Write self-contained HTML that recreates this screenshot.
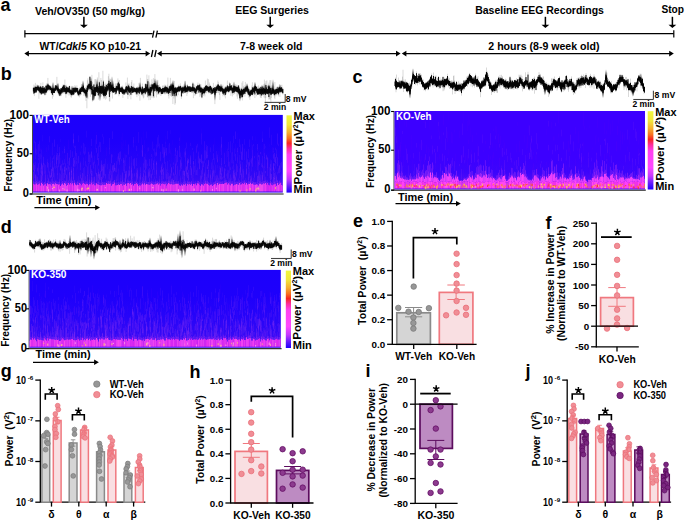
<!DOCTYPE html>
<html><head><meta charset="utf-8"><title>Figure</title>
<style>html,body{margin:0;padding:0;background:#fff;} body{width:685px;height:521px;overflow:hidden;font-family:"Liberation Sans",sans-serif;} svg{display:block;}</style>
</head><body>
<svg width="685" height="521" viewBox="0 0 685 521" font-family="Liberation Sans, sans-serif"><defs><linearGradient id="sg21" x1="0" y1="0" x2="0" y2="1"><stop offset="0" stop-color="#1c00fb"/><stop offset="0.35" stop-color="#1e00fb"/><stop offset="0.6" stop-color="#2604f9"/><stop offset="0.8" stop-color="#3208f6"/><stop offset="0.9" stop-color="#400cf4"/><stop offset="1" stop-color="#400cf4"/></linearGradient><clipPath id="cp21"><rect x="33" y="114.9" width="249.8" height="77.7"/></clipPath><filter id="blur" x="-5%" y="-5%" width="110%" height="110%"><feGaussianBlur stdDeviation="0.55"/></filter><linearGradient id="cb2865_115" x1="0" y1="0" x2="0" y2="1"><stop offset="0" stop-color="#f0f840"/><stop offset="0.12" stop-color="#f2e63c"/><stop offset="0.22" stop-color="#f6b030"/><stop offset="0.3" stop-color="#f87020"/><stop offset="0.36" stop-color="#f82420"/><stop offset="0.43" stop-color="#ff2c9c"/><stop offset="0.51" stop-color="#ff40f0"/><stop offset="0.72" stop-color="#ff48ff"/><stop offset="0.83" stop-color="#c438ff"/><stop offset="0.93" stop-color="#5a18fd"/><stop offset="1" stop-color="#2000fc"/></linearGradient><linearGradient id="sg22" x1="0" y1="0" x2="0" y2="1"><stop offset="0" stop-color="#3c00ff"/><stop offset="0.62" stop-color="#3c00ff"/><stop offset="0.78" stop-color="#3c04fc"/><stop offset="0.9" stop-color="#4c0cf8"/><stop offset="1" stop-color="#5010f8"/></linearGradient><clipPath id="cp22"><rect x="394.5" y="111" width="250.5" height="78.4"/></clipPath><linearGradient id="cb6477_111" x1="0" y1="0" x2="0" y2="1"><stop offset="0" stop-color="#f0f840"/><stop offset="0.12" stop-color="#f2e63c"/><stop offset="0.22" stop-color="#f6b030"/><stop offset="0.3" stop-color="#f87020"/><stop offset="0.36" stop-color="#f82420"/><stop offset="0.43" stop-color="#ff2c9c"/><stop offset="0.51" stop-color="#ff40f0"/><stop offset="0.72" stop-color="#ff48ff"/><stop offset="0.83" stop-color="#c438ff"/><stop offset="0.93" stop-color="#5a18fd"/><stop offset="1" stop-color="#2000fc"/></linearGradient><linearGradient id="sg23" x1="0" y1="0" x2="0" y2="1"><stop offset="0" stop-color="#1c00fb"/><stop offset="0.35" stop-color="#1e00fb"/><stop offset="0.6" stop-color="#2604f9"/><stop offset="0.8" stop-color="#3208f6"/><stop offset="0.9" stop-color="#400cf4"/><stop offset="1" stop-color="#400cf4"/></linearGradient><clipPath id="cp23"><rect x="29.6" y="269.9" width="251.2" height="77.9"/></clipPath><linearGradient id="cb2858_270" x1="0" y1="0" x2="0" y2="1"><stop offset="0" stop-color="#f0f840"/><stop offset="0.12" stop-color="#f2e63c"/><stop offset="0.22" stop-color="#f6b030"/><stop offset="0.3" stop-color="#f87020"/><stop offset="0.36" stop-color="#f82420"/><stop offset="0.43" stop-color="#ff2c9c"/><stop offset="0.51" stop-color="#ff40f0"/><stop offset="0.72" stop-color="#ff48ff"/><stop offset="0.83" stop-color="#c438ff"/><stop offset="0.93" stop-color="#5a18fd"/><stop offset="1" stop-color="#2000fc"/></linearGradient></defs><text x="0.6" y="10.6" font-size="18" font-weight="bold">a</text>
<text x="35" y="14.6" font-size="10.3" font-weight="bold" textLength="110" lengthAdjust="spacingAndGlyphs">Veh/OV350 (50 mg/kg)</text>
<line x1="83.9" y1="16.8" x2="83.9" y2="25.5" stroke="#000" stroke-width="1.5"/>
<path d="M80 24.7 L87.8 24.7 L83.9 28 Z" stroke="none" stroke-width="1.3" fill="#000"/>
<text x="235.2" y="13.8" font-size="10.3" font-weight="bold" textLength="73.7" lengthAdjust="spacingAndGlyphs">EEG Surgeries</text>
<line x1="270.2" y1="16.8" x2="270.2" y2="25.5" stroke="#000" stroke-width="1.5"/>
<path d="M266.3 24.7 L274.1 24.7 L270.2 28 Z" stroke="none" stroke-width="1.3" fill="#000"/>
<text x="475.2" y="13.8" font-size="10.3" font-weight="bold" textLength="128.7" lengthAdjust="spacingAndGlyphs">Baseline EEG Recordings</text>
<line x1="545.4" y1="16.8" x2="545.4" y2="25.5" stroke="#000" stroke-width="1.5"/>
<path d="M541.5 24.7 L549.3 24.7 L545.4 28 Z" stroke="none" stroke-width="1.3" fill="#000"/>
<text x="661.4" y="12.6" font-size="10.3" font-weight="bold" textLength="22.6" lengthAdjust="spacingAndGlyphs">Stop</text>
<line x1="672.4" y1="16.8" x2="672.4" y2="25.5" stroke="#000" stroke-width="1.5"/>
<path d="M668.5 24.7 L676.3 24.7 L672.4 28 Z" stroke="none" stroke-width="1.3" fill="#000"/>
<line x1="24.8" y1="33.6" x2="152.6" y2="33.6" stroke="#000" stroke-width="1.4"/>
<line x1="157.2" y1="33.6" x2="673.8" y2="33.6" stroke="#000" stroke-width="1.4"/>
<line x1="24.9" y1="30.2" x2="24.9" y2="37.4" stroke="#000" stroke-width="1.2"/>
<line x1="673.8" y1="30.2" x2="673.8" y2="37.4" stroke="#000" stroke-width="1.2"/>
<line x1="154" y1="30.6" x2="152.5" y2="37.6" stroke="#000" stroke-width="1.3"/>
<line x1="157.4" y1="30.6" x2="155.9" y2="37.6" stroke="#000" stroke-width="1.3"/>
<line x1="27.3" y1="53.6" x2="147.2" y2="53.6" stroke="#000" stroke-width="1.4"/>
<path d="M24.3 53.6 L28.9 50.8 L28.9 56.4 Z" stroke="none" stroke-width="1.3" fill="#000"/>
<path d="M150.2 53.6 L145.6 50.8 L145.6 56.4 Z" stroke="none" stroke-width="1.3" fill="#000"/>
<line x1="160.1" y1="53.6" x2="397.6" y2="53.6" stroke="#000" stroke-width="1.4"/>
<path d="M157.1 53.6 L161.7 50.8 L161.7 56.4 Z" stroke="none" stroke-width="1.3" fill="#000"/>
<path d="M400.6 53.6 L396 50.8 L396 56.4 Z" stroke="none" stroke-width="1.3" fill="#000"/>
<line x1="404.8" y1="53.6" x2="670.8" y2="53.6" stroke="#000" stroke-width="1.4"/>
<path d="M401.8 53.6 L406.4 50.8 L406.4 56.4 Z" stroke="none" stroke-width="1.3" fill="#000"/>
<path d="M673.8 53.6 L669.2 50.8 L669.2 56.4 Z" stroke="none" stroke-width="1.3" fill="#000"/>
<line x1="152.9" y1="50" x2="151.4" y2="57" stroke="#000" stroke-width="1.3"/>
<line x1="156.2" y1="50" x2="154.7" y2="57" stroke="#000" stroke-width="1.3"/>
<text x="39.5" y="49.6" font-size="10.3" font-weight="bold" textLength="101.5" lengthAdjust="spacingAndGlyphs">WT/<tspan font-style="italic">Cdkl5</tspan> KO p10-21</text>
<text x="240" y="49.6" font-size="10.3" font-weight="bold" textLength="62.5" lengthAdjust="spacingAndGlyphs">7-8 week old</text>
<text x="488.3" y="49.6" font-size="10.3" font-weight="bold" textLength="111.2" lengthAdjust="spacingAndGlyphs">2 hours (8-9 week old)</text>
<text x="0.8" y="79.6" font-size="18" font-weight="bold">b</text>
<path d="M33.4 87.53V92.84M33.9 84.57V94.41M34.4 85.69V96.09M34.9 86.9V92.55M35.4 82.85V93.1M35.9 86.72V92.89M36.4 84.73V92.98M36.9 86.65V90.49M37.4 84.49V91.04M37.9 85.4V91.43M38.4 85.69V90.89M38.9 85.26V98.82M39.4 87.52V93.3M39.9 85.6V92.55M40.4 86.1V94.62M40.9 82.82V92.54M41.4 87.23V94.47M41.9 87.12V92.92M42.4 86.42V94.01M42.9 82.4V94.26M43.4 87.69V93.75M43.9 87.26V93.11M44.4 86.71V93.52M44.9 88.53V95.77M45.4 88.16V93.02M45.9 84.96V94.98M46.4 83.35V93.34M46.9 84.25V91.11M47.4 84.7V92.41M47.9 77.91V89.17M48.4 84.69V90.18M48.9 84.95V91.48M49.4 85.25V90.9M49.9 85.19V90M50.4 85.68V90.6M50.9 85.46V91.83M51.4 87.52V93.77M51.9 88.55V93.79M52.4 84.69V98.73M52.9 87.61V92.75M53.4 87.98V96.53M53.9 86.69V93.24M54.4 87.59V93.05M54.9 85.85V93.23M55.4 85.11V91.4M55.9 86.56V91.14M56.4 84.57V90.97M56.9 76.87V92.58M57.4 84.27V92.31M57.9 84.12V92.9M58.4 88.1V95.64M58.9 88.71V94.88M59.4 88.79V95.15M59.9 89.93V96.33M60.4 88.38V95.05M60.9 88.29V94.32M61.4 88.2V96.12M61.9 88.41V94.35M62.4 86.3V93.04M62.9 84.54V91.54M63.4 85.71V93.62M63.9 84.04V90.46M64.4 84.79V93.05M64.9 79.57V93.79M65.4 88.07V93.2M65.9 87.74V97.73M66.4 84.81V93.62M66.9 86.68V93.21M67.4 87.62V94.45M67.9 86.86V91.9M68.4 87.7V92.67M68.9 87.98V95.69M69.4 85.45V94.61M69.9 88.04V94.01M70.4 89.44V94.24M70.9 86.42V97.21M71.4 88.47V97.64M71.9 90.31V95.39M72.4 88.25V95.67M72.9 86.39V95.55M73.4 86.65V94.62M73.9 87.06V95.37M74.4 87.83V94.03M74.9 85.11V92.56M75.4 86.21V92.5M75.9 87.43V92.56M76.4 86.95V92.54M76.9 85.34V91.6M77.4 87.4V94M77.9 88.05V95.66M78.4 88.13V96.41M78.9 90.59V95.52M79.4 88.15V97.39M79.9 87.08V94.5M80.4 87.7V94.28M80.9 87.15V94.47M81.4 84.29V94.87M81.9 83.98V90.57M82.4 85V91.61M82.9 86.76V92.68M83.4 82.64V92.57M83.9 87.63V95.97M84.4 87.39V94.33M84.9 88.97V95.19M85.4 87.71V96.88M85.9 86.96V100.91M86.4 89.24V94.09M86.9 85.25V108.34M87.4 80.38V96.57M87.9 78.35V99.16M88.4 83.87V88.62M88.9 82.49V90.25M89.4 83.12V89.15M89.9 76.45V91.49M90.4 80.87V96.82M90.9 80.85V91.35M91.4 85.46V93.01M91.9 74.82V95.01M92.4 81.96V101.64M92.9 85.78V100.87M93.4 88.79V99.07M93.9 83.57V99.43M94.4 87.38V96.22M94.9 79.22V96.57M95.4 79.18V96.32M95.9 85.64V92.6M96.4 85.84V93.52M96.9 84.4V95.69M97.4 77.51V95.08M97.9 82.41V91.99M98.4 86.35V99.66M98.9 72.23V95.69M99.4 80.73V94.03M99.9 83.61V100.64M100.4 85.39V96.99M100.9 77.94V92.66M101.4 80.03V96.61M101.9 83.77V94.18M102.4 84.58V93.55M102.9 70.76V94.68M103.4 80.03V96.22M103.9 83.73V98.99M104.4 87.32V98.08M104.9 83.85V94.57M105.4 84.76V99.67M105.9 82.59V94.58M106.4 84.53V98.63M106.9 87.69V92.11M107.4 83.37V93.19M107.9 83.51V92.08M108.4 76.22V89.7M108.9 73.72V94.23M109.4 80.87V101.32M109.9 78.51V101.45M110.4 79.16V94.25M110.9 81.86V90.97M111.4 85.59V91.36M111.9 84.44V92.43M112.4 87.83V98.5M112.9 86.19V92.25M113.4 84.13V92.79M113.9 86.84V92.57M114.4 87.97V92.48M114.9 85.98V94.99M115.4 83.42V91.96M115.9 87.59V94.79M116.4 83.36V93.35M116.9 87.39V91.14M117.4 83.41V90.42M117.9 78.38V91.47M118.4 80.77V91.38M118.9 84.78V96.31M119.4 80.01V94.66M119.9 86.44V93.2M120.4 87.43V92.01M120.9 86.38V91.86M121.4 86.27V92.82M121.9 85.96V93.2M122.4 85.56V93.97M122.9 86.45V97.91M123.4 88.1V93.71M123.9 89.58V94.64M124.4 89.53V94.96M124.9 88.73V94.83M125.4 87.95V92.67M125.9 82.44V93.89M126.4 85.78V93.87M126.9 85.65V93.71M127.4 77.57V94.13M127.9 83.72V98.96M128.4 83.55V92.79M128.9 85.59V92.11M129.4 83.61V96.27M129.9 86.49V93.35M130.4 88.22V94.65M130.9 85.57V99.39M131.4 82.12V92.54M131.9 80.09V95.2M132.4 86.93V93.02M132.9 85.77V93.1M133.4 86.83V92.31M133.9 83.49V92.63M134.4 87.49V93.02M134.9 88.12V92.01M135.4 88.62V94.51M135.9 88.27V92.73M136.4 86.89V94.74M136.9 87.97V97.21M137.4 86.55V94.27M137.9 86.64V93.47M138.4 86.91V95.72M138.9 82.91V92.88M139.4 86.96V94.47M139.9 87.62V100.69M140.4 77.83V92.91M140.9 86.17V92.22M141.4 87.24V94.2M141.9 88.79V95.4M142.4 83.5V96.34M142.9 87.95V93.44M143.4 87.4V98.42M143.9 88.31V97.53M144.4 88.23V93.69M144.9 87.71V94.44M145.4 83.09V95.07M145.9 83.39V92.36M146.4 83.83V93.17M146.9 74.6V93M147.4 79.34V97.07M147.9 79.18V94.18M148.4 88.47V95.47M148.9 75.33V100.18M149.4 82.26V96.29M149.9 91.7V97.17M150.4 86.97V99.97M150.9 84.73V95.78M151.4 83.44V91.74M151.9 79.31V98.16M152.4 84.87V88.99M152.9 82.4V93.3M153.4 78.1V98.21M153.9 83.27V89.52M154.4 82.95V97.74M154.9 74.07V91.7M155.4 81.14V88.81M155.9 83.69V93.25M156.4 85.25V97.47M156.9 85.63V92.08M157.4 85.02V94.84M157.9 80.17V91.66M158.4 85.76V94.16M158.9 87.09V95.06M159.4 84.44V92.68M159.9 85.94V93.65M160.4 86.76V92.13M160.9 88.56V95.97M161.4 88.59V94.2M161.9 88.89V94.51M162.4 85.83V93.98M162.9 85.32V94.03M163.4 87.65V93.81M163.9 85.51V92.26M164.4 86.21V93.5M164.9 84.52V91.29M165.4 84.96V92.11M165.9 85.46V92.2M166.4 86.8V91.65M166.9 86.47V94.02M167.4 84.6V92.35M167.9 77.55V93.58M168.4 86.74V96.03M168.9 87.83V98.54M169.4 84.87V94.57M169.9 86.2V93M170.4 77.86V96.08M170.9 83.65V90.82M171.4 82.81V96.92M171.9 82.99V92.91M172.4 82.36V94.38M172.9 83.15V104.08M173.4 83.71V93M173.9 85.15V98.52M174.4 80.95V95.06M174.9 86.15V104.79M175.4 86.69V103.27M175.9 87.09V93.95M176.4 88.14V96.16M176.9 87.53V97.2M177.4 86.88V92.21M177.9 87.2V92.06M178.4 85.53V95.18M178.9 84.57V91.52M179.4 86.47V92.28M179.9 86.35V91.86M180.4 83.31V90.08M180.9 85.68V90.99M181.4 86.28V98.78M181.9 87.7V96.54M182.4 85.81V92.42M182.9 85.95V94.02M183.4 86.67V91.41M183.9 84.45V93.66M184.4 85.5V91.09M184.9 86.88V92.84M185.4 81.08V93.29M185.9 87.29V93.06M186.4 85.33V91.82M186.9 87.2V96M187.4 83.99V93.78M187.9 87V92.17M188.4 86.72V91.99M188.9 85.81V92.7M189.4 86.48V92.01M189.9 86.09V90.21M190.4 85.87V92.01M190.9 88.25V92.26M191.4 87.55V92.34M191.9 86.22V93.08M192.4 83.62V92.83M192.9 81.91V92.13M193.4 86.19V98.18M193.9 83.69V92.6M194.4 87.24V91.82M194.9 84.76V95.88M195.4 88.19V94.78M195.9 88.92V94.48M196.4 86.53V92.63M196.9 86.12V93.28M197.4 84.33V89.92M197.9 82.49V94.01M198.4 84.83V90.82M198.9 84.94V92.63M199.4 83.24V92.08M199.9 87.29V97.06M200.4 87.49V95.51M200.9 84.19V92.6M201.4 86.62V93.41M201.9 88.67V98.42M202.4 87.72V95.28M202.9 87.11V93.62M203.4 87.11V95.9M203.9 89.32V93.68M204.4 86.92V95.14M204.9 87.13V96.48M205.4 80.54V92.34M205.9 85.22V92.95M206.4 85.03V93.4M206.9 84.65V91.2M207.4 78.57V91.62M207.9 86.92V90.43M208.4 79.16V93.46M208.9 86.34V91.68M209.4 82.48V92.27M209.9 84.36V93.41M210.4 85.39V90.49M210.9 86.01V94.8M211.4 87.13V94.91M211.9 88.56V94.73M212.4 87.62V93.59M212.9 86.86V93.01M213.4 82.87V94.11M213.9 88.02V92.97M214.4 88.23V92.15M214.9 86.74V104.11M215.4 87.51V95.23M215.9 84.58V93.68M216.4 86.49V91.09M216.9 85.08V92.78M217.4 84.19V90.23M217.9 80.54V92.94M218.4 82.22V93.16M218.9 85.44V90.55M219.4 85.84V95.04M219.9 85.53V99.94M220.4 85.94V91.89M220.9 85.93V92.29M221.4 87.09V91.59M221.9 85.73V91.22M222.4 88.14V93.51M222.9 84.59V96.38M223.4 88.7V94.48M223.9 87.69V94.91M224.4 88.1V96.35M224.9 86.7V95.51M225.4 85.99V98.39M225.9 86.55V94.18M226.4 86.76V94.45M226.9 86.69V91.47M227.4 80.55V92.31M227.9 86.32V92.02M228.4 86.33V93.38M228.9 85.82V92.46M229.4 81.99V92.33M229.9 83.36V90.91M230.4 85.21V90.94M230.9 86.08V95.83M231.4 85.06V90.72M231.9 86.42V93.42M232.4 84.45V96.52M232.9 85.02V92.99M233.4 86.21V94.81M233.9 85.19V92.16M234.4 86.06V93.77M234.9 86.4V94.3M235.4 84.34V92.01M235.9 84.58V91.9M236.4 85.86V92.14M236.9 84.73V96.52M237.4 86.5V98.75M237.9 86.29V92.71M238.4 85.42V93.61M238.9 87.49V96.08M239.4 85.59V94.68M239.9 87.6V98.77M240.4 90.64V95.11M240.9 88.67V98.42M241.4 87.62V95.22M241.9 82.66V97.78M242.4 88.89V100.41M242.9 81.04V94.54M243.4 86.13V96.6M243.9 87.58V94.15M244.4 88.23V94.26M244.9 85.14V96.65M245.4 81.9V93.42M245.9 86.31V92.35M246.4 87.98V91.89M246.9 85.56V93.34M247.4 84.8V94.46M247.9 85.95V95.4M248.4 88.61V94.41M248.9 86.84V97.75M249.4 89.83V97.14M249.9 90.85V99.88M250.4 89.32V95.83M250.9 89.57V95.95M251.4 89.22V94.73M251.9 85.48V95.09M252.4 82.29V95.16M252.9 87.77V96.35M253.4 86.4V93.68M253.9 86.04V94.71M254.4 85.27V93.07M254.9 82.42V98.07M255.4 83.92V91.31M255.9 86.16V91M256.4 86.03V96.25M256.9 86.21V93.53M257.4 88.07V94.4M257.9 86.57V95M258.4 85.38V94.78M258.9 89.03V93.67M259.4 86.72V95.57M259.9 87.46V93.95M260.4 87.05V97.88M260.9 86.58V96.57M261.4 86.86V98.05M261.9 86.45V93.59M262.4 88.2V95.58M262.9 86V95.39M263.4 84.38V94.82M263.9 87.23V97.45M264.4 79.65V93.95M264.9 88.48V98.32M265.4 88.75V104.18M265.9 81.14V97.9M266.4 85.65V93.4M266.9 80.28V94.33M267.4 85.98V94.89M267.9 85.16V94.04M268.4 84.33V97.02M268.9 82.62V99.69M269.4 85.31V99.19M269.9 80.2V93.75M270.4 85.92V99.56M270.9 80.1V103.38M271.4 85.39V97.94M271.9 87.19V94.21M272.4 85.94V94.15M272.9 84.96V93.55M273.4 88.47V95.26M273.9 86.32V94.99M274.4 88.83V97.71M274.9 82.04V99.2M275.4 88.42V94.59M275.9 89.08V96.37M276.4 87.13V94.84M276.9 86.69V94.66M277.4 88.89V93.36M277.9 85.95V94.33M278.4 87.86V96.36M278.9 86.83V94.19M279.4 84.17V91.91M279.9 86.59V96.91M280.4 87.67V92.41M280.9 85.04V92.7M281.4 87.22V92.28M281.9 84.71V92.54M282.4 87.57V93.84M282.9 87.67V94.63" stroke="#000" stroke-width="0.5" opacity="0.3" fill="none"/>
<path d="M33.4 87.69V91.46M33.9 88.08V93.67M34.4 88.07V92.94M34.9 87.29V92.34M35.4 86.73V91.61M35.9 86.88V92.67M36.4 86.98V91.77M36.9 86.84V89.9M37.4 86.76V90.25M37.9 85.49V89.33M38.4 86.78V90.55M38.9 86.71V91.17M39.4 87.77V91.62M39.9 87.21V92.51M40.4 86.59V93.31M40.9 86.63V92.16M41.4 87.73V94.39M41.9 88.15V92.69M42.4 87.81V92.79M42.9 86.04V93.71M43.4 87.9V93.2M43.9 88.46V92.43M44.4 87.44V92.61M44.9 88.77V94.68M45.4 88.94V92.23M45.9 85.84V92.99M46.4 85.68V92.2M46.9 86.55V90.57M47.4 85.16V90.42M47.9 83.69V89.12M48.4 84.82V89.23M48.9 85.87V90.02M49.4 85.62V89.23M49.9 86.08V89.29M50.4 86.74V90.01M50.9 86.66V90.18M51.4 87.98V93M51.9 88.7V93.19M52.4 88.6V94.93M52.9 88.59V92.43M53.4 88.57V92.89M53.9 89.02V92.95M54.4 88.46V92.98M54.9 87.7V91.05M55.4 85.29V90.77M55.9 86.74V90.04M56.4 85.53V89.13M56.9 85.91V90M57.4 87.42V90.91M57.9 88.3V91.59M58.4 88.86V93.12M58.9 88.8V93.64M59.4 89.14V94.52M59.9 90.55V96.06M60.4 89.65V94.61M60.9 88.4V94.1M61.4 88.22V92.46M61.9 88.85V93.23M62.4 86.84V92.3M62.9 86.85V90.3M63.4 85.74V92.2M63.9 84.99V90.37M64.4 87.19V92.01M64.9 85.43V91.08M65.4 88.2V92.16M65.9 88V94.15M66.4 86.66V93.47M66.9 87.99V92.68M67.4 88.21V91.99M67.9 86.91V91.39M68.4 88.02V91.99M68.9 88.05V92.48M69.4 86.02V92.51M69.9 89.2V93.08M70.4 90.05V93.38M70.9 90.58V94.58M71.4 90.35V95.21M71.9 90.73V94.75M72.4 90.84V94.23M72.9 87.98V94.61M73.4 87.91V94.53M73.9 89.76V94.31M74.4 88.14V92.19M74.9 87.57V92.35M75.4 87.79V92.47M75.9 88.4V91.86M76.4 87.94V91.76M76.9 88.1V91.49M77.4 88.06V92.97M77.9 90.44V94.32M78.4 91.81V95.32M78.9 90.91V94.64M79.4 89.78V94.21M79.9 89.17V92.67M80.4 88.26V93.99M80.9 88.51V91.91M81.4 87.26V91.94M81.9 86.57V90.18M82.4 87.08V91.52M82.9 87.1V91.68M83.4 85.67V91.94M83.9 88.22V92.37M84.4 88.49V93.23M84.9 89.54V93.22M85.4 89.55V93.53M85.9 90.15V95.78M86.4 89.8V93.6M86.9 87.81V97.7M87.4 85.77V91.88M87.9 85.36V90.31M88.4 84.56V88.3M88.9 83.79V89.25M89.4 83.97V87.78M89.9 76.75V89.14M90.4 84.77V88.96M90.9 81.1V89.34M91.4 86.7V90.02M91.9 85.89V94.33M92.4 89.23V94.16M92.9 86.26V100.27M93.4 90.03V95.06M93.9 84.51V94.54M94.4 87.46V95.56M94.9 87.1V96.03M95.4 87.08V95.71M95.9 88.45V91.62M96.4 86.68V92M96.9 84.5V91.33M97.4 86.92V92.86M97.9 87.23V91.54M98.4 87.73V95.43M98.9 85.88V91.72M99.4 82.3V92.27M99.9 87.7V93.37M100.4 85.99V93.08M100.9 86.62V90.72M101.4 85.79V93.92M101.9 87.52V92.94M102.4 85.65V92.98M102.9 87.31V94.54M103.4 81.51V95.22M103.9 86.85V96.03M104.4 88.81V95.47M104.9 86.25V94.39M105.4 87.21V96.11M105.9 87.18V94.28M106.4 84.88V94.85M106.9 87.69V91.57M107.4 86.04V90.45M107.9 83.99V90.63M108.4 83.16V88.72M108.9 80.69V90.38M109.4 83.52V96.95M109.9 83.7V89.42M110.4 82.08V91.74M110.9 84.85V89.6M111.4 85.97V90.97M111.9 84.68V90.84M112.4 88.08V92.39M112.9 87.04V91.56M113.4 87.08V92.6M113.9 87.95V92.48M114.4 88.05V91.52M114.9 88.33V91.77M115.4 88.03V91.61M115.9 87.69V94.05M116.4 85.84V92.6M116.9 87.45V90.64M117.4 86.18V89.55M117.9 83.4V90.49M118.4 82.42V88.98M118.9 85.19V90.25M119.4 83.66V94.04M119.9 87.34V90.72M120.4 88.18V91.96M120.9 88.07V91.63M121.4 87.8V92.06M121.9 87.09V92.44M122.4 87.68V93.58M122.9 88.77V93.9M123.4 89.34V93.15M123.9 89.83V94.52M124.4 89.67V93.47M124.9 89.71V93.37M125.4 88.73V92.33M125.9 86.75V92M126.4 86.35V92.53M126.9 86.4V90.4M127.4 87.32V90.36M127.9 86.76V94.77M128.4 85.41V91.42M128.9 86.08V91.77M129.4 87.41V92.81M129.9 88.55V92.38M130.4 88.25V92.13M130.9 87.72V94.71M131.4 86.08V90.89M131.9 88.56V92.73M132.4 87.29V92.57M132.9 86.76V92.5M133.4 88.66V92.18M133.9 87.52V91.98M134.4 88.05V91.6M134.9 88.39V91.75M135.4 88.78V91.95M135.9 88.31V92.32M136.4 87.73V93.41M136.9 88.2V94.33M137.4 88.33V92.5M137.9 87.62V91.66M138.4 88.56V92.71M138.9 87.7V90.99M139.4 87.34V93.68M139.9 87.85V91.16M140.4 87.48V91.46M140.9 87.77V91.95M141.4 89.3V93.33M141.9 89.51V94.7M142.4 86.61V93.72M142.9 89.39V93.39M143.4 89.23V92.88M143.9 88.35V92.64M144.4 88.41V92.67M144.9 87.98V91.66M145.4 84.09V93.66M145.9 86.44V91.17M146.4 86.83V91.85M146.9 84.27V90.09M147.4 84.52V91.38M147.9 81.22V90.8M148.4 89.12V93.02M148.9 87.65V95.71M149.4 88.87V95.12M149.9 91.74V95.35M150.4 86.99V95.5M150.9 87.74V92.77M151.4 86.92V91.43M151.9 84.37V89.4M152.4 85.25V88.75M152.9 84.13V90.56M153.4 84.55V96.28M153.9 83.45V88.94M154.4 83.37V91.28M154.9 83.26V88.09M155.4 85.2V88.57M155.9 84.52V90.91M156.4 85.61V90.18M156.9 86.72V91.6M157.4 87.18V90.88M157.9 85.22V90.98M158.4 87.68V93.5M158.9 87.28V92.52M159.4 87.19V91.99M159.9 87.12V90.97M160.4 88.12V91.51M160.9 88.97V92.4M161.4 88.99V94M161.9 89.05V92.48M162.4 88.1V93.97M162.9 88.66V93.21M163.4 88.23V92.09M163.9 87.94V91.55M164.4 87.84V92.19M164.9 86.96V90.98M165.4 86.43V91.51M165.9 87.46V91.51M166.4 86.89V91.64M166.9 87.93V93.24M167.4 87.43V92.16M167.9 88.25V92.4M168.4 88.65V93.86M168.9 88.77V93.01M169.4 86.16V91.68M169.9 87.15V93M170.4 85.89V91.04M170.9 84.58V90.65M171.4 86.23V89.37M171.9 84.48V89.9M172.4 84.72V90.96M172.9 85.72V95.99M173.4 85.32V92.52M173.9 87.5V94.25M174.4 88.02V93.79M174.9 87.63V96.24M175.4 87.88V92.92M175.9 87.35V92.63M176.4 88.78V95.63M176.9 87.9V92.4M177.4 87.66V91.65M177.9 87.26V91.83M178.4 86.45V91M178.9 86.92V91.36M179.4 86.54V91.25M179.9 86.88V91.23M180.4 85.89V90.04M180.9 87.09V90.71M181.4 87.97V96.42M181.9 87.79V93M182.4 87.41V92.07M182.9 87.39V93.28M183.4 88.05V91.23M183.9 86.81V91.44M184.4 86.6V90.76M184.9 87.02V92.8M185.4 85.72V91.76M185.9 88.06V92.1M186.4 87.5V91.74M186.9 87.44V92.13M187.4 85.53V91.51M187.9 87.13V90.33M188.4 86.88V90.6M188.9 86.11V90.52M189.4 87.18V91.55M189.9 86.47V90.1M190.4 86.85V91.82M190.9 88.32V91.56M191.4 87.58V90.86M191.9 87.1V91.37M192.4 86.66V91.05M192.9 83.51V91.23M193.4 87.37V90.91M193.9 87.44V91.31M194.4 87.67V91.58M194.9 87.91V93.04M195.4 88.67V93.09M195.9 89.11V94M196.4 86.64V91.6M196.9 86.43V91.11M197.4 85.79V89.69M197.9 85.09V89.84M198.4 85.65V89.92M198.9 85.65V92.59M199.4 84.73V90.86M199.9 87.98V91.35M200.4 87.61V92.48M200.9 87.99V92.19M201.4 87.59V92.08M201.9 89.44V97.51M202.4 88.97V94.31M202.9 88.4V92.82M203.4 88.87V93.3M203.9 89.64V93.09M204.4 87.41V93.39M204.9 87.89V92.56M205.4 85.89V91.42M205.9 86.45V90.44M206.4 85.43V90.58M206.9 86.14V90.91M207.4 86.35V90.61M207.9 86.97V89.96M208.4 86.75V92.28M208.9 87.4V90.91M209.4 86.76V91.44M209.9 86.2V92.69M210.4 85.93V89.76M210.9 86.78V93.19M211.4 87.76V91.3M211.9 88.67V93.99M212.4 89.79V93.48M212.9 89.37V92.8M213.4 88.06V91.34M213.9 88.03V92.77M214.4 88.58V91.69M214.9 87V94.63M215.4 88.56V92.38M215.9 87.41V92.97M216.4 87.09V90.72M216.9 86.07V90.9M217.4 85.61V89.54M217.9 84.56V89.45M218.4 84.52V90.89M218.9 85.52V89.83M219.4 86.14V90.88M219.9 86.07V91.18M220.4 87.22V91.08M220.9 87.23V91.84M221.4 87.58V90.84M221.9 86.42V90.73M222.4 88.22V92.24M222.9 88.45V93.74M223.4 89.37V93M223.9 88.92V94.47M224.4 89.48V92.81M224.9 88.59V93.08M225.4 87.48V94.9M225.9 87.61V92.61M226.4 88.46V91.8M226.9 86.73V90.85M227.4 85.42V90.9M227.9 86.4V91.41M228.4 87.64V91.66M228.9 86.39V91.83M229.4 86.34V90.79M229.9 83.51V90.54M230.4 85.77V90.12M230.9 86.21V90.12M231.4 85.29V89.88M231.9 87.74V91.24M232.4 87.79V93.18M232.9 87.51V91.81M233.4 88.24V92.78M233.9 85.81V91.43M234.4 86.14V92.35M234.9 87.77V90.97M235.4 86.31V90.97M235.9 86.97V91.54M236.4 86.87V91.47M236.9 87.51V91.89M237.4 87.38V92.31M237.9 86.93V92.11M238.4 85.45V92.9M238.9 87.54V94.33M239.4 88.85V93.74M239.9 89.66V98.08M240.4 90.94V94.73M240.9 90.6V95.46M241.4 88.78V95.19M241.9 89.69V97.31M242.4 89.78V97.07M242.9 90.04V93.77M243.4 88.72V94.47M243.9 89.14V92.1M244.4 89.1V93.27M244.9 87.54V94.03M245.4 87.6V91.75M245.9 86.58V91.39M246.4 88.34V91.59M246.9 86.55V90.59M247.4 86.47V91.78M247.9 87.89V93.21M248.4 89.23V94.19M248.9 89.3V95.01M249.4 91.63V95.38M249.9 91.47V96.43M250.4 90.6V95.71M250.9 90.43V93.81M251.4 90.01V94.61M251.9 89.59V94.57M252.4 87.35V94.87M252.9 88.65V93.69M253.4 88.27V91.85M253.9 87.31V92.13M254.4 86.62V92.79M254.9 87.29V94.44M255.4 85.97V90.89M255.9 86.73V90.63M256.4 87.01V91.6M256.9 88.94V92.95M257.4 89.04V94.08M257.9 88.63V94.94M258.4 88.85V94.11M258.9 89.89V93.51M259.4 88.31V94.24M259.9 88.87V93.01M260.4 88.9V94.29M260.9 86.85V94.05M261.4 88.51V95.51M261.9 89.88V93.18M262.4 88.88V94.16M262.9 86.61V94.45M263.4 88V93.53M263.9 88.7V94.43M264.4 88.7V93.45M264.9 88.97V93.8M265.4 89.36V94.97M265.9 85.05V93.5M266.4 87.43V93.08M266.9 89.66V94.09M267.4 89.12V93.88M267.9 88.87V93.32M268.4 86.48V93.57M268.9 85.52V97.09M269.4 86.53V93.22M269.9 88.44V93.08M270.4 87.79V93.69M270.9 88.72V95.05M271.4 90.23V94.48M271.9 87.81V93.83M272.4 88.57V93.6M272.9 89.11V93.5M273.4 89.2V93.23M273.9 89.42V93.8M274.4 90.43V95.25M274.9 89.74V94.31M275.4 89.66V94.15M275.9 89.44V94.05M276.4 88.84V93.62M276.9 88.81V92.54M277.4 89V93.09M277.9 87.11V92.63M278.4 88.43V94.32M278.9 88.28V92.65M279.4 87.14V91.55M279.9 88.01V92.46M280.4 87.99V91.9M280.9 87.59V91.66M281.4 87.27V91.17M281.9 88.5V92.06M282.4 89.31V92.71M282.9 89.05V93.24" stroke="#000" stroke-width="0.95" fill="none"/>
<path d="M52.1 90.86L53 81.86L53.9 90.86Z" stroke="none" stroke-width="1.3" fill="#000"/>
<path d="M57.1 89.72L58 82.72L58.9 89.72Z" stroke="none" stroke-width="1.3" fill="#000"/>
<path d="M71.1 92.53L72 85.53L72.9 92.53Z" stroke="none" stroke-width="1.3" fill="#000"/>
<path d="M79.1 90.96L80 95.96L80.9 90.96Z" stroke="none" stroke-width="1.3" fill="#000"/>
<path d="M82.1 89.35L83 80.35L83.9 89.35Z" stroke="none" stroke-width="1.3" fill="#000"/>
<path d="M85.1 91.98L86 97.98L86.9 91.98Z" stroke="none" stroke-width="1.3" fill="#000"/>
<path d="M90.1 86.3L91 77.3L91.9 86.3Z" stroke="none" stroke-width="1.3" fill="#000"/>
<path d="M93.1 92.84L94 100.84L94.9 92.84Z" stroke="none" stroke-width="1.3" fill="#000"/>
<path d="M96.1 88.64L97 78.64L97.9 88.64Z" stroke="none" stroke-width="1.3" fill="#000"/>
<path d="M99.1 90.41L100 100.41L100.9 90.41Z" stroke="none" stroke-width="1.3" fill="#000"/>
<path d="M103.1 91.75L104 97.75L104.9 91.75Z" stroke="none" stroke-width="1.3" fill="#000"/>
<path d="M111.1 89.37L112 76.37L112.9 89.37Z" stroke="none" stroke-width="1.3" fill="#000"/>
<path d="M112.1 89.62L113 80.62L113.9 89.62Z" stroke="none" stroke-width="1.3" fill="#000"/>
<path d="M118.1 87.98L119 93.98L119.9 87.98Z" stroke="none" stroke-width="1.3" fill="#000"/>
<path d="M139.1 89.64L140 81.64L140.9 89.64Z" stroke="none" stroke-width="1.3" fill="#000"/>
<path d="M147.1 89L148 98L148.9 89Z" stroke="none" stroke-width="1.3" fill="#000"/>
<path d="M149.1 93.49L150 83.49L150.9 93.49Z" stroke="none" stroke-width="1.3" fill="#000"/>
<path d="M154.1 86.44L155 78.44L155.9 86.44Z" stroke="none" stroke-width="1.3" fill="#000"/>
<path d="M156.1 89.35L157 79.35L157.9 89.35Z" stroke="none" stroke-width="1.3" fill="#000"/>
<path d="M164.1 88.83L165 94.83L165.9 88.83Z" stroke="none" stroke-width="1.3" fill="#000"/>
<path d="M171.1 87.52L172 96.52L172.9 87.52Z" stroke="none" stroke-width="1.3" fill="#000"/>
<path d="M172.1 88.07L173 80.07L173.9 88.07Z" stroke="none" stroke-width="1.3" fill="#000"/>
<path d="M184.1 90.35L185 80.35L185.9 90.35Z" stroke="none" stroke-width="1.3" fill="#000"/>
<path d="M199.1 89.79L200 83.79L200.9 89.79Z" stroke="none" stroke-width="1.3" fill="#000"/>
<path d="M214.1 90.67L215 100.67L215.9 90.67Z" stroke="none" stroke-width="1.3" fill="#000"/>
<path d="M220.1 89.39L221 83.39L221.9 89.39Z" stroke="none" stroke-width="1.3" fill="#000"/>
<path d="M233.1 89.56L234 81.56L234.9 89.56Z" stroke="none" stroke-width="1.3" fill="#000"/>
<path d="M239.1 92.55L240 101.55L240.9 92.55Z" stroke="none" stroke-width="1.3" fill="#000"/>
<path d="M246.1 89.11L247 83.11L247.9 89.11Z" stroke="none" stroke-width="1.3" fill="#000"/>
<path d="M254.1 88.92L255 81.92L255.9 88.92Z" stroke="none" stroke-width="1.3" fill="#000"/>
<path d="M261.1 91.55L262 84.55L262.9 91.55Z" stroke="none" stroke-width="1.3" fill="#000"/>
<path d="M264.1 91.99L265 82.99L265.9 91.99Z" stroke="none" stroke-width="1.3" fill="#000"/>
<path d="M272.1 91.37L273 79.37L273.9 91.37Z" stroke="none" stroke-width="1.3" fill="#000"/>
<path d="M279.1 90.13L280 84.13L280.9 90.13Z" stroke="none" stroke-width="1.3" fill="#000"/>
<line x1="32.5" y1="114.9" x2="32.5" y2="194" stroke="#333" stroke-width="0.9"/>
<line x1="29.6" y1="194" x2="283.6" y2="194" stroke="#666" stroke-width="1.3"/>
<line x1="29.6" y1="115.4" x2="32.4" y2="115.4" stroke="#000" stroke-width="1.1"/>
<text x="29" y="118.6" font-size="12" text-anchor="end" font-weight="bold" textLength="19.5" lengthAdjust="spacingAndGlyphs">100</text>
<line x1="29.6" y1="153.75" x2="32.4" y2="153.75" stroke="#000" stroke-width="1.1"/>
<text x="29" y="156.95" font-size="12" text-anchor="end" font-weight="bold" textLength="12.2" lengthAdjust="spacingAndGlyphs">50</text>
<line x1="29.6" y1="194" x2="32.4" y2="194" stroke="#000" stroke-width="1.1"/>
<text x="29" y="197.2" font-size="12" text-anchor="end" font-weight="bold" textLength="6.2" lengthAdjust="spacingAndGlyphs">0</text>
<text x="12.4" y="155.3" font-size="10.8" font-weight="bold" text-anchor="middle" transform="rotate(-90 12.4 155.3)" textLength="73" lengthAdjust="spacingAndGlyphs">Frequency (Hz)</text>
<text x="36.3" y="204.4" font-size="11" font-weight="bold" textLength="55.2" lengthAdjust="spacingAndGlyphs">Time (min)</text>
<line x1="34.4" y1="207.6" x2="97" y2="207.6" stroke="#000" stroke-width="1.3"/>
<path d="M100 207.6 L95.2 204.9 L95.2 210.3 Z" stroke="none" stroke-width="1.3" fill="#000"/>
<rect x="33" y="114.9" width="249.8" height="77.7" fill="url(#sg21)" stroke="none" stroke-width="1"/>
<g clip-path="url(#cp21)"><g filter="url(#blur)"><path d="M180 158.61h1v11.2h-1zM48 144.71h1v6.1h-1zM262 131.27h1v10.74h-1zM170 129.98h1v4.13h-1zM184 148.58h1v6.66h-1zM121 175.33h1v4.62h-1zM116 163.98h1v8.43h-1zM275 159.27h1v3.9h-1zM77 158.18h1v10.97h-1zM239 160.78h1v6.42h-1zM270 165.23h1v4.87h-1zM60 138.79h1v3.48h-1zM199 158.65h1v11.05h-1zM193 165.94h1v11.51h-1zM42 134.86h1v6.65h-1zM43 162.85h1v5.92h-1zM141 149.52h1v3.11h-1zM154 158.58h1v5.63h-1z" fill="#a038f0" opacity="0.05"/><path d="M121 136.99h1v3h-1zM96 131.84h1v7.6h-1zM251 142.15h1v9.73h-1zM241 155.94h1v8.75h-1zM237 133.04h1v10.14h-1zM175 167.23h1v11.66h-1zM255 136.38h1v4.99h-1zM135 136.08h1v6.89h-1zM51 161.71h1v2.09h-1zM74 160.64h1v5.23h-1zM125 139.71h1v6.37h-1zM122 132.99h1v6.97h-1zM260 159.43h1v4.04h-1zM143 156.54h1v10.99h-1zM172 139.74h1v5.42h-1zM201 128.62h1v10.4h-1zM121 141.89h1v6.99h-1zM34 162h1v2.16h-1zM206 169.65h1v8.47h-1zM89 152.34h1v4.36h-1zM176 160.89h1v7.22h-1zM269 143.77h1v2.89h-1zM249 157.76h1v2.17h-1zM114 163.3h1v2.07h-1zM152 154.54h1v2.33h-1zM176 151.31h1v2.37h-1zM156 149h1v5.36h-1zM144 152.88h1v5.97h-1zM165 135.88h1v8.89h-1zM237 163.52h1v8.33h-1zM180 154.5h1v2.3h-1zM261 152.14h1v3.64h-1z" fill="#8a30f0" opacity="0.05"/><path d="M171 152.67h1v8.86h-1zM168 169.26h1v4.19h-1zM236 149.69h1v4.29h-1zM194 163.19h1v5.88h-1zM256 153.87h1v5.32h-1zM132 159.33h1v3.37h-1zM255 152.04h1v6.57h-1zM73 155.19h1v8.97h-1zM153 143.85h1v3.28h-1zM54 147.71h1v11.96h-1zM122 143.53h1v6.08h-1zM69 167.86h1v5.77h-1zM123 140.46h1v5.26h-1zM214 138.03h1v7.12h-1zM180 133.16h1v9.66h-1zM218 150.7h1v5.54h-1zM257 155.87h1v3.74h-1zM221 144.38h1v11.11h-1zM98 170.58h1v9.38h-1zM88 147.9h1v6.85h-1zM221 146.71h1v11.88h-1zM143 163.46h1v8.89h-1zM143 131.45h1v8.04h-1zM238 146.68h1v10.18h-1zM156 155.32h1v9.33h-1zM197 156.39h1v6.25h-1zM40 158.64h1v2.97h-1zM94 166.85h1v4.61h-1zM131 165.24h1v2.96h-1z" fill="#6a20f4" opacity="0.05"/><path d="M95 139.36h1v9.93h-1zM183 174.58h1v6.93h-1zM220 165.94h1v5.98h-1zM196 145.62h1v6.35h-1zM137 168.76h1v8.87h-1zM232 142.96h1v11.24h-1zM62 151.05h1v2.6h-1zM280 137.8h1v9.68h-1zM199 157.46h1v11.94h-1zM276 154.19h1v10.12h-1zM154 156.5h1v6.19h-1zM165 141.43h1v7.04h-1zM97 164.34h1v5.12h-1zM84 143.82h1v10.8h-1zM146 131.23h1v7.37h-1zM169 159.69h1v2.17h-1zM145 153.49h1v7.65h-1zM164 150.46h1v6.17h-1zM217 164.97h1v3.38h-1zM175 156.54h1v10.43h-1zM152 155.96h1v5.58h-1zM89 154.89h1v7.48h-1zM265 146.05h1v2.07h-1zM202 161.94h1v2.18h-1z" fill="#b040f0" opacity="0.05"/><path d="M227 169.79h1v9.1h-1zM52 147.54h1v7.68h-1zM204 150.49h1v7.96h-1zM198 160.47h1v2.2h-1zM136 168.42h1v5.67h-1zM83 174.22h1v10.07h-1zM233 160.18h1v3.27h-1zM56 152.6h1v11.04h-1zM252 136.22h1v4.13h-1zM73 139.37h1v7.23h-1zM215 164.82h1v8.06h-1zM271 134.79h1v10.49h-1zM159 179.06h1v8.33h-1zM216 150.98h1v8.17h-1zM150 173.44h1v4.16h-1zM180 152.58h1v5.41h-1zM230 179.17h1v4.15h-1zM69 169.74h1v10.78h-1zM156 162.5h1v2.82h-1zM109 169.02h1v4.12h-1zM204 176.89h1v9.38h-1zM251 178.37h1v2.34h-1zM70 178.16h1v8.21h-1zM263 166.13h1v10.4h-1zM192 174.83h1v8.18h-1zM198 156.19h1v3.59h-1zM111 174.67h1v9.69h-1zM244 139.37h1v5.28h-1zM252 145.33h1v10.96h-1zM41 155.3h1v7.92h-1zM181 156.75h1v9.39h-1zM215 175.86h1v9.03h-1zM138 132.06h1v10.76h-1zM156 150.22h1v5.12h-1zM159 143.48h1v5.07h-1zM165 148.14h1v4.82h-1zM148 147.47h1v3.87h-1zM118 171.41h1v9.27h-1zM120 174.71h1v9.74h-1zM90 153.81h1v8.41h-1zM68 161.34h1v9.99h-1zM216 175.79h1v10.68h-1zM210 169.91h1v8.62h-1zM272 179.65h1v2.5h-1zM240 166.66h1v6.22h-1zM253 143.88h1v2.28h-1zM269 127.53h1v10.13h-1zM39 153.68h1v10.56h-1zM154 148.5h1v6.99h-1zM128 173.47h1v6.25h-1zM261 179.94h1v5.75h-1zM262 165.56h1v2.19h-1zM91 175.14h1v11.64h-1zM93 177.23h1v9.23h-1zM136 174.72h1v11.18h-1zM204 171.89h1v4.5h-1zM151 174.55h1v9.62h-1zM201 133.52h1v10.88h-1zM213 165.49h1v8.1h-1zM206 146.9h1v11.24h-1zM214 158.08h1v6.37h-1zM83 176.84h1v9.38h-1zM78 135.57h1v6.76h-1zM235 171.97h1v3.27h-1zM156 144.52h1v10.07h-1zM164 147.25h1v7.99h-1zM240 144.43h1v9.11h-1zM52 142.69h1v6.18h-1zM190 142.72h1v3.34h-1zM233 135.85h1v7.4h-1zM246 163.25h1v11.41h-1zM131 155.99h1v6.05h-1zM185 150.68h1v10.88h-1zM57 144.48h1v7.55h-1zM170 163.66h1v3.05h-1zM47 159.05h1v7.83h-1z" fill="#a038f0" opacity="0.1"/><path d="M245 178.06h1v4.22h-1zM213 144.19h1v7.52h-1zM83 157.24h1v8.41h-1zM193 177.5h1v9.08h-1zM118 180.73h1v4.78h-1zM69 175.26h1v9.92h-1zM109 147.41h1v7.17h-1zM254 170.41h1v11.3h-1zM140 177.23h1v11.03h-1zM276 154.11h1v2.99h-1zM168 172.57h1v5.07h-1zM248 162.58h1v9.33h-1zM224 171.81h1v5.6h-1zM225 178.1h1v5.24h-1zM164 149.23h1v8.2h-1zM205 163.05h1v2.99h-1zM195 165.97h1v9.63h-1zM75 151.32h1v10.21h-1zM167 130.81h1v8.69h-1zM52 179.1h1v6.96h-1zM270 159.14h1v7.61h-1zM227 148.62h1v8.49h-1zM250 159.3h1v3.18h-1zM184 179.2h1v6.04h-1zM251 165.78h1v5.93h-1zM102 133.91h1v3.36h-1zM101 178.98h1v3.13h-1zM274 176.08h1v4.04h-1zM242 161.93h1v9.78h-1zM92 155.17h1v10.59h-1zM226 173.68h1v2.81h-1zM98 180.64h1v3.09h-1zM86 164.23h1v2.84h-1zM238 177.41h1v9.94h-1zM219 165.87h1v3.97h-1zM48 180.6h1v2.88h-1zM257 148.33h1v2.59h-1zM75 160.99h1v5.47h-1zM89 173.73h1v6.89h-1zM39 140.28h1v11.15h-1zM111 170.71h1v9.39h-1zM86 130.52h1v7.16h-1zM103 136.58h1v7.51h-1zM54 154.68h1v10.41h-1zM125 157.74h1v8.27h-1zM273 171.65h1v8.79h-1zM50 156.35h1v7.8h-1zM273 147.47h1v5.02h-1zM152 143.26h1v2.72h-1zM117 156.17h1v8.63h-1zM250 179.48h1v2.14h-1zM81 145.32h1v2.92h-1zM67 164.71h1v11.22h-1zM80 171.92h1v3.54h-1zM202 160.76h1v2.5h-1zM152 141.23h1v8.62h-1zM94 155.45h1v8.22h-1zM153 178.67h1v7.28h-1zM258 172.28h1v5.75h-1zM232 166.31h1v2.57h-1zM105 158.41h1v9.38h-1zM249 167.42h1v9.48h-1zM80 151.49h1v3.42h-1zM165 168.42h1v10.2h-1zM125 154.52h1v11.18h-1zM267 162.83h1v5.14h-1zM262 171.77h1v10.08h-1zM213 171.35h1v2.07h-1zM36 148.78h1v6.43h-1zM169 146.31h1v7.31h-1z" fill="#8a30f0" opacity="0.1"/><path d="M197 143.77h1v3.75h-1zM63 162.88h1v2.15h-1zM225 164.85h1v2.1h-1zM34 170.07h1v7.88h-1zM133 136.94h1v5.97h-1zM96 173.11h1v3.2h-1zM271 160.26h1v11.36h-1zM280 163.02h1v8.88h-1zM62 160.36h1v4.91h-1zM89 154.61h1v9.12h-1zM154 176.29h1v2.84h-1zM109 138.11h1v11.3h-1zM230 141.23h1v11.42h-1zM276 174.74h1v9.51h-1zM261 163.29h1v3.64h-1zM83 142.69h1v10.76h-1zM92 177.36h1v10.75h-1zM112 131.24h1v7.81h-1zM155 152.24h1v4.38h-1zM253 177.79h1v10.34h-1zM264 157.2h1v10.87h-1zM227 172.96h1v5.5h-1zM175 150.31h1v5.34h-1zM185 147.78h1v7.17h-1zM234 169.5h1v11.91h-1zM73 176.71h1v5.33h-1zM205 166.22h1v3.31h-1zM34 140.38h1v2.75h-1zM108 180.15h1v4.73h-1zM102 168.85h1v6.2h-1zM136 145.85h1v5.16h-1zM249 139.58h1v7.44h-1zM163 171.99h1v2.8h-1zM212 178.43h1v2.32h-1zM80 163.18h1v3.68h-1zM110 177.85h1v7.51h-1zM136 158h1v8.08h-1zM198 152.21h1v11.34h-1zM109 171.27h1v7.42h-1zM205 150.37h1v9.9h-1zM71 168.7h1v4.45h-1zM157 137.34h1v10.16h-1zM161 176.05h1v3.92h-1zM176 174.39h1v11.57h-1zM149 179.04h1v8.34h-1zM276 149.23h1v9.08h-1zM142 150.43h1v5.59h-1zM64 146.47h1v3.62h-1zM166 169.15h1v10.2h-1zM202 168.46h1v8.81h-1zM73 139.37h1v3.69h-1zM42 171.53h1v8h-1zM281 175.22h1v8.95h-1zM110 177.78h1v10.61h-1zM99 141.84h1v2.84h-1zM95 164.43h1v9.83h-1zM137 173.84h1v3.57h-1zM210 147.5h1v4.64h-1zM264 143.85h1v4.79h-1zM85 147.12h1v6.72h-1zM192 147.89h1v2.2h-1zM174 174.09h1v7.1h-1zM72 151.37h1v5.87h-1zM52 157.66h1v4.84h-1zM224 168.2h1v9.72h-1zM85 179.14h1v3.01h-1zM75 145.7h1v9.94h-1zM117 174.61h1v6.26h-1zM132 178.19h1v3.32h-1zM204 151.69h1v11.65h-1zM190 157.37h1v9.88h-1zM116 176.2h1v5.17h-1zM144 156.95h1v10.87h-1zM219 170.2h1v10.36h-1zM211 162.45h1v6.71h-1zM48 163.09h1v9.63h-1zM248 173.77h1v6.08h-1zM99 142.11h1v5h-1zM187 159.78h1v4.44h-1zM119 151.84h1v10.34h-1zM217 158.88h1v3.86h-1zM73 163.88h1v7.53h-1zM33 171.95h1v7.35h-1zM40 174.56h1v11.11h-1zM242 169.53h1v9.96h-1zM275 157.24h1v11.53h-1zM45 171.81h1v11h-1z" fill="#b040f0" opacity="0.1"/><path d="M219 172.59h1v4.8h-1zM182 177.09h1v10.32h-1zM223 170.4h1v11.5h-1zM91 147.95h1v11.33h-1zM91 157.02h1v9.56h-1zM94 161.95h1v4.33h-1zM114 167.75h1v3.48h-1zM198 151.01h1v6.93h-1zM44 171.46h1v9.23h-1zM37 144.7h1v9.23h-1zM60 158.01h1v9.83h-1zM187 168.05h1v6.22h-1zM100 180.95h1v4.36h-1zM39 141.21h1v8.91h-1zM144 139.98h1v8.17h-1zM264 174.39h1v7.26h-1zM242 179.21h1v2.82h-1zM174 154.12h1v2.01h-1zM143 177.13h1v10.17h-1zM206 159.83h1v8.81h-1zM273 150.82h1v10.94h-1zM267 167.65h1v2.19h-1zM109 177.19h1v6.32h-1zM111 175.01h1v10.87h-1zM246 165.31h1v9.95h-1zM150 163.97h1v3.28h-1zM106 147.34h1v8.74h-1zM118 155.63h1v7.07h-1zM147 147.53h1v4.42h-1zM264 148.06h1v10.63h-1zM158 145.04h1v2.09h-1zM168 144.6h1v10.01h-1zM174 158.11h1v7.57h-1zM65 155.1h1v7.54h-1zM175 154h1v4.79h-1zM85 156.37h1v6.45h-1zM263 143.67h1v11.53h-1zM235 143.76h1v8.34h-1zM154 167.82h1v4.81h-1zM141 137.33h1v7.69h-1zM46 147.21h1v4.76h-1zM272 147.33h1v5.42h-1zM179 142h1v5.86h-1zM170 149.69h1v4.87h-1zM37 167.29h1v3.86h-1zM268 158.3h1v11.42h-1zM188 155.51h1v10.29h-1zM230 159.78h1v7.85h-1zM173 173.43h1v10.33h-1zM236 172.04h1v4.31h-1zM226 150.97h1v11h-1zM100 165h1v9.32h-1zM137 153.68h1v2.28h-1zM102 166.56h1v7.16h-1zM207 179.2h1v6h-1zM55 179.46h1v2.17h-1zM76 168.11h1v11.92h-1zM93 160.11h1v4.81h-1zM258 150.71h1v8.43h-1zM40 148.57h1v3.15h-1zM130 170.52h1v8.29h-1zM100 165.97h1v10.3h-1zM232 173.12h1v8.95h-1zM76 170.72h1v3.6h-1zM217 153.76h1v2.31h-1zM265 158.01h1v11.32h-1zM76 160.43h1v5.69h-1zM68 139.71h1v9.26h-1zM220 146.26h1v5.27h-1zM177 166.06h1v8.8h-1zM45 178.06h1v9.34h-1zM219 156.79h1v4.62h-1zM102 170.07h1v11.74h-1zM124 153.39h1v8.87h-1zM67 152.88h1v7.87h-1zM50 172.7h1v7.85h-1zM171 175.55h1v7.57h-1zM64 149.11h1v3.98h-1zM144 160.97h1v4.45h-1zM242 147.4h1v8.09h-1zM189 168.22h1v6.74h-1zM171 172.1h1v10.99h-1zM255 160.84h1v5.82h-1z" fill="#6a20f4" opacity="0.1"/><path d="M270 163.94h1v6.41h-1zM35 177.13h1v11.15h-1zM110 179.82h1v4.62h-1zM149 158.9h1v7.18h-1zM221 157.88h1v7.22h-1zM73 133.55h1v9.89h-1zM123 157.83h1v5.21h-1zM49 171.22h1v6.21h-1zM97 153.15h1v6.84h-1zM120 151.61h1v7.62h-1zM164 152.29h1v11.35h-1zM262 172.62h1v7.11h-1zM273 154.33h1v4.06h-1zM59 157.11h1v6.6h-1zM120 153.85h1v3.35h-1zM222 176.88h1v2.49h-1zM237 147.69h1v4.28h-1zM102 164.84h1v5.69h-1zM188 169.84h1v10.2h-1zM149 178.09h1v4.71h-1zM234 172.95h1v3.7h-1zM251 175.31h1v6.51h-1zM133 159.36h1v6.48h-1zM128 170.32h1v6.85h-1zM274 163.42h1v2.29h-1zM61 164.26h1v9.93h-1zM126 170.99h1v6.84h-1zM93 162.35h1v6.07h-1zM201 170.27h1v8.42h-1zM151 173.82h1v4.39h-1zM62 168.58h1v11.61h-1zM64 149.23h1v4.07h-1zM175 147.85h1v3.56h-1zM91 169.24h1v3.11h-1zM128 144.62h1v9.79h-1zM246 164.5h1v2.45h-1zM38 163.31h1v11.82h-1zM273 176.41h1v6.19h-1zM257 144.02h1v5.14h-1zM260 174.48h1v10.83h-1zM59 152.83h1v9.76h-1zM177 150.38h1v11.86h-1zM140 167.15h1v5.72h-1zM251 158.2h1v5.46h-1zM179 145.8h1v11.23h-1zM224 168.51h1v9.46h-1zM52 161.34h1v9.73h-1zM235 153.8h1v7.05h-1zM168 176.64h1v11.78h-1zM37 167.84h1v3.63h-1zM235 131.61h1v7.39h-1zM258 155.02h1v2.22h-1zM153 160.51h1v3.98h-1zM258 175.64h1v6h-1zM58 155.33h1v11.87h-1zM262 176.35h1v2.88h-1zM270 173.43h1v11.64h-1zM166 147.92h1v7.46h-1zM207 155.32h1v2.9h-1zM246 151.41h1v11.94h-1zM220 167.42h1v11.56h-1zM208 159.76h1v6.3h-1zM242 148.67h1v11.54h-1zM224 174.32h1v8.2h-1zM148 169.28h1v8.92h-1zM129 166.29h1v9.8h-1zM96 147.9h1v4.76h-1zM203 161.27h1v5.98h-1zM216 178.53h1v3.56h-1zM161 164.48h1v9.6h-1zM267 157.8h1v10.07h-1zM260 152.09h1v2.17h-1zM186 166.44h1v10.13h-1zM41 164.07h1v5.08h-1zM119 158.21h1v6.64h-1zM200 158.75h1v3.33h-1zM221 181.4h1v3.42h-1zM277 133.5h1v10.95h-1zM221 136.79h1v10.97h-1zM205 177.43h1v9.93h-1zM206 151.48h1v7.07h-1zM213 153.35h1v6.66h-1zM54 139.47h1v7.3h-1zM160 151.83h1v9.37h-1zM242 144.04h1v6.15h-1zM205 169.55h1v9.44h-1zM99 174.42h1v10.12h-1z" fill="#b040f0" opacity="0.15"/><path d="M80 161.42h1v9.12h-1zM56 157.18h1v10.82h-1zM112 167.39h1v2.61h-1zM248 176.94h1v3.41h-1zM59 172.8h1v7.51h-1zM170 176h1v7.51h-1zM149 171.17h1v5.48h-1zM100 142.17h1v10.15h-1zM196 145.42h1v7.92h-1zM52 166.4h1v6.7h-1zM266 180.14h1v2.87h-1zM142 145.02h1v11.84h-1zM171 166.96h1v8.54h-1zM207 174.14h1v7.94h-1zM280 136.54h1v9.24h-1zM36 175.46h1v7.01h-1zM264 153.05h1v5.46h-1zM43 163.09h1v3.59h-1zM116 167.13h1v5.28h-1zM169 143.35h1v3.14h-1zM74 156.61h1v10.29h-1zM179 137.51h1v3.82h-1zM91 138.83h1v7.06h-1zM45 164.89h1v7.42h-1zM98 145.55h1v11.24h-1zM232 151.84h1v11.66h-1zM151 153.96h1v3.13h-1zM45 174.98h1v6.19h-1zM193 151.45h1v8.91h-1zM118 153.34h1v5.54h-1zM251 177.24h1v2.65h-1zM38 149.35h1v7.58h-1zM180 159.56h1v11.74h-1zM98 174.29h1v8.69h-1zM179 169.67h1v6.16h-1zM237 157.27h1v5.98h-1zM129 157.04h1v11.67h-1zM59 146.89h1v9.32h-1zM84 151.5h1v3.26h-1zM243 168.73h1v10.03h-1zM244 148.47h1v11.75h-1zM191 167.22h1v11.14h-1zM210 173.56h1v4.97h-1zM194 165.72h1v6.62h-1zM258 174.46h1v9.56h-1zM57 173.13h1v5.77h-1zM40 181.3h1v3.58h-1zM202 165.43h1v8.79h-1zM38 157.43h1v2.76h-1zM264 177.62h1v4.79h-1zM110 163.47h1v11.83h-1zM269 167.11h1v11.23h-1zM63 172.88h1v2.78h-1zM64 159.29h1v5.15h-1zM275 147.46h1v2.82h-1zM256 172.11h1v3.31h-1zM125 180.04h1v3.67h-1zM275 172.17h1v11.7h-1zM118 168.52h1v2.89h-1zM257 158.92h1v11.39h-1zM180 164.97h1v2.87h-1zM221 144.12h1v10.98h-1zM47 174.52h1v4.42h-1zM187 158h1v10.06h-1zM185 158.38h1v8.77h-1zM177 165.47h1v7.76h-1zM78 175.96h1v7.86h-1zM208 160.27h1v10.37h-1zM278 143.45h1v2.68h-1zM240 161.09h1v11.27h-1zM67 175.69h1v10.97h-1zM67 152.89h1v11.23h-1zM184 171.03h1v11.4h-1zM239 138.64h1v8.29h-1zM214 170.29h1v10.2h-1zM74 145.77h1v2.22h-1zM123 159.77h1v11.4h-1zM116 161.25h1v8.58h-1zM162 175.59h1v11.28h-1zM49 136.33h1v6.29h-1zM162 143.95h1v9.83h-1zM162 168.45h1v6.8h-1zM63 174.48h1v9.49h-1zM185 152.53h1v10.58h-1zM115 167.73h1v4.38h-1zM201 175.88h1v11.69h-1zM184 152.23h1v5.25h-1zM259 176.19h1v7.32h-1z" fill="#8a30f0" opacity="0.15"/><path d="M207 146.09h1v10.27h-1zM248 173.84h1v8.85h-1zM102 175.14h1v3.81h-1zM98 168.71h1v9.3h-1zM112 175.34h1v4.87h-1zM124 160.46h1v10.16h-1zM51 172.66h1v3.69h-1zM173 162.55h1v2.19h-1zM224 152.76h1v7.61h-1zM41 170.54h1v10.53h-1zM228 156.31h1v9.8h-1zM44 163.83h1v9.94h-1zM59 178.64h1v4.62h-1zM267 166.35h1v9.72h-1zM163 147.21h1v10.48h-1zM267 156.85h1v8.94h-1zM180 177.89h1v7.77h-1zM217 156.52h1v5.27h-1zM136 172.84h1v4h-1zM243 171.27h1v6.04h-1zM181 162.85h1v6.52h-1zM149 168h1v7.63h-1zM162 162.83h1v4.93h-1zM85 176.27h1v2.66h-1zM103 163.95h1v10.9h-1zM206 176.81h1v8.01h-1zM254 155.91h1v2.44h-1zM116 179.5h1v6.63h-1zM279 166.06h1v3.6h-1zM258 160.06h1v6.09h-1zM248 172.32h1v4.75h-1zM273 166.71h1v8.98h-1zM265 176.66h1v6.18h-1zM262 138.46h1v3.48h-1zM38 143.94h1v5.61h-1zM156 170.12h1v8.1h-1zM204 141.34h1v10.35h-1zM146 159.86h1v8.52h-1zM76 153.08h1v6.57h-1zM139 176.52h1v5.03h-1zM167 171.79h1v7.18h-1zM47 161.97h1v5.87h-1zM233 175.37h1v8.8h-1zM73 172.5h1v7.85h-1zM35 141.88h1v11.29h-1zM262 155.9h1v10.69h-1zM176 155.14h1v10.16h-1zM237 165.76h1v6.18h-1zM248 148.95h1v9.16h-1zM87 166.49h1v9.38h-1zM188 174.98h1v9.74h-1zM53 156.61h1v2.55h-1zM71 166.71h1v5.32h-1zM156 152.42h1v3.74h-1zM229 180.36h1v4.52h-1zM228 151.26h1v5.35h-1zM96 135.11h1v9.08h-1zM275 157.13h1v6.22h-1zM222 166.72h1v4.82h-1zM101 164.16h1v7.3h-1zM39 180.53h1v3.92h-1zM180 160.49h1v7.05h-1zM56 155.08h1v9.29h-1zM220 175.9h1v4.97h-1zM142 145.21h1v11.51h-1zM184 172.6h1v11.97h-1zM250 178.87h1v2.98h-1zM239 168.38h1v9.79h-1zM274 168.46h1v3.45h-1zM186 166.51h1v7.74h-1zM70 150.12h1v7.55h-1zM151 158.38h1v10.87h-1zM57 165.84h1v9.23h-1zM68 166.62h1v2.73h-1zM248 161.91h1v7.02h-1zM112 165.35h1v11.11h-1z" fill="#a038f0" opacity="0.15"/><path d="M40 153.24h1v5.87h-1zM258 170.33h1v5.25h-1zM84 166.95h1v4.71h-1zM66 174.03h1v10.19h-1zM257 152.53h1v6.9h-1zM111 170.71h1v8.57h-1zM52 167.94h1v6.32h-1zM129 173.34h1v3.41h-1zM195 158.98h1v7.16h-1zM249 159.78h1v7.66h-1zM94 160.9h1v2.07h-1zM186 142.26h1v6.4h-1zM60 178.4h1v2.96h-1zM35 161.61h1v7.89h-1zM190 169.76h1v5.45h-1zM56 179.79h1v4.97h-1zM204 173.6h1v6.32h-1zM258 167.14h1v10.84h-1zM183 171.1h1v11.92h-1zM121 158.92h1v2.43h-1zM42 171.35h1v3.3h-1zM143 162.53h1v2.75h-1zM230 180.9h1v3.06h-1zM36 177.47h1v11.37h-1zM231 152.34h1v11.22h-1zM228 141.89h1v8.11h-1zM206 144.8h1v6.67h-1zM111 177.31h1v11.8h-1zM150 169.6h1v3.1h-1zM175 176.1h1v3.84h-1zM64 165.75h1v8.79h-1zM281 161.43h1v7.03h-1zM243 176.31h1v3.99h-1zM52 170.18h1v11.02h-1zM133 139.55h1v8.29h-1zM228 161.75h1v5.46h-1zM212 159h1v11.42h-1zM89 176.71h1v10.77h-1zM168 173.19h1v6.45h-1zM193 160.98h1v8.82h-1zM233 162.14h1v4.52h-1zM234 148.28h1v8.14h-1zM41 149.23h1v8.1h-1zM144 175.26h1v10.86h-1zM260 177.81h1v10.44h-1zM236 174.39h1v3.43h-1zM251 160.16h1v5.9h-1zM217 154.77h1v7.21h-1zM107 163.68h1v5.69h-1zM153 148.68h1v2.2h-1zM55 165.71h1v3.43h-1zM241 176.16h1v7.05h-1zM112 154.3h1v3.15h-1zM261 170.99h1v3.1h-1zM80 166.79h1v3.26h-1zM257 175.69h1v11.82h-1zM223 175.52h1v2.76h-1zM264 166.32h1v11.41h-1zM56 164.15h1v2.02h-1zM154 163.62h1v11.69h-1zM243 176.63h1v5.56h-1zM180 175.22h1v10.92h-1zM87 170.74h1v7.09h-1zM42 177.03h1v3.76h-1zM84 170.57h1v9.74h-1zM258 161.65h1v11.37h-1zM88 162.42h1v11.74h-1zM35 147.84h1v11.23h-1zM158 134.77h1v11.14h-1zM147 163.15h1v2.84h-1zM92 171.07h1v5.68h-1zM266 156.16h1v3.82h-1zM175 165.18h1v8.69h-1zM211 177.93h1v8.12h-1zM280 175.47h1v6h-1zM237 150.96h1v10.43h-1zM239 155.05h1v8.83h-1zM146 175.36h1v9.42h-1zM38 180.12h1v2.98h-1zM126 155.06h1v2.68h-1zM54 172.63h1v11.92h-1z" fill="#6a20f4" opacity="0.15"/><path d="M277 171.7h1v3.12h-1zM109 172.37h1v7.62h-1zM140 175.12h1v9.19h-1zM182 170.41h1v8.54h-1zM69 166.8h1v11.2h-1zM197 167.23h1v8.49h-1zM229 161.64h1v11.91h-1zM233 165.06h1v11.39h-1zM273 163.81h1v5.71h-1zM33 174.97h1v2.99h-1zM281 173.19h1v2.63h-1zM108 174.08h1v5.65h-1zM87 178.25h1v2.21h-1zM173 165.77h1v3.62h-1zM212 172.63h1v10.56h-1zM228 177.03h1v10.26h-1zM54 163.41h1v5.12h-1zM193 162.21h1v11.69h-1zM221 163.84h1v11.44h-1zM177 172.68h1v7.46h-1zM225 178.18h1v6.92h-1zM76 160.22h1v4.13h-1zM83 167.91h1v8.69h-1zM262 165.04h1v3.57h-1zM126 170.19h1v8.72h-1zM42 166.03h1v11.66h-1zM187 172.1h1v2.41h-1zM50 163.5h1v3.5h-1zM143 163.7h1v8.29h-1zM249 171.88h1v6.3h-1zM149 172.41h1v7.42h-1zM33 171.99h1v4.14h-1zM167 161.04h1v6.48h-1zM45 170.61h1v10.68h-1zM281 161.94h1v4.78h-1zM118 153.64h1v7.03h-1zM167 163.23h1v8.1h-1zM60 173.93h1v5.96h-1zM33 175.98h1v9.13h-1zM137 168.1h1v10.36h-1zM225 168.59h1v2.61h-1zM71 179.68h1v5.36h-1zM231 177.15h1v3.31h-1zM261 174.13h1v7.3h-1zM240 167.09h1v2.25h-1zM235 175.17h1v7.98h-1zM252 150.03h1v10.35h-1zM258 162.28h1v2.09h-1zM112 165.55h1v4.12h-1zM161 166.81h1v8.23h-1zM40 167.16h1v6.16h-1zM110 169.38h1v2.56h-1zM210 175.66h1v6.58h-1zM120 178.01h1v8.33h-1zM207 164.81h1v3.66h-1zM216 174.68h1v4.86h-1zM202 160.67h1v9.46h-1zM85 161.33h1v5.28h-1zM183 169.35h1v2.65h-1zM165 161.94h1v7.78h-1z" fill="#6a20f4" opacity="0.2"/><path d="M201 154.6h1v8.72h-1zM235 177.19h1v3.13h-1zM91 173.15h1v2.3h-1zM71 171h1v10.37h-1zM208 170.12h1v7.54h-1zM274 172.69h1v6.34h-1zM113 165.09h1v7.2h-1zM91 151.4h1v6.32h-1zM82 173.01h1v11.59h-1zM171 167.48h1v5.14h-1zM145 171.22h1v9.53h-1zM41 175.17h1v6.12h-1zM114 167.73h1v3.29h-1zM41 162.81h1v11.8h-1zM122 172.4h1v11.44h-1zM221 173.2h1v6.56h-1zM240 164.15h1v10.92h-1zM212 170.46h1v8.17h-1zM140 173.03h1v6.47h-1zM145 159.51h1v11.01h-1zM270 168.42h1v11.58h-1zM60 165.56h1v5h-1zM273 162.97h1v7.41h-1zM233 170.46h1v8.07h-1zM80 174.82h1v3.62h-1zM143 173.54h1v3.62h-1zM249 162.34h1v3.49h-1zM173 179.9h1v6.34h-1zM99 173.75h1v5.87h-1zM257 175.97h1v6.83h-1zM171 179.32h1v6.75h-1zM53 167.48h1v9.69h-1zM77 180.74h1v2.63h-1zM220 168.35h1v6.18h-1zM276 176.5h1v5.78h-1zM131 170.15h1v7.2h-1zM153 163.24h1v6.58h-1zM89 179.85h1v3.21h-1zM188 159.25h1v3.67h-1zM131 176.74h1v9.44h-1zM66 168.02h1v2.15h-1zM162 169.44h1v2.34h-1zM172 178.55h1v8.67h-1zM125 173.82h1v8.43h-1zM64 167.09h1v4.33h-1zM246 168.44h1v5.89h-1zM187 160.87h1v8.83h-1zM241 151.86h1v7.84h-1zM69 157.83h1v7.63h-1zM73 157.88h1v8.73h-1z" fill="#b040f0" opacity="0.2"/><path d="M33 163.35h1v6.72h-1zM137 170.15h1v9.6h-1zM100 171.01h1v9.07h-1zM156 162.81h1v11.61h-1zM234 175.16h1v2.45h-1zM277 157.23h1v9.09h-1zM254 172.77h1v5.02h-1zM64 169.85h1v8.43h-1zM61 174.6h1v7.25h-1zM169 175.87h1v9.33h-1zM69 172.3h1v2.84h-1zM207 166.85h1v2.19h-1zM175 163.59h1v11.28h-1zM236 163.69h1v11.77h-1zM90 164.8h1v8.94h-1zM42 164.79h1v11.04h-1zM200 175.6h1v8.36h-1zM81 178.28h1v4.45h-1zM193 160.97h1v3.18h-1zM187 180.55h1v3.45h-1zM134 158.21h1v7.98h-1zM37 176.65h1v11.41h-1zM274 152.96h1v8.95h-1zM199 158.39h1v10.68h-1zM131 167.69h1v11.76h-1zM111 154.23h1v9.07h-1zM48 179.13h1v3.29h-1zM265 170.94h1v2.25h-1zM166 181.84h1v2.74h-1zM163 167.78h1v11.48h-1zM134 165.46h1v3.35h-1zM190 165.72h1v3.92h-1zM125 171.33h1v10.39h-1zM103 166.59h1v10.85h-1zM160 170.28h1v2.3h-1zM34 165.08h1v6.44h-1zM224 160.36h1v3.59h-1zM98 158.03h1v7.41h-1zM184 170.92h1v4.72h-1zM66 174.9h1v11.21h-1zM144 169.82h1v2.81h-1zM87 174.97h1v11.25h-1zM173 172.38h1v3h-1zM103 169.93h1v7.88h-1zM217 175.51h1v4.35h-1zM252 156.22h1v10.46h-1zM259 170.85h1v9.58h-1zM114 162.99h1v6.47h-1zM191 168.39h1v6.84h-1z" fill="#a038f0" opacity="0.2"/><path d="M183 171.03h1v3.91h-1zM132 173.4h1v4.63h-1zM278 168.17h1v4.96h-1zM218 177.74h1v7.35h-1zM139 181.33h1v2.3h-1zM152 169.21h1v5.72h-1zM170 173.54h1v4.63h-1zM98 179.75h1v3.2h-1zM127 179.16h1v4.65h-1zM78 155.97h1v7.25h-1zM71 170.2h1v5.13h-1zM105 173.96h1v4.59h-1zM145 175.77h1v10.7h-1zM143 179.5h1v2.61h-1zM134 173.23h1v3.34h-1zM101 160.45h1v10.95h-1zM97 174.56h1v8.18h-1zM57 153h1v7.27h-1zM250 175.88h1v9.66h-1zM129 170.85h1v4.27h-1zM230 174.56h1v10.49h-1zM65 163.15h1v11.81h-1zM190 155.44h1v8.96h-1zM71 177.09h1v10.94h-1zM196 170.12h1v4.87h-1zM59 180.22h1v4.39h-1zM131 162.26h1v9.44h-1zM241 173.18h1v3.48h-1zM143 178.4h1v2.87h-1zM74 160.14h1v3.3h-1zM273 176.9h1v10.72h-1zM98 172.11h1v4.12h-1zM124 169.87h1v3.24h-1zM213 169.66h1v6.95h-1zM228 170.33h1v7.07h-1zM48 177.75h1v5.41h-1zM247 159.3h1v5.3h-1zM185 167.51h1v4.11h-1zM259 155.19h1v9.83h-1zM161 166.83h1v8.4h-1zM91 171.07h1v11.34h-1zM69 172.01h1v8.59h-1zM148 172.25h1v4.52h-1zM203 179.72h1v6.6h-1zM43 156.75h1v7.81h-1zM230 167.49h1v2.43h-1zM88 151.85h1v10.16h-1zM266 154.84h1v4.21h-1zM210 175.03h1v7.71h-1zM279 165.34h1v8.01h-1zM155 179.56h1v2.68h-1zM52 176.93h1v4.94h-1zM51 178.73h1v5.42h-1zM35 174.27h1v3.6h-1zM104 163.75h1v11.89h-1zM52 180.1h1v5.47h-1zM156 161.21h1v3.29h-1z" fill="#8a30f0" opacity="0.2"/><path d="M35 174.88h1v6.15h-1zM142 176.81h1v6.42h-1zM96 172.76h1v6.77h-1zM122 179.88h1v5.05h-1zM73 168.11h1v10.99h-1zM204 173.46h1v7.38h-1zM262 179.01h1v4.72h-1zM91 176.94h1v6.78h-1zM96 175.61h1v5.42h-1z" fill="#8a30f0" opacity="0.25"/><path d="M279 180.37h1v4.7h-1zM159 175.57h1v9.97h-1zM71 176.33h1v8.41h-1zM136 172.4h1v9.84h-1zM161 173.42h1v10.06h-1zM167 181.3h1v2.52h-1zM166 174.03h1v9.87h-1zM81 177.51h1v8.96h-1zM238 179.11h1v5.66h-1zM124 178.36h1v6.94h-1zM143 171.37h1v8.44h-1zM229 178.23h1v9.48h-1zM241 174.25h1v9.11h-1z" fill="#6a20f4" opacity="0.25"/><path d="M271 173.97h1v5.43h-1zM262 175.36h1v3.59h-1zM234 177.02h1v9.66h-1zM274 178.32h1v3.04h-1zM274 177.94h1v8.93h-1zM187 173.04h1v4.93h-1z" fill="#a038f0" opacity="0.25"/><path d="M173 180.06h1v4.67h-1zM94 176.67h1v10.73h-1zM51 169.12h1v8.02h-1zM101 176.93h1v7.09h-1zM50 175.46h1v2.17h-1z" fill="#b040f0" opacity="0.25"/><path d="M40 183.03h1v2.5h-1zM63 182.14h1v2.5h-1zM69 182.02h1v2.5h-1zM84 181.23h1v2.5h-1zM133 183.01h1v2.5h-1zM136 180.5h1v2.5h-1zM145 182.34h1v2.5h-1zM167 181.66h1v2.5h-1zM193 181.59h1v2.5h-1zM201 181.75h1v2.5h-1zM202 181.88h1v2.5h-1zM206 181.21h1v2.5h-1zM211 181.99h1v2.5h-1zM223 181.4h1v2.5h-1zM233 182.88h1v2.5h-1zM242 180.86h1v2.5h-1z" fill="#9028f2" opacity="0.2"/><path d="M34 182.01h1v2.5h-1zM48 181.77h1v2.5h-1zM60 183.38h1v2.5h-1zM70 180.55h1v2.5h-1zM75 182.04h1v2.5h-1zM79 180.4h1v2.5h-1zM87 181.5h1v2.5h-1zM88 182.64h1v2.5h-1zM96 180.76h1v2.5h-1zM125 181.26h1v2.5h-1zM159 180.9h1v2.5h-1zM162 181.09h1v2.5h-1zM172 181.98h1v2.5h-1zM176 181.23h1v2.5h-1zM177 181.17h1v2.5h-1zM179 182.83h1v2.5h-1zM180 183.24h1v2.5h-1zM181 181.9h1v2.5h-1zM194 181.64h1v2.5h-1zM195 180.88h1v2.5h-1zM200 183.25h1v2.5h-1zM221 181.4h1v2.5h-1zM246 180.43h1v2.5h-1zM247 182.08h1v2.5h-1zM256 181.78h1v2.5h-1zM280 180.36h1v2.5h-1z" fill="#9028f2" opacity="0.25"/><path d="M57 181.52h1v2.5h-1zM80 181.13h1v2.5h-1zM81 182.84h1v2.5h-1zM105 182.29h1v2.5h-1zM106 180.6h1v2.5h-1zM111 183.32h1v2.5h-1zM127 180.78h1v2.5h-1zM130 180.4h1v2.5h-1zM134 181.43h1v2.5h-1zM141 182.1h1v2.5h-1zM147 181.82h1v2.5h-1zM153 182.31h1v2.5h-1zM154 181.7h1v2.5h-1zM156 181.29h1v2.5h-1zM173 181.95h1v2.5h-1zM182 182.9h1v2.5h-1zM184 182.19h1v2.5h-1zM204 181.56h1v2.5h-1zM210 182.29h1v2.5h-1zM224 180.71h1v2.5h-1zM226 180.12h1v2.5h-1zM228 180.76h1v2.5h-1zM250 180.26h1v2.5h-1zM251 181.44h1v2.5h-1zM252 180.9h1v2.5h-1zM273 181.92h1v2.5h-1zM275 181.23h1v2.5h-1z" fill="#9028f2" opacity="0.3"/><path d="M37 182.33h1v2.5h-1zM41 180.19h1v2.5h-1zM45 181.18h1v2.5h-1zM47 180.7h1v2.5h-1zM49 181.54h1v2.5h-1zM52 181.41h1v2.5h-1zM56 181.51h1v2.5h-1zM64 180.39h1v2.5h-1zM78 182.42h1v2.5h-1zM82 181.28h1v2.5h-1zM90 181.87h1v2.5h-1zM97 181.84h1v2.5h-1zM99 182.39h1v2.5h-1zM117 182.58h1v2.5h-1zM119 182.44h1v2.5h-1zM120 181.52h1v2.5h-1zM143 181.93h1v2.5h-1zM151 181.11h1v2.5h-1zM152 181.4h1v2.5h-1zM170 181.68h1v2.5h-1zM175 181.13h1v2.5h-1zM192 183.29h1v2.5h-1zM225 180.25h1v2.5h-1zM231 181.34h1v2.5h-1zM236 181.55h1v2.5h-1zM238 182.26h1v2.5h-1zM241 181.74h1v2.5h-1zM257 182.09h1v2.5h-1zM260 181.21h1v2.5h-1zM267 180.43h1v2.5h-1zM276 183.37h1v2.5h-1z" fill="#9028f2" opacity="0.35"/><path d="M42 181.42h1v2.5h-1zM43 183.01h1v2.5h-1zM53 181.35h1v2.5h-1zM58 181.91h1v2.5h-1zM61 182.08h1v2.5h-1zM66 183.19h1v2.5h-1zM68 180.54h1v2.5h-1zM73 182.69h1v2.5h-1zM76 182.8h1v2.5h-1zM89 181.84h1v2.5h-1zM92 181.89h1v2.5h-1zM100 182.76h1v2.5h-1zM107 181.55h1v2.5h-1zM110 180.91h1v2.5h-1zM112 181.84h1v2.5h-1zM115 182.75h1v2.5h-1zM118 181.77h1v2.5h-1zM129 181.24h1v2.5h-1zM139 182.75h1v2.5h-1zM140 183.05h1v2.5h-1zM142 181.04h1v2.5h-1zM146 181.45h1v2.5h-1zM149 182.25h1v2.5h-1zM169 181.22h1v2.5h-1zM183 181.73h1v2.5h-1zM185 181.16h1v2.5h-1zM196 182.64h1v2.5h-1zM212 183.55h1v2.5h-1zM219 181.16h1v2.5h-1zM232 181.3h1v2.5h-1zM234 182.15h1v2.5h-1zM235 181.95h1v2.5h-1zM239 180.48h1v2.5h-1zM248 181.33h1v2.5h-1zM265 180.6h1v2.5h-1zM268 182.24h1v2.5h-1zM271 182.36h1v2.5h-1z" fill="#9028f2" opacity="0.4"/><path d="M36 181h1v2.5h-1zM39 181.06h1v2.5h-1zM46 183.33h1v2.5h-1zM55 180.84h1v2.5h-1zM83 180.44h1v2.5h-1zM85 181.95h1v2.5h-1zM86 181.36h1v2.5h-1zM94 182.75h1v2.5h-1zM95 182.85h1v2.5h-1zM137 181.84h1v2.5h-1zM138 183.58h1v2.5h-1zM144 180.68h1v2.5h-1zM150 181.65h1v2.5h-1zM157 180.79h1v2.5h-1zM161 181.6h1v2.5h-1zM168 180.43h1v2.5h-1zM174 181.84h1v2.5h-1zM178 181.15h1v2.5h-1zM186 183.17h1v2.5h-1zM188 182.11h1v2.5h-1zM190 182.24h1v2.5h-1zM197 180.7h1v2.5h-1zM209 182.9h1v2.5h-1zM214 181.72h1v2.5h-1zM217 180.59h1v2.5h-1zM222 181.16h1v2.5h-1zM230 182.64h1v2.5h-1zM243 181.62h1v2.5h-1zM261 181.99h1v2.5h-1zM262 181.66h1v2.5h-1zM263 180.65h1v2.5h-1zM281 182.5h1v2.5h-1z" fill="#9028f2" opacity="0.45"/><path d="M33 181.15h1v2.5h-1zM38 181.81h1v2.5h-1zM50 181.65h1v2.5h-1zM54 181.97h1v2.5h-1zM59 181.8h1v2.5h-1zM62 181.09h1v2.5h-1zM91 180.34h1v2.5h-1zM93 181.52h1v2.5h-1zM102 181.96h1v2.5h-1zM103 182.45h1v2.5h-1zM104 182.13h1v2.5h-1zM121 181.61h1v2.5h-1zM123 181.89h1v2.5h-1zM124 182.48h1v2.5h-1zM126 183.24h1v2.5h-1zM128 180.59h1v2.5h-1zM131 182.16h1v2.5h-1zM135 181.44h1v2.5h-1zM158 181.97h1v2.5h-1zM160 182.96h1v2.5h-1zM164 181.64h1v2.5h-1zM165 181.17h1v2.5h-1zM187 181.5h1v2.5h-1zM216 182.65h1v2.5h-1zM218 182.31h1v2.5h-1zM227 182.1h1v2.5h-1zM229 181.88h1v2.5h-1zM244 180.27h1v2.5h-1zM254 182.27h1v2.5h-1zM258 183.12h1v2.5h-1zM259 181.19h1v2.5h-1zM269 182.7h1v2.5h-1zM270 180.67h1v2.5h-1zM278 182.39h1v2.5h-1zM279 181.19h1v2.5h-1z" fill="#9028f2" opacity="0.5"/><path d="M44 181.9h1v2.5h-1zM51 183h1v2.5h-1zM71 181.7h1v2.5h-1zM72 180.87h1v2.5h-1zM77 182.01h1v2.5h-1zM98 181.94h1v2.5h-1zM101 182.68h1v2.5h-1zM109 181.42h1v2.5h-1zM114 180.09h1v2.5h-1zM116 182.71h1v2.5h-1zM132 181.57h1v2.5h-1zM163 181.54h1v2.5h-1zM189 181.46h1v2.5h-1zM198 181.06h1v2.5h-1zM203 182.95h1v2.5h-1zM205 180.8h1v2.5h-1zM208 182.14h1v2.5h-1zM213 182.45h1v2.5h-1zM215 181.26h1v2.5h-1zM220 181.53h1v2.5h-1zM237 181.81h1v2.5h-1zM240 181.99h1v2.5h-1zM245 182.03h1v2.5h-1zM249 181.54h1v2.5h-1zM253 181.93h1v2.5h-1zM255 182.16h1v2.5h-1zM266 182.11h1v2.5h-1zM272 182.71h1v2.5h-1zM274 181.63h1v2.5h-1z" fill="#9028f2" opacity="0.55"/><path d="M35 181.69h1v2.5h-1zM65 181.31h1v2.5h-1zM67 182.56h1v2.5h-1zM74 180.26h1v2.5h-1zM108 181.09h1v2.5h-1zM113 181.58h1v2.5h-1zM122 183.11h1v2.5h-1zM148 181.96h1v2.5h-1zM155 181.65h1v2.5h-1zM166 182.96h1v2.5h-1zM171 181.54h1v2.5h-1zM191 181.28h1v2.5h-1zM199 182.22h1v2.5h-1zM207 181.37h1v2.5h-1zM264 181.15h1v2.5h-1zM277 180.51h1v2.5h-1zM282 183.05h1v2.5h-1z" fill="#9028f2" opacity="0.6"/><path d="M35 184.19h1v7.41h-1zM51 185.5h1v6.1h-1zM79 182.9h1v8.7h-1zM88 185.14h1v6.46h-1zM91 182.84h1v8.76h-1zM110 183.41h1v8.19h-1zM233 185.38h1v6.22h-1zM237 184.31h1v7.29h-1z" fill="#e830f0" opacity="0.85"/><path d="M39 183.56h1v8.04h-1zM69 184.52h1v7.08h-1zM97 184.34h1v7.26h-1zM102 184.46h1v7.14h-1zM107 184.05h1v7.55h-1zM120 184.02h1v7.58h-1zM122 185.61h1v5.99h-1zM152 183.9h1v7.7h-1zM171 184.04h1v7.56h-1zM174 184.34h1v7.26h-1zM188 184.61h1v6.99h-1zM202 184.38h1v7.22h-1zM211 184.49h1v7.11h-1zM234 184.65h1v6.95h-1zM240 184.49h1v7.11h-1zM257 184.59h1v7.01h-1z" fill="#f038f0" opacity="0.85"/><path d="M42 183.92h1v7.68h-1zM56 184.01h1v7.59h-1zM84 183.73h1v7.87h-1zM253 184.43h1v7.17h-1zM263 183.15h1v8.45h-1zM272 185.21h1v6.39h-1zM281 185h1v6.6h-1zM282 185.55h1v6.05h-1z" fill="#f040f4" opacity="0.85"/><path d="M48 184.27h1v7.33h-1zM63 184.64h1v6.96h-1zM66 185.69h1v5.91h-1zM128 183.09h1v8.51h-1zM139 185.25h1v6.35h-1zM250 182.76h1v8.84h-1zM258 185.62h1v5.98h-1zM277 183.01h1v8.59h-1z" fill="#f848f0" opacity="0.85"/><path d="M57 184.02h1v7.58h-1zM73 185.19h1v6.41h-1zM80 183.63h1v7.97h-1zM154 184.2h1v7.4h-1zM166 185.46h1v6.14h-1zM199 184.72h1v6.88h-1zM205 183.3h1v8.3h-1z" fill="#e028f2" opacity="0.85"/><path d="M33 183.65h1v7.95h-1zM45 183.68h1v7.92h-1zM70 183.05h1v8.55h-1zM71 184.2h1v7.4h-1zM90 184.37h1v7.23h-1zM95 185.35h1v6.25h-1zM99 184.89h1v6.71h-1zM103 184.95h1v6.65h-1zM115 185.25h1v6.35h-1zM123 184.39h1v7.21h-1zM129 183.74h1v7.86h-1zM132 184.07h1v7.53h-1zM135 183.94h1v7.66h-1zM138 186.08h1v5.52h-1zM141 184.6h1v7h-1zM143 184.43h1v7.17h-1zM150 184.15h1v7.45h-1zM162 183.59h1v8.01h-1zM165 183.67h1v7.93h-1zM178 183.65h1v7.95h-1zM186 185.67h1v5.93h-1zM194 184.14h1v7.46h-1zM209 185.4h1v6.2h-1zM216 185.15h1v6.45h-1zM229 184.38h1v7.22h-1zM254 184.77h1v6.83h-1zM267 182.93h1v8.67h-1zM268 184.74h1v6.86h-1zM270 183.17h1v8.43h-1zM275 183.73h1v7.87h-1z" fill="#e028f2" opacity="0.9"/><path d="M37 184.83h1v6.77h-1zM78 184.92h1v6.68h-1zM82 183.78h1v7.82h-1zM92 184.39h1v7.21h-1zM100 185.26h1v6.34h-1zM114 182.59h1v9.01h-1zM126 185.74h1v5.86h-1zM148 184.46h1v7.14h-1zM149 184.75h1v6.85h-1zM159 183.4h1v8.2h-1zM163 184.04h1v7.56h-1zM172 184.48h1v7.12h-1zM185 183.66h1v7.94h-1zM224 183.21h1v8.39h-1zM225 182.75h1v8.85h-1zM242 183.36h1v8.24h-1zM243 184.12h1v7.48h-1zM251 183.94h1v7.66h-1zM266 184.61h1v6.99h-1z" fill="#e830f0" opacity="0.9"/><path d="M43 185.51h1v6.09h-1zM46 185.83h1v5.77h-1zM58 184.41h1v7.19h-1zM64 182.89h1v8.71h-1zM67 185.06h1v6.54h-1zM76 185.3h1v6.3h-1zM85 184.45h1v7.15h-1zM176 183.73h1v7.87h-1zM182 185.4h1v6.2h-1zM217 183.09h1v8.51h-1zM238 184.76h1v6.84h-1zM259 183.69h1v7.91h-1z" fill="#f848f0" opacity="0.9"/><path d="M50 184.15h1v7.45h-1zM60 185.88h1v5.72h-1zM87 184h1v7.6h-1zM94 185.25h1v6.35h-1zM108 183.59h1v8.01h-1zM147 184.32h1v7.28h-1zM157 183.29h1v8.31h-1zM173 184.45h1v7.15h-1zM179 185.33h1v6.27h-1zM181 184.4h1v7.2h-1zM184 184.69h1v6.91h-1zM210 184.79h1v6.81h-1zM218 184.81h1v6.79h-1zM247 184.58h1v7.02h-1zM264 183.65h1v7.95h-1z" fill="#f038f0" opacity="0.9"/><path d="M52 183.91h1v7.69h-1zM55 183.34h1v8.26h-1zM98 184.44h1v7.16h-1zM111 185.82h1v5.78h-1zM118 184.27h1v7.33h-1zM144 183.18h1v8.42h-1zM156 183.79h1v7.81h-1zM183 184.23h1v7.37h-1zM192 185.79h1v5.81h-1zM196 185.14h1v6.46h-1zM212 186.05h1v5.55h-1zM239 182.98h1v8.62h-1zM245 184.53h1v7.07h-1zM276 185.87h1v5.73h-1z" fill="#f040f4" opacity="0.9"/><path d="M36 183.5h1v8.1h-1zM62 183.59h1v8.01h-1zM65 183.81h1v7.79h-1zM75 184.54h1v7.06h-1zM142 183.54h1v8.06h-1zM191 183.78h1v7.82h-1zM223 183.9h1v7.7h-1zM227 184.6h1v7h-1zM256 184.28h1v7.32h-1z" fill="#f040f4" opacity="0.95"/><path d="M40 185.53h1v6.07h-1zM121 184.11h1v7.49h-1zM127 183.28h1v8.32h-1zM134 183.93h1v7.67h-1zM140 185.55h1v6.05h-1zM145 184.84h1v6.76h-1zM155 184.15h1v7.45h-1zM161 184.1h1v7.5h-1zM167 184.16h1v7.44h-1zM169 183.72h1v7.88h-1zM175 183.63h1v7.97h-1zM180 185.74h1v5.86h-1zM189 183.96h1v7.64h-1zM208 184.64h1v6.96h-1zM232 183.8h1v7.8h-1zM244 182.77h1v8.83h-1z" fill="#e830f0" opacity="0.95"/><path d="M44 184.4h1v7.2h-1zM49 184.04h1v7.56h-1zM59 184.3h1v7.3h-1zM68 183.04h1v8.56h-1zM81 185.34h1v6.26h-1zM83 182.94h1v8.66h-1zM86 183.86h1v7.74h-1zM93 184.02h1v7.58h-1zM105 184.79h1v6.81h-1zM136 183h1v8.6h-1zM195 183.38h1v8.22h-1zM200 185.75h1v5.85h-1zM206 183.71h1v7.89h-1zM213 184.95h1v6.65h-1zM215 183.76h1v7.84h-1zM226 182.62h1v8.98h-1zM271 184.86h1v6.74h-1zM280 182.86h1v8.74h-1z" fill="#e028f2" opacity="0.95"/><path d="M47 183.2h1v8.4h-1zM53 183.85h1v7.75h-1zM77 184.51h1v7.09h-1zM89 184.34h1v7.26h-1zM125 183.76h1v7.84h-1zM131 184.66h1v6.94h-1zM151 183.61h1v7.99h-1zM207 183.87h1v7.73h-1zM214 184.22h1v7.38h-1zM231 183.84h1v7.76h-1zM236 184.05h1v7.55h-1zM255 184.66h1v6.94h-1zM260 183.71h1v7.89h-1zM261 184.49h1v7.11h-1zM262 184.16h1v7.44h-1zM278 184.89h1v6.71h-1z" fill="#f848f0" opacity="0.95"/><path d="M54 184.47h1v7.13h-1zM61 184.58h1v7.02h-1zM72 183.37h1v8.23h-1zM96 183.26h1v8.34h-1zM104 184.63h1v6.97h-1zM109 183.92h1v7.68h-1zM112 184.34h1v7.26h-1zM113 184.08h1v7.52h-1zM117 185.08h1v6.52h-1zM168 182.93h1v8.67h-1zM177 183.67h1v7.93h-1zM187 184h1v7.6h-1zM190 184.74h1v6.86h-1zM197 183.2h1v8.4h-1zM222 183.66h1v7.94h-1zM228 183.26h1v8.34h-1zM230 185.14h1v6.46h-1zM241 184.24h1v7.36h-1zM274 184.13h1v7.47h-1z" fill="#f038f0" opacity="0.95"/><path d="M34 184.51h1v7.09h-1zM160 185.46h1v6.14h-1zM204 184.06h1v7.54h-1zM220 184.03h1v7.57h-1zM248 183.83h1v7.77h-1zM269 185.2h1v6.4h-1zM273 184.42h1v7.18h-1z" fill="#e028f2"/><path d="M38 184.31h1v7.29h-1zM116 185.21h1v6.39h-1zM133 185.51h1v6.09h-1zM164 184.14h1v7.46h-1zM198 183.56h1v8.04h-1zM221 183.9h1v7.7h-1zM235 184.45h1v7.15h-1zM279 183.69h1v7.91h-1z" fill="#e830f0"/><path d="M41 182.69h1v8.91h-1zM74 182.76h1v8.84h-1zM106 183.1h1v8.5h-1zM124 184.98h1v6.62h-1zM130 182.9h1v8.7h-1zM153 184.81h1v6.79h-1zM170 184.18h1v7.42h-1zM193 184.09h1v7.51h-1zM203 185.45h1v6.15h-1zM252 183.4h1v8.2h-1zM265 183.1h1v8.5h-1z" fill="#f038f0"/><path d="M101 185.18h1v6.42h-1zM158 184.47h1v7.13h-1zM201 184.25h1v7.35h-1zM246 182.93h1v8.67h-1z" fill="#f040f4"/><path d="M119 184.94h1v6.66h-1zM137 184.34h1v7.26h-1zM146 183.95h1v7.65h-1zM219 183.66h1v7.94h-1zM249 184.04h1v7.56h-1z" fill="#f848f0"/><path d="M47.01 186.93h1.09v1.73h-1.09z" fill="#ffc0a0" opacity="0.5"/><path d="M165.58 188.43h1.16v2.46h-1.16z" fill="#ffc0a0" opacity="0.55"/><path d="M257.61 186.93h0.89v2.34h-0.89zM63.88 188.82h0.82v1.14h-0.82zM249.56 187.9h1.27v1.75h-1.27z" fill="#ffd060" opacity="0.6"/><path d="M161.07 188.7h1.25v2.36h-1.25z" fill="#ffa0e0" opacity="0.6"/><path d="M96.39 188.83h1.34v1.84h-1.34z" fill="#ffc0a0" opacity="0.6"/><path d="M181.89 188.88h1.17v1.98h-1.17z" fill="#ff90f0" opacity="0.6"/><path d="M200.3 189.75h0.84v1.89h-0.84z" fill="#ffc0a0" opacity="0.65"/><path d="M246.54 189.07h0.81v2.39h-0.81z" fill="#ffd060" opacity="0.65"/><path d="M78.54 189.5h1.17v1.53h-1.17z" fill="#ffa0e0" opacity="0.65"/><path d="M104.84 187.03h1.06v1.11h-1.06zM139.29 187.51h0.86v1.73h-0.86z" fill="#ffa0e0" opacity="0.7"/><path d="M81 188.22h1.49v2.44h-1.49z" fill="#ffc0a0" opacity="0.7"/><path d="M96.72 188.97h1.37v1.52h-1.37z" fill="#ffa0e0" opacity="0.75"/><path d="M81.6 187.57h1.27v1.66h-1.27z" fill="#ffc0a0" opacity="0.75"/><path d="M86.34 188.15h1.44v1.43h-1.44zM239.64 189.7h0.83v2.25h-0.83z" fill="#ffd060" opacity="0.75"/><path d="M58.96 189.52h1.15v2.01h-1.15zM77.08 188.7h1.32v2.43h-1.32z" fill="#ff90f0" opacity="0.75"/><path d="M255.32 189.56h0.98v1.84h-0.98zM275.24 187h0.81v2.33h-0.81z" fill="#ffd060" opacity="0.8"/><path d="M130.92 188.63h0.92v1.64h-0.92zM215.81 187.78h1.04v1.36h-1.04z" fill="#ff90f0" opacity="0.8"/><path d="M128.74 188.73h1.23v2.15h-1.23z" fill="#ffc0a0" opacity="0.8"/><path d="M62.11 188.23h1.48v1.07h-1.48zM212.09 189.08h0.91v1.75h-0.91zM66.54 189.43h1.07v1.97h-1.07zM162.7 189.31h1.07v2.16h-1.07z" fill="#ff90f0" opacity="0.85"/><path d="M257.57 187.47h0.84v1.28h-0.84zM193.54 188.6h1.24v2.08h-1.24z" fill="#ffa0e0" opacity="0.85"/><path d="M256.41 188.02h0.95v1.79h-0.95z" fill="#ffd060" opacity="0.85"/><path d="M122.89 190.07h0.84v1.84h-0.84z" fill="#ffc0a0" opacity="0.85"/><path d="M177.84 189.22h1.18v2.28h-1.18zM51.89 187.93h1.18v1.38h-1.18z" fill="#ff90f0" opacity="0.9"/><path d="M87.53 187.51h1.44v1.7h-1.44z" fill="#ffd060" opacity="0.9"/><path d="M257.9 188.39h1.43v1.05h-1.43z" fill="#ffc0a0" opacity="0.9"/><path d="M152.24 187.1h1.21v1.22h-1.21z" fill="#ffa0e0" opacity="0.9"/><path d="M48.01 189.26h1.13v2.32h-1.13z" fill="#ffa0e0" opacity="0.95"/><path d="M53.35 186.81h1.35v1.2h-1.35z" fill="#ffd060" opacity="0.95"/></g></g>
<text x="34.2" y="123.4" font-size="10" font-weight="bold" fill="#fff" textLength="35.5" lengthAdjust="spacingAndGlyphs">WT-Veh</text>
<rect x="286.5" y="115.3" width="5.3" height="77.3" fill="url(#cb2865_115)" stroke="none" stroke-width="1"/>
<text x="293.6" y="119.9" font-size="11" font-weight="bold" textLength="21.3" lengthAdjust="spacingAndGlyphs">Max</text>
<text x="293.6" y="193.4" font-size="11" font-weight="bold" textLength="19" lengthAdjust="spacingAndGlyphs">Min</text>
<text x="302.2" y="152.45" font-size="10.8" font-weight="bold" text-anchor="middle" transform="rotate(-90 302.2 152.45)" textLength="64" lengthAdjust="spacingAndGlyphs">Power (µV<tspan font-size="6.5" dy="-4">2</tspan><tspan dy="4">)</tspan></text>
<line x1="285.2" y1="94.1" x2="285.2" y2="102.4" stroke="#444" stroke-width="1.1"/>
<line x1="264.6" y1="102.4" x2="285.2" y2="102.4" stroke="#444" stroke-width="1.1"/>
<text x="285.8" y="101.6" font-size="8.5" font-weight="bold" textLength="20.6" lengthAdjust="spacingAndGlyphs">8 mV</text>
<text x="263.8" y="110.3" font-size="8.5" font-weight="bold" textLength="22.3" lengthAdjust="spacingAndGlyphs">2 min</text>
<text x="352.6" y="82.6" font-size="18" font-weight="bold">c</text>
<path d="M395 79.5V86.31M395.5 77.53V87.5M396 81.45V92.27M396.5 74.58V89.91M397 83.5V87.95M397.5 81.48V87.97M398 81.56V87.65M398.5 77.58V86.91M399 80.1V87.95M399.5 82.07V88.98M400 80.46V89.52M400.5 82.77V88.81M401 81.2V88.9M401.5 80.59V88M402 79.88V85.97M402.5 76.63V85.83M403 69.73V88.93M403.5 82.08V92.09M404 79.44V89.17M404.5 82.59V88.31M405 80.93V88.95M405.5 79.33V89.19M406 81.92V90.23M406.5 81.55V91.48M407 83.09V89.15M407.5 81.8V93.01M408 83.14V92.11M408.5 83.5V91.09M409 84.35V91.31M409.5 82.52V94.73M410 87.03V94.58M410.5 83.81V91.55M411 83.15V89.03M411.5 77.89V89.38M412 79.31V87.44M412.5 73.28V82.93M413 74.23V79.63M413.5 73.9V81.84M414 75.09V81.4M414.5 74.57V84.28M415 76.09V81.57M415.5 75.75V85.14M416 77V84.2M416.5 71.45V83.1M417 75.24V83.82M417.5 75.39V85.42M418 77.7V83.06M418.5 75.94V81.69M419 73.24V83.14M419.5 75.63V84.36M420 74.8V81.96M420.5 73.22V81.23M421 74.87V84.55M421.5 74.59V85.01M422 78.7V83.89M422.5 79.84V87.88M423 81.69V86.65M423.5 79.51V87.59M424 83.23V90.57M424.5 83.93V89.76M425 83.12V89.13M425.5 82.94V91.23M426 82.52V89.52M426.5 82.4V88.44M427 81.75V87.87M427.5 81.97V90.15M428 80.65V87.58M428.5 81.31V90.12M429 80.11V86.54M429.5 79.62V86.23M430 77.95V87.45M430.5 76.64V84.69M431 76.09V83.57M431.5 73.45V83.33M432 75.26V85.95M432.5 78.4V85.75M433 79.66V87.6M433.5 72.55V85.63M434 78.72V84.11M434.5 76.94V84.75M435 75.77V86.64M435.5 76.24V85.6M436 75.38V87.13M436.5 80.6V87.43M437 77.55V87.85M437.5 77.98V86.27M438 78.61V86.75M438.5 76.4V85.87M439 80.84V88.9M439.5 79.95V86.21M440 77.23V88.97M440.5 79.87V88.1M441 79.62V86.61M441.5 79.49V86.67M442 78.84V85.53M442.5 79.46V84.85M443 76.41V91.26M443.5 80.85V87.89M444 79.14V90.56M444.5 77.59V89.23M445 78.63V85.68M445.5 78.46V87.35M446 78.85V85.03M446.5 77.5V85.2M447 78.85V86.4M447.5 73.79V84.07M448 79.39V84.3M448.5 77.41V87.41M449 80.81V85.39M449.5 78.09V89.05M450 80.51V86.11M450.5 82.65V88.38M451 83.41V88.81M451.5 80.54V88.5M452 80.31V87.09M452.5 82.7V94.46M453 81.64V89.09M453.5 75.85V90.09M454 75.43V88.81M454.5 80.53V87.37M455 83.17V94M455.5 84.56V91.23M456 83.95V91.16M456.5 81.68V91.38M457 84.44V89.7M457.5 82.65V91.17M458 84.83V91.02M458.5 81.28V89.94M459 84.27V92M459.5 83.21V90.34M460 82.43V91.4M460.5 83.38V91.17M461 84.88V91.68M461.5 85.44V95.65M462 83.32V90.39M462.5 84.06V89.96M463 83.08V91.16M463.5 82.8V88.67M464 80.39V90.18M464.5 81.26V88.12M465 81.97V87.28M465.5 79.7V87.24M466 79.73V86.34M466.5 76.66V85.99M467 78.11V85.56M467.5 75.82V86.89M468 77.97V84.61M468.5 76.63V84.58M469 76.47V81.69M469.5 72.88V81.63M470 73.27V82.93M470.5 75.03V82.15M471 76.87V86.43M471.5 75.32V84.18M472 78.01V83.91M472.5 77.39V87.22M473 76.5V84.59M473.5 79.06V84.26M474 77.55V85.66M474.5 77.26V87.66M475 76.09V84.55M475.5 73.6V83.51M476 75.3V85.38M476.5 77.34V86.9M477 79.32V87.34M477.5 77.47V87.37M478 76.09V86.91M478.5 80.34V87.34M479 80.95V87.38M479.5 81.81V90.37M480 82.11V89.9M480.5 83.21V97.21M481 83.93V92.39M481.5 80.93V88.68M482 80.13V88.93M482.5 80.79V88.27M483 79.19V86.64M483.5 80.27V86.6M484 77.41V86.84M484.5 78.78V87.01M485 77.26V86.31M485.5 74.95V86.44M486 71.99V85.55M486.5 67.52V80.78M487 72.95V79.98M487.5 75.67V81.25M488 75.1V82.34M488.5 74.51V83.29M489 79.13V86.79M489.5 79.95V89.37M490 80.87V89.11M490.5 81.28V89M491 82.15V90.58M491.5 82.76V95.03M492 85V92.65M492.5 85.02V91.9M493 84.76V92.01M493.5 84.79V92.24M494 84.21V92.13M494.5 83.87V92.96M495 82.05V91.26M495.5 80.64V91.53M496 79.72V90.69M496.5 81.09V91.48M497 81.63V93.03M497.5 82.07V92.74M498 79.36V85.93M498.5 76.32V85.06M499 78.36V86.97M499.5 79.45V84.11M500 74.86V88.67M500.5 77.93V85.5M501 77.92V85.29M501.5 74.8V86.45M502 76.95V85.65M502.5 76.24V84.1M503 78.76V85.97M503.5 79.04V86.05M504 79.13V87.47M504.5 80.75V88.87M505 79.46V87.69M505.5 78.6V87.77M506 82V89.65M506.5 79.27V86.84M507 80.98V88.72M507.5 81.75V90.18M508 80.85V89.94M508.5 82.44V89.27M509 82.11V88.49M509.5 78.56V88.31M510 75.91V87.16M510.5 79.75V86.63M511 78.61V89.85M511.5 81.02V87.63M512 82.47V88.99M512.5 79.9V88.19M513 80.99V89.72M513.5 81.19V87.56M514 80.59V89.66M514.5 80.07V86.5M515 79.38V87.4M515.5 80.22V88.91M516 80V87.18M516.5 78.02V88.95M517 79.87V89.45M517.5 79.01V88.64M518 80.93V89.46M518.5 81.95V87.81M519 74.6V87.35M519.5 76.88V86.1M520 74.9V83.31M520.5 77.79V85.82M521 74.58V84.78M521.5 78.12V86.21M522 75.83V88.06M522.5 81.25V91.39M523 79.14V86.86M523.5 81.94V88.13M524 81.45V89.09M524.5 80.57V88.5M525 78.09V86.01M525.5 72.29V86.28M526 77.06V87.55M526.5 80.39V84.66M527 79.72V87.43M527.5 80.71V86.36M528 71.77V88.16M528.5 82.21V89.21M529 82.4V90.31M529.5 82.56V90.68M530 80.57V88.74M530.5 81.71V87.74M531 81.74V87.01M531.5 80.75V90.12M532 79.15V85.98M532.5 79.03V90.73M533 78V90.17M533.5 77.85V89.02M534 79.49V88.46M534.5 76.57V93.7M535 80.6V88.42M535.5 79.97V87.08M536 79.33V90.29M536.5 79.52V86.91M537 79.92V86.93M537.5 76.24V85.28M538 76.78V82.87M538.5 76.85V82.09M539 72.12V82.1M539.5 77.45V84.04M540 76.74V82.79M540.5 77.94V84.13M541 78.41V84.95M541.5 77.02V84.76M542 77.27V85.7M542.5 78.67V85.05M543 76.32V86.31M543.5 76.63V87.42M544 79.48V91.98M544.5 80.64V89.57M545 85.77V91.7M545.5 82.45V89.58M546 81.81V88.39M546.5 82.47V90.28M547 83.23V91.03M547.5 86V90.99M548 84.36V92.59M548.5 83.52V96.88M549 85.33V93.49M549.5 84.31V95.26M550 85.37V91.37M550.5 84.4V90.78M551 84.81V92.35M551.5 78.13V89.57M552 79.09V90.23M552.5 83.11V91.06M553 77.84V87.41M553.5 78.51V85.84M554 79.46V86.04M554.5 76.56V87.48M555 80.34V87.66M555.5 79.62V88.82M556 80.27V88.02M556.5 81.35V87.67M557 80.97V90.67M557.5 79.43V89.43M558 79.56V86.61M558.5 78.02V87.95M559 78.59V87.37M559.5 76.08V87.15M560 80.41V88.55M560.5 81.28V91.37M561 81.31V88.97M561.5 81.89V92.71M562 80.27V89.36M562.5 81.48V87.52M563 83.2V91.81M563.5 81.08V88.85M564 80.21V90.16M564.5 79.53V90.87M565 79.43V89.38M565.5 79.57V84.17M566 75.8V86.61M566.5 75.62V84.24M567 77.16V87.14M567.5 81.44V85.59M568 81.57V90.08M568.5 82.35V91.82M569 80.35V89.14M569.5 80.65V86.29M570 78.65V86.5M570.5 80.49V86.62M571 80.36V88.19M571.5 76.39V86.24M572 81.59V90.86M572.5 83.05V92.48M573 81V90.25M573.5 83.34V94.99M574 83.34V92.02M574.5 84.5V92.71M575 82.13V94.02M575.5 83.18V90.99M576 85.45V91.16M576.5 81.75V90.44M577 78.02V88.72M577.5 80.26V86.14M578 77.59V86.43M578.5 78.4V84.44M579 77.2V88.61M579.5 77.5V86.02M580 78.73V87.63M580.5 76.17V84.41M581 78.76V87.85M581.5 74.74V85.68M582 76.13V86.06M582.5 77.9V84.79M583 77.06V85.55M583.5 74.51V83.7M584 78.28V84.96M584.5 77.42V84.78M585 78.56V84.26M585.5 76.61V88.06M586 73.05V84.22M586.5 77.79V82.31M587 77.11V84.75M587.5 77.61V84.69M588 76.52V85.43M588.5 79.71V85.81M589 77.8V85.33M589.5 75.67V85.04M590 77.45V87.87M590.5 73.82V83.22M591 75.46V83.56M591.5 76.94V86.42M592 78.63V87.66M592.5 77.6V84.95M593 76.44V85.22M593.5 76.88V83.4M594 74.27V88.89M594.5 76.02V84.13M595 76.76V83.28M595.5 80.23V84.83M596 78.81V85.53M596.5 83.35V88.39M597 81.24V89.36M597.5 80.33V88.3M598 81.69V87.11M598.5 80.16V88.27M599 80.33V89.46M599.5 82.41V88.45M600 80.57V88.93M600.5 83.82V91.42M601 85.45V91.88M601.5 83.18V91.19M602 84.35V92.57M602.5 84.53V93.01M603 83.78V93.39M603.5 83.31V92.1M604 83.01V90.69M604.5 82.24V90.29M605 79.84V84.93M605.5 73.85V83.36M606 73.88V81.5M606.5 75.41V85.14M607 72.55V83.6M607.5 79.74V87.48M608 79V85.43M608.5 79.31V87.26M609 81.11V86.95M609.5 80.34V89.55M610 82.19V88.13M610.5 81.8V90.61M611 83.86V90.3M611.5 80.91V92.41M612 85.31V92.29M612.5 85.04V92.4M613 84.47V90.96M613.5 84.28V90.77M614 83.56V89.24M614.5 84.68V89.33M615 83.67V89.87M615.5 82.79V91.86M616 83.91V89.72M616.5 84.18V91.28M617 81.35V88.21M617.5 80.2V86.88M618 79.61V84.61M618.5 79.57V84.47M619 77.96V88.42M619.5 76.35V84.41M620 74.51V84.34M620.5 74.82V83.38M621 75.73V81.71M621.5 76.14V81.83M622 74.32V82.13M622.5 75.27V82.07M623 75.36V81.9M623.5 77.73V87.47M624 79.34V90.08M624.5 79.05V86.61M625 80.29V88.42M625.5 76.88V85.12M626 78.86V86.8M626.5 76.91V90.41M627 79.96V85.46M627.5 81.7V88.34M628 78.66V88.16M628.5 80.71V97.02M629 83.18V90.07M629.5 82.86V90.37M630 83.79V89.84M630.5 78.64V91.18M631 84.96V92.72M631.5 85.12V92.6M632 84.93V94.46M632.5 84.82V91.76M633 87.43V94.36M633.5 87.03V95.57M634 83.87V92.76M634.5 83.6V91.56M635 82.23V90.48M635.5 84.3V88.17M636 82.21V88.16M636.5 82.45V87.29M637 80.34V91.48M637.5 77.96V85.16M638 77.32V84.4M638.5 74.96V81.38M639 74.98V80.52M639.5 76.57V81.89M640 73.59V83.21M640.5 74.49V83.34M641 77.73V87.74M641.5 79.67V85.41M642 80.29V86.2M642.5 77.43V88.35M643 81.93V89.39M643.5 83.44V91.71M644 86.57V94.21M644.5 86.48V93.02" stroke="#000" stroke-width="0.5" opacity="0.3" fill="none"/>
<path d="M395 81.54V86M395.5 78.86V87.32M396 81.67V89.31M396.5 80.63V89.23M397 83.62V87.6M397.5 82.07V86.99M398 82.96V86.79M398.5 82.35V86.86M399 82.3V87.02M399.5 82.64V87.28M400 80.8V88.33M400.5 83.38V87.77M401 81.82V88.52M401.5 81.24V87.77M402 80.73V85.1M402.5 81.83V85.83M403 81.2V86.97M403.5 82.31V87.51M404 81.81V88.96M404.5 82.85V88.31M405 82.14V88M405.5 83.42V88.1M406 84.11V88.63M406.5 82.35V91.34M407 83.4V88.27M407.5 82.9V91.48M408 83.65V90.87M408.5 85.17V90.43M409 85.64V91.19M409.5 85.96V91.55M410 88.58V94.23M410.5 85.16V91.11M411 83.84V88.73M411.5 79.96V86.41M412 79.37V84.4M412.5 76.59V81.67M413 75.45V79.49M413.5 74.01V78.93M414 75.24V80.54M414.5 75.39V84.01M415 76.51V81.23M415.5 76.01V82.23M416 77.11V82.81M416.5 73.19V82.82M417 75.61V82.41M417.5 78.22V82.7M418 78.24V82.75M418.5 76.07V81.11M419 73.72V81.09M419.5 75.68V81.67M420 76.23V81.74M420.5 75.35V80.61M421 77.07V81.84M421.5 78.03V84.21M422 79.71V83.76M422.5 80.77V86.67M423 82.13V86.44M423.5 82.04V86.88M424 83.4V87.88M424.5 84.2V89.59M425 83.47V88.86M425.5 83.87V89.41M426 82.75V88.91M426.5 82.9V88.44M427 82.73V87.66M427.5 82.3V87.04M428 81.19V87.57M428.5 83.05V89.27M429 80.47V86.5M429.5 80.26V85.23M430 78.94V86.41M430.5 76.93V83.05M431 76.69V82.87M431.5 75.23V82.88M432 78.78V84.11M432.5 78.68V84.99M433 79.94V84.43M433.5 75.97V84.44M434 79.06V83.98M434.5 79.25V83.65M435 79.9V85.5M435.5 76.92V85.06M436 80.15V85.95M436.5 80.85V87.07M437 81.09V86.65M437.5 81.12V85.98M438 81.07V86.34M438.5 76.92V85.27M439 81.97V86.73M439.5 80.65V84.99M440 80.69V87.94M440.5 81.23V85.35M441 80.59V85.1M441.5 80.86V84.86M442 80.9V85.35M442.5 80.03V84.82M443 76.93V87.22M443.5 81.02V86.38M444 79.84V85.69M444.5 78.96V87.22M445 80.28V84.38M445.5 79.19V85.32M446 79.67V84.25M446.5 78.52V85.2M447 78.98V84.36M447.5 76V83.61M448 79.63V84M448.5 80.36V85.3M449 80.96V85.38M449.5 80.97V86M450 81.2V85.89M450.5 83.02V87.29M451 83.46V87.99M451.5 83.28V87.59M452 81.85V87.02M452.5 82.85V89.3M453 83.24V88.12M453.5 82.12V87.45M454 81.66V87.4M454.5 82.7V86.9M455 83.43V90.86M455.5 84.62V89.16M456 84.45V91.1M456.5 81.76V90.2M457 85.55V89.41M457.5 84.78V90.86M458 85.29V90.62M458.5 84.73V89.72M459 84.7V88.91M459.5 85.07V89.39M460 84.27V89.6M460.5 84.79V88.86M461 85.82V91.26M461.5 85.99V93.13M462 83.43V90.08M462.5 84.18V89.12M463 84.15V88.57M463.5 82.84V88.08M464 80.54V89.12M464.5 82.49V87.54M465 82.16V86.88M465.5 81.36V86.63M466 80.23V85.66M466.5 80.13V85.7M467 79.65V83.86M467.5 77.77V83.34M468 78.75V83.49M468.5 77.83V83.74M469 76.5V81.52M469.5 74.26V80.97M470 75.27V82.91M470.5 75.1V81.64M471 77.61V83.01M471.5 76.07V82.72M472 78.15V83.48M472.5 78.99V84.06M473 77.42V83.37M473.5 79.26V83.79M474 78.19V85.53M474.5 79.53V83.46M475 76.51V83.37M475.5 75.48V83.5M476 79.44V84.73M476.5 79.2V85.2M477 80.03V86.76M477.5 78.89V85.49M478 80.12V85.5M478.5 81.21V86.56M479 81.85V86.47M479.5 82.34V88.67M480 84.33V88.21M480.5 83.27V91.89M481 84.67V88.61M481.5 81.73V88.24M482 80.83V87.74M482.5 81.74V86.76M483 80.46V86.59M483.5 80.85V86.37M484 77.6V84.74M484.5 79.15V85.8M485 79.26V83.85M485.5 75.09V85.4M486 73.93V82.4M486.5 71.97V80.6M487 73.08V79.93M487.5 76.54V81M488 77.73V81.82M488.5 77.08V83.06M489 79.2V86M489.5 81.74V88.72M490 81.94V86.78M490.5 83.08V88.57M491 84.58V89.07M491.5 85.35V89.94M492 86.63V91.04M492.5 85.65V91.62M493 85.6V90.54M493.5 84.86V90.34M494 84.39V90.39M494.5 85.16V90.99M495 83.36V90.76M495.5 81.84V88.72M496 85.22V90.59M496.5 84.33V88.38M497 82.2V87.98M497.5 82.18V87.64M498 79.56V85.53M498.5 77.7V84.23M499 79.39V86.32M499.5 79.5V83.18M500 77.49V85.04M500.5 78.73V83.53M501 78.91V84.71M501.5 78.54V84.93M502 78.22V83.49M502.5 79.42V83.87M503 80.61V85.33M503.5 79.28V85.35M504 80.38V87.31M504.5 80.86V86.87M505 81.96V86.97M505.5 80.44V87.51M506 82.1V88.89M506.5 82.03V86.65M507 81V87.64M507.5 81.92V87.58M508 81.17V87.42M508.5 83.19V88.9M509 82.79V88.31M509.5 81.9V87.14M510 77.21V86.83M510.5 80.52V86.58M511 80.54V88.58M511.5 82.27V86.72M512 82.71V88.5M512.5 80.65V87.78M513 82.75V87.7M513.5 82.17V87.03M514 82.14V87.68M514.5 80.13V86.18M515 81.24V85.34M515.5 80.4V88.37M516 80.82V86.64M516.5 81.04V86.89M517 82.62V87.12M517.5 79.39V87.59M518 82.46V87.36M518.5 82.46V87.72M519 79.12V85.95M519.5 78.71V86.09M520 77.25V82.87M520.5 78.07V83.59M521 78.52V83.78M521.5 80.07V84.25M522 78.94V85.63M522.5 81.47V85.86M523 82.7V86.65M523.5 82.37V87.06M524 82.07V88.93M524.5 81.3V87.77M525 81.03V84.93M525.5 79.89V85.5M526 77.09V84.4M526.5 80.48V84.52M527 80.35V86.52M527.5 80.85V85.17M528 74.59V86.86M528.5 83.22V88.72M529 83.59V89.64M529.5 82.71V88.59M530 81.79V88.48M530.5 82.3V86.75M531 82.36V86.83M531.5 81.5V87.61M532 81.1V85.6M532.5 79.04V89.23M533 80.51V88M533.5 79.96V86.37M534 80.04V87.2M534.5 78.87V88.11M535 81.72V87.83M535.5 81.5V86.69M536 80.98V90.05M536.5 79.55V85.7M537 79.98V84.67M537.5 78.87V82.96M538 76.89V82.26M538.5 77.09V81.65M539 75.05V81.26M539.5 77.46V82.41M540 77.02V82.36M540.5 78.35V83.12M541 79V84.8M541.5 77.62V83.55M542 78.53V83.65M542.5 79.37V84.24M543 80.09V85.83M543.5 80.24V87.39M544 80.93V89.13M544.5 82.9V89.23M545 85.78V90.51M545.5 83.4V89.18M546 83.95V88.37M546.5 84.03V89.47M547 84.52V90.14M547.5 86.41V90.32M548 85.14V92.08M548.5 84.94V92.39M549 85.39V91.15M549.5 85.86V93.5M550 85.58V89.96M550.5 85.73V90.12M551 85.38V90.79M551.5 83.67V89.28M552 83.03V88.5M552.5 83.15V90.51M553 81.29V87.3M553.5 79.37V84.96M554 79.88V83.96M554.5 79.32V85.46M555 80.37V86.44M555.5 80.44V88.01M556 80.44V86.75M556.5 81.41V87.06M557 82.01V87.66M557.5 81.29V87.27M558 79.63V84.57M558.5 78.13V85.97M559 79.72V85.54M559.5 77.72V86.15M560 81.99V87.75M560.5 82.54V89.52M561 82.33V87.75M561.5 82.75V91.58M562 80.3V88.97M562.5 82.55V87.38M563 83.65V89.27M563.5 82.29V87.12M564 81.67V89.55M564.5 80.59V87.77M565 80.79V89.2M565.5 79.76V83.96M566 76.11V83.23M566.5 75.74V84.18M567 78.99V86.98M567.5 81.55V85.59M568 81.97V87.38M568.5 82.83V86.89M569 80.49V86.69M569.5 80.99V85.96M570 78.97V86.31M570.5 81.02V85.75M571 81.42V86.1M571.5 78.79V85.47M572 81.92V90.01M572.5 83.34V90.02M573 82.29V90.25M573.5 83.87V92.06M574 83.92V91.14M574.5 86.3V92.5M575 84.91V89.46M575.5 86.02V90.49M576 85.56V90.01M576.5 84.65V88.97M577 79.94V86.85M577.5 80.62V85.43M578 79.66V84.86M578.5 78.61V84.06M579 79.21V86.34M579.5 79.79V84.79M580 80.37V85.75M580.5 78.32V84.32M581 79.91V85.6M581.5 78.02V83.54M582 76.34V84.88M582.5 77.98V82.79M583 79V85.46M583.5 77.35V83.62M584 79.84V83.83M584.5 79.84V84.71M585 79.5V83.35M585.5 77.13V83.02M586 74.97V81.98M586.5 77.84V81.76M587 77.93V83.76M587.5 78.92V84.66M588 79.9V84.94M588.5 79.96V84.5M589 79.06V85.23M589.5 77.02V84.83M590 77.91V83.18M590.5 76.19V83.15M591 78.27V82.94M591.5 77.05V85.09M592 79.2V85.1M592.5 78.53V83.56M593 77.81V83.23M593.5 77.87V83.35M594 76.77V83.56M594.5 77.72V82.68M595 77.6V82.65M595.5 80.36V84.6M596 78.88V85.53M596.5 83.36V88.28M597 81.78V89.01M597.5 82.18V87.22M598 81.74V86.68M598.5 81.43V86.18M599 82.67V87.62M599.5 82.65V88.33M600 81.82V88.23M600.5 85.39V90.36M601 85.73V89.99M601.5 85.07V91.18M602 85.71V91.61M602.5 85.99V90.82M603 86.49V93.1M603.5 84.84V90.31M604 83.94V90.02M604.5 82.74V89.6M605 80.31V84.77M605.5 77.65V82.51M606 75.09V81.06M606.5 76.22V84.38M607 77.67V83.35M607.5 80.31V86.39M608 81.53V85.34M608.5 81.85V86.79M609 82.24V86.84M609.5 81.21V88.29M610 83.34V87.32M610.5 82.54V88.01M611 83.92V89.82M611.5 83.77V92.02M612 85.66V91.16M612.5 86.72V92.24M613 85.48V90.42M613.5 84.64V90.41M614 84.06V88.9M614.5 84.99V89.26M615 85.27V89.72M615.5 84.16V90.48M616 84.98V89.57M616.5 84.49V90.37M617 82.1V88.19M617.5 81.91V86.44M618 79.84V84.49M618.5 79.84V84.37M619 78.09V85.18M619.5 77.25V83.26M620 74.88V83.42M620.5 77.09V82.21M621 76.76V81.46M621.5 77.18V81.66M622 75.11V82.08M622.5 76.69V81.56M623 76.96V81.72M623.5 79.22V83.46M624 79.71V85.71M624.5 79.37V85.26M625 80.47V86.4M625.5 80.49V84.63M626 80.33V84.69M626.5 80.66V85.36M627 79.97V85.45M627.5 81.89V87.49M628 79.22V88.14M628.5 83.49V90.19M629 84.62V89.76M629.5 83.89V90.17M630 84.53V89.8M630.5 82.78V89.75M631 85.18V90.52M631.5 85.13V90.48M632 85.45V91.73M632.5 87.37V91.7M633 87.88V93.24M633.5 87.12V91.93M634 84.95V92.31M634.5 84.94V90.34M635 82.26V90.48M635.5 84.44V87.99M636 83.04V87.01M636.5 82.54V86.95M637 81.72V86.58M637.5 78.79V84.54M638 77.91V84.29M638.5 76.51V80.77M639 75.55V80.09M639.5 76.69V81.68M640 77.07V81.02M640.5 77.44V82.92M641 77.87V85.57M641.5 79.75V85.17M642 80.8V85.65M642.5 78.71V86.39M643 83.11V88.6M643.5 83.59V91.12M644 86.68V91.47M644.5 87.01V92.62" stroke="#000" stroke-width="0.95" fill="none"/>
<path d="M409.1 90.44L410 98.44L410.9 90.44Z" stroke="none" stroke-width="1.3" fill="#000"/>
<path d="M412.1 77.26L413 68.26L413.9 77.26Z" stroke="none" stroke-width="1.3" fill="#000"/>
<path d="M468.1 79.17L469 74.17L469.9 79.17Z" stroke="none" stroke-width="1.3" fill="#000"/>
<path d="M486.1 77.1L487 71.1L487.9 77.1Z" stroke="none" stroke-width="1.3" fill="#000"/>
<path d="M519.1 80.9L520 75.9L520.9 80.9Z" stroke="none" stroke-width="1.3" fill="#000"/>
<path d="M539.1 79.59L540 73.59L540.9 79.59Z" stroke="none" stroke-width="1.3" fill="#000"/>
<path d="M544.1 88.13L545 95.13L545.9 88.13Z" stroke="none" stroke-width="1.3" fill="#000"/>
<path d="M584.1 81.29L585 75.29L585.9 81.29Z" stroke="none" stroke-width="1.3" fill="#000"/>
<path d="M602.1 89.89L603 97.89L603.9 89.89Z" stroke="none" stroke-width="1.3" fill="#000"/>
<path d="M605.1 78.55L606 69.55L606.9 78.55Z" stroke="none" stroke-width="1.3" fill="#000"/>
<path d="M610.1 87.67L611 93.67L611.9 87.67Z" stroke="none" stroke-width="1.3" fill="#000"/>
<path d="M632.1 89.71L633 96.71L633.9 89.71Z" stroke="none" stroke-width="1.3" fill="#000"/>
<path d="M640.1 82.19L641 73.19L641.9 82.19Z" stroke="none" stroke-width="1.3" fill="#000"/>
<line x1="394" y1="111" x2="394" y2="190.2" stroke="#333" stroke-width="0.9"/>
<line x1="391.1" y1="190.2" x2="645.8" y2="190.2" stroke="#222" stroke-width="1.3"/>
<line x1="391.1" y1="111.5" x2="393.9" y2="111.5" stroke="#000" stroke-width="1.1"/>
<text x="390.5" y="114.7" font-size="12" text-anchor="end" font-weight="bold" textLength="19.5" lengthAdjust="spacingAndGlyphs">100</text>
<line x1="391.1" y1="150.2" x2="393.9" y2="150.2" stroke="#000" stroke-width="1.1"/>
<text x="390.5" y="153.4" font-size="12" text-anchor="end" font-weight="bold" textLength="12.2" lengthAdjust="spacingAndGlyphs">50</text>
<line x1="391.1" y1="190.2" x2="393.9" y2="190.2" stroke="#000" stroke-width="1.1"/>
<text x="390.5" y="193.4" font-size="12" text-anchor="end" font-weight="bold" textLength="6.2" lengthAdjust="spacingAndGlyphs">0</text>
<text x="373.9" y="151.4" font-size="10.8" font-weight="bold" text-anchor="middle" transform="rotate(-90 373.9 151.4)" textLength="73" lengthAdjust="spacingAndGlyphs">Frequency (Hz)</text>
<text x="398" y="200.5" font-size="11" font-weight="bold" textLength="55.2" lengthAdjust="spacingAndGlyphs">Time (min)</text>
<line x1="395.5" y1="203.6" x2="457.8" y2="203.6" stroke="#000" stroke-width="1.3"/>
<path d="M460.8 203.6 L456 200.9 L456 206.3 Z" stroke="none" stroke-width="1.3" fill="#000"/>
<rect x="394.5" y="111" width="250.5" height="78.4" fill="url(#sg22)" stroke="none" stroke-width="1"/>
<g clip-path="url(#cp22)"><g filter="url(#blur)"><path d="M640 154.82h1v10.37h-1zM490 141.75h1v6.56h-1zM400 142.21h1v9.32h-1zM551 122.3h1v5.98h-1zM477 152.29h1v9.38h-1zM454 129.86h1v2.5h-1zM451 132.1h1v10.58h-1zM583 112.24h1v5.81h-1zM622 132.34h1v11.98h-1zM406 117.64h1v9.65h-1zM435 161.71h1v7.1h-1zM598 137.4h1v4.25h-1zM512 171.02h1v5.28h-1zM583 116.99h1v9.33h-1zM563 162.82h1v11.52h-1zM584 126.33h1v3.24h-1zM605 139.77h1v8.51h-1zM479 169.92h1v5.84h-1zM609 146.75h1v7.12h-1zM575 127.3h1v6.57h-1zM465 155.64h1v6.7h-1zM558 111.36h1v11.91h-1z" fill="#9a30f0" opacity="0.05"/><path d="M448 148.68h1v6.21h-1zM492 161.94h1v7.74h-1zM401 136.42h1v7.94h-1zM467 163.38h1v2.72h-1zM407 151.57h1v7.41h-1zM399 154.99h1v7.17h-1zM535 149.6h1v2.32h-1zM441 132.6h1v11.16h-1zM504 162.74h1v4.95h-1zM411 138.15h1v11.61h-1zM503 139.96h1v2.08h-1zM528 125.07h1v8.19h-1zM553 116.15h1v2.37h-1zM496 143.7h1v7.62h-1zM397 139.07h1v2.89h-1zM404 121.54h1v4.1h-1zM589 125.19h1v2.72h-1zM424 120.69h1v2.31h-1zM465 152.8h1v8.12h-1zM526 143.39h1v6.82h-1zM552 161.61h1v2.97h-1zM586 127.88h1v2.63h-1z" fill="#7a20f0" opacity="0.05"/><path d="M429 119.32h1v10.27h-1zM612 120.25h1v11.55h-1zM470 127.52h1v9.83h-1zM477 143.5h1v7.78h-1zM620 115.73h1v5.35h-1zM397 135.09h1v8.95h-1zM503 145.08h1v11.46h-1zM423 115.55h1v7.6h-1zM434 148.97h1v3.8h-1zM546 128.91h1v6.16h-1zM625 161.68h1v3.15h-1zM517 121.79h1v4.51h-1zM412 160.01h1v11.47h-1zM554 136.55h1v4.29h-1zM596 134.16h1v2.6h-1zM468 114.53h1v11.83h-1zM448 111.85h1v8.83h-1zM463 111.54h1v11.53h-1zM559 146.53h1v5.19h-1zM618 118.04h1v5.46h-1zM608 118.78h1v10.97h-1zM438 120.4h1v11.52h-1zM467 120.97h1v10.2h-1zM416 112.65h1v9.36h-1zM527 135.42h1v7.65h-1zM419 143.99h1v6.57h-1zM400 141.78h1v2.15h-1zM536 153.1h1v10.09h-1zM570 133.86h1v5.46h-1zM604 121.84h1v7.32h-1z" fill="#6010f4" opacity="0.05"/><path d="M485 141.08h1v2.89h-1zM533 152.27h1v2.49h-1zM424 166.52h1v8.94h-1zM617 126h1v8.95h-1zM553 136.44h1v4.11h-1zM546 162.32h1v2.36h-1zM447 131.5h1v10.61h-1zM490 156.48h1v3.02h-1zM484 159.42h1v5.34h-1zM398 158.08h1v5.4h-1zM548 172.01h1v2.97h-1zM596 152.63h1v2.41h-1zM607 158.92h1v4.71h-1zM569 147.81h1v3.73h-1zM493 128.76h1v2.3h-1zM497 173.29h1v5.82h-1zM486 174.94h1v4.42h-1zM637 173.88h1v3.78h-1zM443 114.84h1v10.29h-1zM472 134.96h1v6.76h-1zM608 175.47h1v3.73h-1zM628 155.81h1v3.2h-1zM498 134.36h1v8.57h-1zM523 173h1v5.39h-1zM400 145.22h1v11.82h-1zM554 171.43h1v5.33h-1zM622 135.23h1v4.31h-1zM400 160.69h1v3.68h-1zM463 169.49h1v9.31h-1zM468 139.69h1v4.08h-1zM570 172.18h1v5.24h-1zM600 163.49h1v9.83h-1zM500 135.9h1v8.87h-1zM395 149.55h1v9.25h-1zM566 165.74h1v11.94h-1zM399 121.63h1v6.49h-1zM616 141.52h1v9.85h-1zM513 170.08h1v10.4h-1z" fill="#7a20f0" opacity="0.1"/><path d="M486 173.65h1v5.9h-1zM499 143.95h1v3.86h-1zM641 160.04h1v6.92h-1zM514 161.36h1v4.22h-1zM561 129.49h1v6.98h-1zM450 163.26h1v11.98h-1zM445 138.37h1v11.61h-1zM602 162.22h1v2.72h-1zM444 165.81h1v2.53h-1zM482 134.23h1v8.98h-1zM498 175.1h1v5h-1zM396 136.24h1v6.78h-1zM413 170.51h1v4.77h-1zM605 138.2h1v7.21h-1zM635 128.52h1v9.44h-1zM566 149.5h1v11.31h-1zM451 160.3h1v7.77h-1zM443 132.28h1v2.85h-1zM537 143.26h1v5.94h-1zM548 120.78h1v5.91h-1zM569 155.91h1v11.49h-1zM525 155.07h1v9.91h-1zM408 165.36h1v10.89h-1zM489 146.04h1v2.59h-1zM402 131.03h1v3.07h-1zM580 143.75h1v4.58h-1zM419 151.59h1v9.91h-1zM555 166.5h1v10.8h-1zM431 135.25h1v3.84h-1zM588 152.19h1v5.55h-1zM395 127.14h1v8.97h-1zM563 141.38h1v8.28h-1zM552 149.82h1v4.66h-1zM596 152.45h1v9.94h-1zM606 170.86h1v8.33h-1zM413 153.04h1v5.4h-1zM573 141.32h1v10.28h-1zM446 127.05h1v10.97h-1zM536 132.89h1v11.68h-1zM416 142.9h1v4.95h-1zM530 142.23h1v9.87h-1zM536 151.88h1v2.87h-1zM529 125.14h1v10.39h-1zM579 148.16h1v10.76h-1zM432 145.3h1v9.26h-1zM438 122.09h1v4.08h-1zM633 121.76h1v8.35h-1zM638 153.91h1v2.59h-1zM507 155.9h1v6.03h-1zM632 159.3h1v10.72h-1zM419 163.37h1v6.15h-1zM425 121.22h1v6.68h-1zM581 156.6h1v3.99h-1zM582 143.52h1v2.41h-1zM582 168.77h1v11.93h-1zM414 164.12h1v10.26h-1zM510 152.43h1v7.51h-1zM578 168.71h1v3.76h-1zM625 154.76h1v7.85h-1zM555 122.78h1v3.48h-1zM627 129.52h1v10.12h-1zM636 131.62h1v9.43h-1zM517 166.08h1v9.9h-1zM462 123.24h1v11.87h-1zM440 167.76h1v9.82h-1z" fill="#9a30f0" opacity="0.1"/><path d="M630 165.57h1v8.68h-1zM422 142.22h1v3.43h-1zM431 164.02h1v7.98h-1zM606 130.36h1v4.44h-1zM428 150.8h1v11.76h-1zM410 154.82h1v2.35h-1zM447 169.51h1v2.81h-1zM480 171.55h1v10.28h-1zM477 149.45h1v7.37h-1zM495 126.46h1v5.81h-1zM610 123.85h1v10.7h-1zM528 170.31h1v11.31h-1zM531 135.28h1v5.49h-1zM470 152.39h1v5.93h-1zM601 153.93h1v6.99h-1zM459 135.47h1v2.48h-1zM629 136.43h1v8.2h-1zM504 162.5h1v8.12h-1zM429 149.04h1v2.94h-1zM411 135.12h1v4.19h-1zM452 133.27h1v9.89h-1zM563 164.48h1v10.25h-1zM558 133.73h1v3.99h-1zM583 142.08h1v8.33h-1zM620 139.66h1v10.67h-1zM405 144.36h1v5.79h-1zM455 153.63h1v10.38h-1zM578 131.56h1v11.52h-1zM492 142.18h1v5.28h-1zM527 153.22h1v3.74h-1zM606 153.12h1v7.38h-1zM638 139.75h1v4.99h-1zM459 130.82h1v4.66h-1zM549 163.34h1v9.1h-1zM439 131.34h1v4.44h-1zM586 171.87h1v2.38h-1zM527 140.71h1v2.92h-1zM629 169.12h1v9.54h-1zM530 146.23h1v4.04h-1zM397 148.2h1v11.89h-1zM595 135.82h1v9.03h-1zM532 155.61h1v4.62h-1zM527 136.24h1v11.68h-1zM563 171.25h1v10.22h-1zM476 132.7h1v2.39h-1zM570 150.84h1v4.92h-1zM428 147.06h1v3.48h-1zM597 117.06h1v10.43h-1zM601 165.22h1v10.61h-1zM604 122.67h1v11.29h-1zM398 163.14h1v11.2h-1zM601 169.61h1v7.28h-1zM454 162.83h1v4.68h-1zM469 119.29h1v5.53h-1zM535 155.16h1v4.3h-1zM565 157.95h1v10.03h-1zM624 133.13h1v7.11h-1zM437 157.08h1v3.64h-1zM492 155.12h1v10.98h-1zM496 166.51h1v3.86h-1zM501 145.91h1v9.81h-1zM524 135.09h1v7.61h-1zM496 126.14h1v9.8h-1zM516 144.01h1v8.33h-1zM420 143.75h1v4.15h-1zM403 156.12h1v10.85h-1zM479 155.26h1v2.51h-1z" fill="#6010f4" opacity="0.1"/><path d="M533 168.54h1v2.5h-1zM525 168.7h1v7.65h-1zM568 164.16h1v11.34h-1zM607 149.44h1v6.17h-1zM478 153.26h1v8.91h-1zM421 155.98h1v4.89h-1zM439 154.24h1v5.07h-1zM620 133.8h1v7.79h-1zM589 169.73h1v7h-1zM611 159.74h1v4.93h-1zM471 164.33h1v4.51h-1zM488 154.81h1v6.69h-1zM609 166.1h1v9.09h-1zM620 130.71h1v6.18h-1zM397 141.04h1v8.83h-1zM424 156.98h1v8.63h-1zM399 145.91h1v8.09h-1zM582 171.47h1v2.1h-1zM486 172.28h1v6.69h-1zM592 147.43h1v2.19h-1zM519 140.92h1v11.34h-1zM609 151.69h1v5.73h-1zM524 164.54h1v5.42h-1zM483 149.94h1v2.12h-1zM426 144.73h1v8.35h-1zM532 156.27h1v2.86h-1zM568 140.89h1v11.15h-1zM504 169.89h1v6.65h-1zM638 148.66h1v5.74h-1zM493 152.27h1v6.1h-1zM633 169.6h1v7.79h-1zM562 166h1v4.86h-1zM552 171.03h1v7.57h-1zM504 142.54h1v8.38h-1zM417 167.35h1v5.9h-1zM575 158.82h1v11.2h-1zM448 170.02h1v9.66h-1zM627 146.67h1v3.96h-1zM467 154.97h1v10.96h-1zM577 148.27h1v2.6h-1z" fill="#6010f4" opacity="0.15"/><path d="M522 148.88h1v6.13h-1zM468 149.02h1v9.5h-1zM432 149.89h1v2.66h-1zM643 159.14h1v5.39h-1zM591 157.49h1v3.89h-1zM495 135.5h1v3.92h-1zM531 149.49h1v10.37h-1zM402 165.17h1v9.38h-1zM557 144.72h1v5.26h-1zM563 165.33h1v11.49h-1zM606 158.93h1v2.47h-1zM581 157.86h1v9.84h-1zM610 172.11h1v4.09h-1zM553 169.35h1v7.09h-1zM555 144.21h1v7.23h-1zM477 170.38h1v3.53h-1zM533 169.67h1v3.93h-1zM525 166.11h1v9.66h-1zM439 135.46h1v4.16h-1zM638 156.61h1v8.14h-1zM530 147.73h1v9.47h-1zM427 170.21h1v2.2h-1zM632 157.69h1v4.3h-1zM600 153.94h1v2.45h-1zM541 160.91h1v2.64h-1zM501 165.57h1v6.43h-1zM429 163.46h1v8.19h-1zM597 160.65h1v10.49h-1zM464 160.09h1v3.59h-1zM642 172.76h1v5.77h-1zM611 155.32h1v7.75h-1zM531 135.73h1v7.79h-1z" fill="#7a20f0" opacity="0.15"/><path d="M421 139.65h1v10.58h-1zM502 147.99h1v8.88h-1zM607 142.76h1v9.92h-1zM442 153.48h1v7.7h-1zM518 157.1h1v8.54h-1zM548 144.67h1v3.85h-1zM447 157.94h1v3.1h-1zM506 148.47h1v6.74h-1zM454 161.33h1v9.64h-1zM463 146.2h1v11.26h-1zM420 169.93h1v9.79h-1zM604 139.04h1v2.27h-1zM600 144.64h1v9.58h-1zM531 138.56h1v3.24h-1zM425 154.28h1v5.46h-1zM525 160.83h1v5.19h-1zM637 166.32h1v8.75h-1zM470 164.27h1v2.2h-1zM452 157.78h1v8.35h-1zM504 151.5h1v3.15h-1zM634 170.79h1v5.27h-1zM399 161.52h1v7.41h-1zM437 146.12h1v5.62h-1zM540 163.58h1v4.11h-1zM516 160.02h1v9.07h-1zM459 163.94h1v2.21h-1zM416 174.37h1v3.37h-1zM504 160.01h1v11h-1zM478 146.35h1v9.37h-1zM406 148.61h1v11.48h-1zM435 152.54h1v10.92h-1zM446 165.23h1v3h-1zM581 152.94h1v9.05h-1zM572 172.94h1v6.62h-1zM417 168.84h1v4.58h-1zM400 173.03h1v6.03h-1zM434 148.97h1v3.63h-1zM398 155.49h1v3.72h-1zM440 163.52h1v7.89h-1zM532 170.32h1v7.87h-1zM570 134.39h1v10.02h-1zM548 146.47h1v3.99h-1zM490 133.23h1v11.87h-1zM407 153.65h1v9.11h-1zM623 165.79h1v3.61h-1zM474 152.47h1v10h-1zM398 149.59h1v6.95h-1z" fill="#9a30f0" opacity="0.15"/><path d="M401 162.33h1v9.15h-1zM471 154.4h1v8.59h-1zM601 166.78h1v7.98h-1zM429 156.62h1v4.63h-1zM529 152.68h1v6.42h-1zM480 175.86h1v2.02h-1zM546 168.38h1v3.08h-1zM481 170.08h1v9.95h-1zM558 153.9h1v7.09h-1zM642 166.44h1v9.73h-1zM561 157.72h1v3.65h-1zM461 155.3h1v7.6h-1z" fill="#9a30f0" opacity="0.2"/><path d="M635 159.12h1v6.65h-1zM512 173.5h1v2.32h-1zM551 158.6h1v9.25h-1zM579 154.02h1v3.22h-1zM639 153.04h1v2.52h-1zM511 157.93h1v4.88h-1zM477 159.72h1v2.78h-1zM421 170.36h1v6.06h-1zM478 158.67h1v8.36h-1zM444 155.25h1v10.62h-1zM588 158.09h1v9.62h-1zM433 164.65h1v5.08h-1zM469 173.99h1v2.64h-1zM590 169.13h1v5.28h-1zM629 152.09h1v9.1h-1zM482 170.82h1v5.54h-1zM532 172.5h1v4.77h-1z" fill="#7a20f0" opacity="0.2"/><path d="M420 159.38h1v9.23h-1zM593 169.81h1v2.94h-1zM426 171.04h1v2.54h-1zM480 165.38h1v5.15h-1zM581 161.43h1v2.04h-1zM541 174.2h1v5.4h-1zM471 149.72h1v7.97h-1zM419 165.99h1v9.55h-1zM474 173.29h1v7.9h-1zM533 163.45h1v4.7h-1zM583 156.34h1v3.85h-1zM462 154.28h1v7.71h-1zM604 153.91h1v10.64h-1zM424 158.15h1v3.96h-1zM499 157.84h1v9.5h-1zM561 171.15h1v9.77h-1zM537 167.2h1v5.99h-1z" fill="#6010f4" opacity="0.2"/><path d="M523 167.4h1v3.71h-1zM425 169.4h1v11.96h-1zM461 168.89h1v10.25h-1zM621 170.89h1v11.01h-1zM560 174.05h1v4.93h-1zM581 169.29h1v9.46h-1z" fill="#7a20f0" opacity="0.25"/><path d="M505 170.8h1v10.33h-1zM523 169.63h1v8.71h-1zM499 169.47h1v11.02h-1zM532 167.74h1v4.76h-1z" fill="#6010f4" opacity="0.25"/><path d="M499 169.88h1v3.59h-1z" fill="#9a30f0" opacity="0.25"/><path d="M394 174.55h1v7.74h-1zM413 176.28h1v5.57h-1zM431 168.16h1v13.53h-1zM433 174.12h1v6.9h-1zM439 179.94h1v2.32h-1zM471 170.75h1v12.13h-1zM477 166.07h1v16.21h-1zM481 165.19h1v17.17h-1zM488 166.64h1v14.61h-1zM492 170.08h1v13.03h-1zM494 177.34h1v4.21h-1zM502 169.69h1v11.44h-1zM504 169.82h1v10.74h-1zM506 178.81h1v3.81h-1zM512 168.03h1v14.53h-1zM513 173.43h1v8.18h-1zM526 173.7h1v8.62h-1zM534 169.68h1v12.12h-1zM542 167.46h1v14.19h-1zM558 175.94h1v6.83h-1zM559 172.88h1v9.24h-1zM564 172.84h1v8.35h-1zM568 175.83h1v5.87h-1zM592 173.6h1v8.07h-1zM597 165.98h1v17.37h-1zM600 173.19h1v8.43h-1zM603 172.2h1v9.12h-1zM620 172.71h1v8.63h-1zM624 175.86h1v5.92h-1zM625 173.4h1v7.42h-1zM634 176.73h1v4.81h-1zM644 176.76h1v5.77h-1z" fill="#a42cf6" opacity="0.25"/><path d="M404 179.16h1v3h-1zM423 172.9h1v8.33h-1zM429 173.22h1v8h-1zM430 172.72h1v8.75h-1zM440 179.42h1v1.85h-1zM452 179.34h1v3.3h-1zM462 181.17h1v1h-1zM479 173.68h1v8.1h-1zM483 174.02h1v8.64h-1zM496 178.76h1v3.36h-1zM502 175.41h1v5.72h-1zM503 178.86h1v2.96h-1zM513 177.51h1v4.09h-1zM515 177.12h1v4.93h-1zM518 176.41h1v5.87h-1zM520 173.68h1v6.89h-1zM537 177.7h1v3.39h-1zM556 173.1h1v8.62h-1zM558 179.36h1v3.42h-1zM560 178.82h1v2.59h-1zM565 178.14h1v3.34h-1zM577 177.84h1v4.33h-1zM579 177.41h1v3.63h-1zM580 180.27h1v2.46h-1zM584 178.74h1v2.94h-1zM598 175.71h1v6.46h-1zM604 171.46h1v10.42h-1zM613 172.11h1v9.51h-1zM617 175.92h1v6.65h-1zM625 177.11h1v3.71h-1zM639 175.57h1v7.2h-1zM644 179.64h1v2.88h-1z" fill="#d83cf6" opacity="0.25"/><path d="M395 177.43h1v4.12h-1zM405 178.69h1v3.2h-1zM407 179.57h1v2.01h-1zM417 176.23h1v6.25h-1zM420 178.32h1v3.36h-1zM424 177.86h1v4.53h-1zM427 173.68h1v8.27h-1zM432 171.98h1v9.52h-1zM437 179.58h1v2.1h-1zM442 176.06h1v5.22h-1zM445 174.25h1v7.63h-1zM466 179.61h1v2.13h-1zM469 173.87h1v8.5h-1zM473 179.7h1v2.31h-1zM486 173.89h1v7.98h-1zM498 176.85h1v4.1h-1zM505 178.42h1v3.88h-1zM509 176.97h1v4.29h-1zM523 172.43h1v9.43h-1zM526 178.01h1v4.31h-1zM532 179.52h1v1.61h-1zM536 174.92h1v5.98h-1zM545 179.21h1v2.49h-1zM546 176.16h1v5.13h-1zM549 178.11h1v4.07h-1zM561 176.79h1v5.85h-1zM563 172.93h1v9.36h-1zM567 180.1h1v2.11h-1zM573 179.21h1v2.64h-1zM574 178.33h1v3.83h-1zM575 173.7h1v7.42h-1zM576 177.69h1v4.57h-1zM581 180h1v2.25h-1zM591 179.95h1v2.07h-1zM592 177.63h1v4.04h-1zM593 175.77h1v6.29h-1zM594 171.94h1v9.48h-1zM596 170.67h1v11.15h-1zM600 177.4h1v4.21h-1zM605 176.12h1v6.45h-1zM610 174.17h1v7.45h-1zM618 177.33h1v4.68h-1zM628 179.23h1v2.88h-1zM632 176.63h1v4.78h-1zM640 177.2h1v4.73h-1zM643 175.32h1v6.48h-1z" fill="#d83cf6" opacity="0.3"/><path d="M402 172.79h1v9.12h-1zM404 176.17h1v5.99h-1zM408 178.44h1v3.32h-1zM417 169.98h1v12.51h-1zM419 170.81h1v10.79h-1zM420 174.96h1v6.71h-1zM421 171.81h1v11.05h-1zM423 164.56h1v16.66h-1zM424 173.33h1v9.05h-1zM434 174.84h1v7.49h-1zM437 177.48h1v4.21h-1zM438 177.51h1v4.31h-1zM444 174.21h1v7.43h-1zM447 170.52h1v11.32h-1zM457 175.83h1v5.75h-1zM461 179.82h1v2h-1zM472 171.08h1v10.37h-1zM474 175.25h1v7.1h-1zM480 164.51h1v17.23h-1zM482 171h1v10.83h-1zM486 165.9h1v15.97h-1zM491 169.58h1v13.43h-1zM493 177.19h1v5.45h-1zM499 174.83h1v6.37h-1zM505 174.54h1v7.76h-1zM516 175.88h1v7.2h-1zM519 172.18h1v9.34h-1zM530 179.57h1v2h-1zM533 172.24h1v10.15h-1zM538 174.64h1v6.55h-1zM539 178.9h1v3.56h-1zM543 169.92h1v12.2h-1zM545 176.72h1v4.98h-1zM550 173.78h1v8.25h-1zM553 171.55h1v9.57h-1zM561 170.94h1v11.69h-1zM565 174.8h1v6.69h-1zM566 177.55h1v3.77h-1zM581 177.75h1v4.49h-1zM583 171.45h1v10.87h-1zM585 175.85h1v6.34h-1zM593 169.48h1v12.58h-1zM595 167.45h1v14.38h-1zM596 159.52h1v22.29h-1zM599 172.16h1v9.9h-1zM604 161.04h1v20.84h-1zM606 163.87h1v18.35h-1zM608 176.65h1v4.85h-1zM609 175.84h1v6.27h-1zM610 166.72h1v14.9h-1zM613 162.61h1v19.02h-1zM614 169.35h1v12.64h-1zM638 168.35h1v13.05h-1z" fill="#a42cf6" opacity="0.3"/><path d="M395 173.31h1v8.25h-1zM397 163.27h1v18.53h-1zM400 176.05h1v5.82h-1zM411 176.27h1v6.54h-1zM414 175.61h1v6.23h-1zM415 176.82h1v4.73h-1zM416 167.47h1v14.06h-1zM418 163.66h1v18.48h-1zM430 163.97h1v17.49h-1zM435 174.77h1v7.36h-1zM449 165.01h1v16.44h-1zM450 164.05h1v17.29h-1zM458 176.62h1v5.18h-1zM459 180.27h1v2h-1zM466 177.49h1v4.25h-1zM468 174.24h1v7.7h-1zM470 171.68h1v10.54h-1zM473 177.39h1v4.62h-1zM476 167.29h1v14.47h-1zM479 165.58h1v16.21h-1zM484 170.89h1v11.58h-1zM485 160.28h1v21h-1zM489 166.41h1v15.7h-1zM495 177.99h1v3.97h-1zM496 175.4h1v6.72h-1zM497 175.18h1v6.96h-1zM501 168.18h1v13.76h-1zM507 179.19h1v3.08h-1zM508 176.2h1v5.51h-1zM510 174.65h1v7.28h-1zM511 167.82h1v13.61h-1zM515 172.18h1v9.86h-1zM522 168.88h1v12.46h-1zM523 163h1v18.86h-1zM524 165.65h1v17h-1zM529 178.82h1v3.32h-1zM541 176.49h1v5.67h-1zM544 170.82h1v10.18h-1zM546 171.03h1v10.27h-1zM547 175.66h1v6.02h-1zM570 170.46h1v11.18h-1zM577 173.51h1v8.66h-1zM578 170.83h1v11.51h-1zM582 175.17h1v7.89h-1zM587 181.45h1v2h-1zM594 162.45h1v18.97h-1zM602 160.25h1v21.88h-1zM611 169.97h1v11.21h-1zM612 170.79h1v10.88h-1zM617 169.27h1v13.3h-1zM618 172.65h1v9.36h-1zM626 177.13h1v4.28h-1zM637 176.01h1v5.81h-1zM641 170.78h1v11.45h-1z" fill="#a42cf6" opacity="0.35"/><path d="M399 173.32h1v8.49h-1zM401 176.35h1v5h-1zM413 179.07h1v2.78h-1zM422 175.52h1v5.79h-1zM428 171.45h1v10.52h-1zM435 178.45h1v3.68h-1zM446 174.86h1v7.44h-1zM450 172.69h1v8.64h-1zM451 177.5h1v4.57h-1zM457 178.71h1v2.87h-1zM468 178.09h1v3.85h-1zM470 176.95h1v5.27h-1zM475 177.72h1v4.62h-1zM476 174.52h1v7.23h-1zM478 174.13h1v7.44h-1zM487 178.21h1v3.29h-1zM489 174.26h1v7.85h-1zM497 178.66h1v3.48h-1zM500 178.6h1v3.15h-1zM501 175.06h1v6.88h-1zM504 175.19h1v5.37h-1zM506 180.71h1v1.9h-1zM507 180.73h1v1.54h-1zM508 178.95h1v2.76h-1zM510 178.29h1v3.64h-1zM529 180.48h1v1.66h-1zM539 180.68h1v1.78h-1zM542 174.56h1v7.1h-1zM550 177.91h1v4.13h-1zM582 179.11h1v3.94h-1zM583 176.88h1v5.43h-1zM595 174.64h1v7.19h-1zM602 171.19h1v10.94h-1zM603 176.76h1v4.56h-1zM607 179.04h1v2.7h-1zM608 179.07h1v2.43h-1zM611 175.58h1v5.61h-1zM616 172.47h1v8.09h-1zM620 177.02h1v4.32h-1zM624 178.81h1v2.96h-1zM626 179.27h1v2.14h-1zM636 178.02h1v3.05h-1zM637 178.91h1v2.9h-1z" fill="#d83cf6" opacity="0.35"/><path d="M396 178.67h1v4.16h-1zM397 172.53h1v9.27h-1zM410 177.5h1v4.29h-1zM411 179.54h1v3.27h-1zM414 178.72h1v3.12h-1zM431 174.92h1v6.77h-1zM438 179.67h1v2.16h-1zM439 181.1h1v1.16h-1zM443 177.29h1v4.64h-1zM444 177.93h1v3.72h-1zM447 176.18h1v5.66h-1zM449 173.23h1v8.22h-1zM453 177.64h1v3.31h-1zM455 178.28h1v3.19h-1zM459 181.27h1v1h-1zM460 180.98h1v1h-1zM464 179.64h1v1.85h-1zM467 179.05h1v2.18h-1zM471 176.82h1v6.07h-1zM472 176.26h1v5.18h-1zM474 178.8h1v3.55h-1zM477 174.17h1v8.11h-1zM491 176.3h1v6.72h-1zM512 175.29h1v7.27h-1zM516 179.48h1v3.6h-1zM522 175.11h1v6.23h-1zM524 174.15h1v8.5h-1zM525 175.71h1v5.37h-1zM527 179.29h1v2.76h-1zM528 180.49h1v1.8h-1zM533 177.32h1v5.08h-1zM534 175.74h1v6.06h-1zM535 178h1v3.37h-1zM540 179.28h1v3.33h-1zM543 176.02h1v6.1h-1zM552 171.14h1v10.86h-1zM555 177.21h1v4.24h-1zM557 177.68h1v5.08h-1zM562 175.1h1v7.08h-1zM569 177.83h1v4.15h-1zM587 182.45h1v1h-1zM588 180.28h1v1h-1zM606 173.04h1v9.17h-1zM609 178.97h1v3.13h-1zM619 176.14h1v5.84h-1zM623 178.3h1v3.43h-1zM627 177.42h1v4.79h-1zM631 177.37h1v4.29h-1zM641 176.5h1v5.73h-1z" fill="#d83cf6" opacity="0.4"/><path d="M398 160.3h1v22.37h-1zM399 164.83h1v16.98h-1zM401 171.36h1v10h-1zM403 175.83h1v5.85h-1zM412 177.51h1v4.34h-1zM422 169.73h1v11.57h-1zM428 160.93h1v21.03h-1zM429 165.22h1v15.99h-1zM442 170.84h1v10.44h-1zM448 163.78h1v17.64h-1zM451 172.93h1v9.15h-1zM453 174.34h1v6.62h-1zM454 177.67h1v4.51h-1zM455 175.09h1v6.38h-1zM462 180.17h1v2h-1zM464 177.8h1v3.7h-1zM465 178.1h1v3.54h-1zM467 176.86h1v4.36h-1zM469 165.36h1v17.01h-1zM478 166.7h1v14.87h-1zM487 174.92h1v6.59h-1zM514 171.79h1v9.43h-1zM517 172.14h1v9.87h-1zM520 166.79h1v13.77h-1zM521 172.15h1v10.24h-1zM528 178.69h1v3.6h-1zM531 179.84h1v2h-1zM532 177.92h1v3.21h-1zM537 174.32h1v6.78h-1zM540 175.95h1v6.66h-1zM548 167.24h1v13.68h-1zM549 174.04h1v8.15h-1zM552 160.28h1v21.72h-1zM560 176.22h1v5.18h-1zM567 177.98h1v4.22h-1zM569 173.68h1v8.31h-1zM572 174h1v8.17h-1zM574 174.5h1v7.66h-1zM576 173.12h1v9.15h-1zM586 180.13h1v2h-1zM590 179.37h1v2h-1zM591 177.89h1v4.13h-1zM605 169.66h1v12.91h-1zM621 173.62h1v9.06h-1zM622 170.59h1v11.79h-1zM623 174.87h1v6.85h-1zM628 176.35h1v5.77h-1zM632 171.85h1v9.56h-1zM633 177.26h1v4.59h-1zM635 178.14h1v3.88h-1z" fill="#a42cf6" opacity="0.4"/><path d="M394 178.42h1v3.87h-1zM400 178.95h1v2.91h-1zM402 177.34h1v4.56h-1zM403 178.76h1v2.92h-1zM406 179.61h1v2.4h-1zM408 180.1h1v1.66h-1zM409 178.99h1v3.38h-1zM415 179.18h1v2.36h-1zM416 174.51h1v7.03h-1zM419 176.2h1v5.39h-1zM421 177.33h1v5.52h-1zM425 176.82h1v5.47h-1zM426 175.99h1v5.92h-1zM433 177.57h1v3.45h-1zM448 172.6h1v8.82h-1zM454 179.93h1v2.25h-1zM456 176.46h1v5.61h-1zM463 179.94h1v1.48h-1zM480 173.12h1v8.62h-1zM481 173.78h1v8.59h-1zM484 176.68h1v5.79h-1zM488 173.94h1v7.3h-1zM493 179.92h1v2.73h-1zM494 179.45h1v2.1h-1zM495 179.97h1v1.98h-1zM511 174.63h1v6.81h-1zM514 176.5h1v4.71h-1zM517 177.07h1v4.93h-1zM519 176.85h1v4.67h-1zM530 180.57h1v1h-1zM531 180.84h1v1h-1zM538 177.91h1v3.28h-1zM541 179.32h1v2.84h-1zM547 178.67h1v3.01h-1zM551 171.81h1v10.46h-1zM559 177.5h1v4.62h-1zM570 176.05h1v5.59h-1zM571 175.12h1v5.69h-1zM578 176.58h1v5.76h-1zM589 180.55h1v1h-1zM590 180.37h1v1h-1zM601 173.76h1v7.62h-1zM615 173.93h1v8.83h-1zM621 178.15h1v4.53h-1zM622 176.48h1v5.89h-1zM629 178.77h1v3.73h-1zM633 179.55h1v2.29h-1zM634 179.13h1v2.41h-1zM638 174.87h1v6.53h-1z" fill="#d83cf6" opacity="0.45"/><path d="M405 175.49h1v6.4h-1zM406 177.21h1v4.8h-1zM407 177.56h1v4.02h-1zM409 175.61h1v6.77h-1zM410 173.21h1v8.58h-1zM426 170.07h1v11.85h-1zM427 165.41h1v16.54h-1zM432 162.46h1v19.05h-1zM436 172.23h1v9.76h-1zM440 177.57h1v3.7h-1zM441 175.51h1v5.93h-1zM443 172.65h1v9.29h-1zM445 166.63h1v15.26h-1zM446 167.42h1v14.88h-1zM452 176.05h1v6.6h-1zM460 179.98h1v2h-1zM463 178.46h1v2.96h-1zM475 173.1h1v9.25h-1zM483 165.38h1v17.28h-1zM498 172.75h1v8.2h-1zM503 175.91h1v5.91h-1zM527 176.53h1v5.52h-1zM535 174.64h1v6.73h-1zM551 161.35h1v20.93h-1zM554 166.42h1v14.87h-1zM556 164.47h1v17.24h-1zM563 163.57h1v18.71h-1zM571 169.42h1v11.39h-1zM573 176.57h1v5.28h-1zM575 166.28h1v14.84h-1zM579 173.78h1v7.26h-1zM580 177.82h1v4.92h-1zM588 179.28h1v2h-1zM589 179.55h1v2h-1zM607 176.33h1v5.41h-1zM615 165.1h1v17.66h-1zM616 164.39h1v16.17h-1zM619 170.31h1v11.68h-1zM627 172.64h1v9.58h-1zM629 175.03h1v7.47h-1zM630 173.86h1v7.84h-1zM631 173.08h1v8.58h-1zM636 174.97h1v6.11h-1z" fill="#a42cf6" opacity="0.45"/><path d="M396 174.52h1v8.31h-1zM425 171.35h1v10.94h-1zM456 170.85h1v11.21h-1zM490 172.83h1v8.36h-1zM500 175.45h1v6.31h-1zM509 172.68h1v8.59h-1zM518 170.54h1v11.74h-1zM525 170.34h1v10.75h-1zM536 168.93h1v11.97h-1zM555 172.97h1v8.47h-1zM557 172.6h1v10.15h-1zM562 168.01h1v14.17h-1zM584 175.81h1v5.87h-1zM598 169.25h1v12.92h-1zM601 166.15h1v15.23h-1zM639 168.36h1v14.41h-1zM640 172.46h1v9.47h-1zM642 172.53h1v9.52h-1zM643 168.84h1v12.96h-1z" fill="#a42cf6" opacity="0.5"/><path d="M398 171.49h1v11.18h-1zM412 179.68h1v2.17h-1zM418 172.9h1v9.24h-1zM434 178.58h1v3.74h-1zM436 177.11h1v4.88h-1zM441 178.47h1v2.97h-1zM458 179.21h1v2.59h-1zM461 180.82h1v1h-1zM465 179.87h1v1.77h-1zM482 176.41h1v5.41h-1zM485 170.78h1v10.5h-1zM490 177.01h1v4.18h-1zM492 176.6h1v6.52h-1zM499 178.01h1v3.18h-1zM521 177.27h1v5.12h-1zM544 175.9h1v5.09h-1zM548 174.08h1v6.84h-1zM553 176.34h1v4.79h-1zM554 173.86h1v7.44h-1zM564 177.02h1v4.18h-1zM566 179.43h1v1.88h-1zM568 178.76h1v2.93h-1zM572 178.08h1v4.08h-1zM585 179.02h1v3.17h-1zM586 181.13h1v1h-1zM597 174.66h1v8.68h-1zM599 177.11h1v4.95h-1zM612 176.22h1v5.44h-1zM614 175.66h1v6.32h-1zM630 177.79h1v3.92h-1zM635 180.08h1v1.94h-1zM642 177.29h1v4.76h-1z" fill="#d83cf6" opacity="0.5"/><path d="M427 175.67h1v6.27h-1zM445 174.62h1v7.27h-1zM451 176.83h1v5.25h-1zM459 181.27h1v1h-1zM461 180.82h1v1h-1zM464 178.9h1v2.59h-1zM469 175.89h1v6.48h-1zM498 178.28h1v2.67h-1zM501 179.15h1v2.79h-1zM514 177.78h1v3.44h-1zM544 176.38h1v4.62h-1zM552 174.32h1v7.68h-1zM559 179.15h1v2.97h-1zM563 178.26h1v4.03h-1zM569 177.56h1v4.43h-1zM572 180.12h1v2.05h-1zM577 177.09h1v5.07h-1zM594 176.61h1v4.81h-1zM603 177.31h1v4.01h-1zM637 178.89h1v2.93h-1zM644 178.78h1v3.74h-1z" fill="#ff48fc" opacity="0.6"/><path d="M409 179.81h1v2.56h-1zM414 179.42h1v2.43h-1zM423 177.23h1v4h-1zM431 177.74h1v3.94h-1zM432 172.65h1v8.85h-1zM433 178.17h1v2.84h-1zM439 180.97h1v1.29h-1zM441 178.95h1v2.49h-1zM443 178.37h1v3.56h-1zM463 179.92h1v1.5h-1zM465 179.76h1v1.88h-1zM473 179.54h1v2.48h-1zM478 174.8h1v6.77h-1zM495 180.16h1v1.8h-1zM499 177.16h1v4.04h-1zM500 178.87h1v2.89h-1zM524 176.73h1v5.92h-1zM525 176.57h1v4.52h-1zM535 175.39h1v5.98h-1zM536 176.6h1v4.31h-1zM537 177.43h1v3.66h-1zM539 180.57h1v1.89h-1zM540 180.81h1v1.8h-1zM541 178.23h1v3.93h-1zM555 177.96h1v3.48h-1zM578 176.01h1v6.33h-1zM583 178.72h1v3.59h-1zM587 182.45h1v1h-1zM588 180.28h1v1h-1zM591 180.49h1v1.53h-1zM599 178.73h1v3.32h-1zM607 177.06h1v4.69h-1zM618 179.39h1v2.62h-1zM624 179.7h1v2.08h-1zM625 178.66h1v2.17h-1zM626 178.14h1v3.27h-1zM641 177.85h1v4.38h-1z" fill="#ff48fc" opacity="0.65"/><path d="M396 179.59h1v3.24h-1zM405 179.42h1v2.47h-1zM406 179.93h1v2.09h-1zM407 179.78h1v1.8h-1zM408 179.97h1v1.79h-1zM413 179.4h1v2.45h-1zM419 176.94h1v4.66h-1zM422 175.5h1v5.81h-1zM446 173.85h1v8.45h-1zM472 175.6h1v5.84h-1zM476 177.91h1v3.85h-1zM483 175.5h1v7.16h-1zM484 175.19h1v7.28h-1zM485 176.77h1v4.51h-1zM488 177.18h1v4.07h-1zM489 178.31h1v3.8h-1zM492 179.43h1v3.69h-1zM497 179.5h1v2.64h-1zM526 177.52h1v4.81h-1zM527 179.56h1v2.5h-1zM561 178.46h1v4.18h-1zM576 177.37h1v4.89h-1zM580 180.5h1v2.24h-1zM581 179.11h1v3.13h-1zM582 180.72h1v2.34h-1zM586 181.13h1v1h-1zM596 178.34h1v3.47h-1zM598 179.71h1v2.46h-1zM606 175.96h1v6.25h-1zM614 179.21h1v2.77h-1zM620 177.38h1v3.96h-1z" fill="#ff48fc" opacity="0.7"/><path d="M417 178.4h1v4.08h-1zM418 178.74h1v3.39h-1zM420 177.39h1v4.29h-1zM425 176.7h1v5.59h-1zM426 177.69h1v4.23h-1zM428 176.55h1v5.42h-1zM437 177.96h1v3.73h-1zM442 175.09h1v6.19h-1zM450 175.86h1v5.48h-1zM453 177.76h1v3.2h-1zM455 176.56h1v4.91h-1zM462 181.17h1v1h-1zM468 177.86h1v4.08h-1zM479 176.25h1v5.54h-1zM494 178.7h1v2.85h-1zM506 181.01h1v1.61h-1zM513 178.27h1v3.33h-1zM520 173.09h1v7.48h-1zM521 174.95h1v7.44h-1zM532 179.2h1v1.93h-1zM545 179.69h1v2.01h-1zM548 177.37h1v3.55h-1zM554 173.13h1v8.17h-1zM556 177.11h1v4.61h-1zM558 179.49h1v3.29h-1zM560 176.73h1v4.67h-1zM566 179.46h1v1.85h-1zM573 179.71h1v2.14h-1zM612 173.91h1v7.76h-1zM632 178.04h1v3.37h-1zM635 179.06h1v2.96h-1zM640 177.58h1v4.35h-1z" fill="#ff48fc" opacity="0.75"/><path d="M394 175.74h1v6.55h-1zM399 175.43h1v6.38h-1zM402 178.23h1v3.67h-1zM404 179.39h1v2.77h-1zM410 179.27h1v2.52h-1zM411 181.03h1v1.78h-1zM434 176.73h1v5.6h-1zM435 177.21h1v4.92h-1zM438 179.86h1v1.97h-1zM447 176.3h1v5.54h-1zM449 173.78h1v7.67h-1zM466 180.33h1v1.41h-1zM474 179.21h1v3.14h-1zM477 174.75h1v7.53h-1zM490 177.48h1v3.7h-1zM496 180.46h1v1.66h-1zM502 177.29h1v3.85h-1zM505 179.37h1v2.94h-1zM508 179.72h1v1.99h-1zM511 176.28h1v5.15h-1zM528 180.35h1v1.93h-1zM533 180.4h1v1.99h-1zM534 175.52h1v6.28h-1zM542 177.01h1v4.64h-1zM543 178.55h1v3.57h-1zM551 172.88h1v9.4h-1zM553 174.16h1v6.96h-1zM562 174.52h1v7.66h-1zM564 178.55h1v2.64h-1zM574 179.31h1v2.85h-1zM575 174.5h1v6.62h-1zM593 177.81h1v4.24h-1zM605 173.64h1v8.92h-1zM608 177.66h1v3.84h-1zM609 179.43h1v2.67h-1zM610 175.79h1v5.82h-1zM616 175.04h1v5.52h-1zM622 177.53h1v4.85h-1zM636 179.22h1v1.86h-1zM642 176.76h1v5.29h-1z" fill="#ff48fc" opacity="0.8"/><path d="M395 176.1h1v5.45h-1zM397 173.3h1v8.5h-1zM436 178.21h1v3.78h-1zM440 179.71h1v1.55h-1zM444 172.96h1v8.69h-1zM448 176.59h1v4.82h-1zM458 180.33h1v1.47h-1zM471 178.51h1v4.38h-1zM475 177.48h1v4.86h-1zM482 177.49h1v4.34h-1zM486 174.45h1v7.43h-1zM487 178.09h1v3.41h-1zM491 178.37h1v4.64h-1zM509 178.71h1v2.56h-1zM517 177.18h1v4.82h-1zM518 176.41h1v5.87h-1zM519 177.52h1v3.99h-1zM523 174.38h1v7.48h-1zM529 180.62h1v1.52h-1zM530 180.57h1v1h-1zM538 178.86h1v2.33h-1zM550 174.39h1v7.64h-1zM557 179.63h1v3.13h-1zM567 178.54h1v3.67h-1zM568 179.21h1v2.49h-1zM571 175.87h1v4.94h-1zM579 177.86h1v3.18h-1zM585 180.58h1v1.61h-1zM590 180.37h1v1h-1zM592 178h1v3.67h-1zM595 178.39h1v3.44h-1zM600 176.7h1v4.91h-1zM604 174.08h1v7.8h-1zM611 174.85h1v6.34h-1zM615 180.06h1v2.71h-1zM619 178.57h1v3.41h-1zM621 177.58h1v5.1h-1zM623 177.51h1v4.21h-1zM627 178.8h1v3.42h-1zM628 178.25h1v3.87h-1zM630 177.2h1v4.51h-1zM634 178.67h1v2.87h-1zM643 176.1h1v5.7h-1z" fill="#ff48fc" opacity="0.85"/><path d="M400 177.81h1v4.05h-1zM401 178.48h1v2.88h-1zM403 179.04h1v2.64h-1zM415 179.48h1v2.06h-1zM416 178.61h1v2.92h-1zM424 179.06h1v3.32h-1zM452 179.15h1v3.49h-1zM454 179.59h1v2.6h-1zM456 178.61h1v3.46h-1zM457 176.7h1v4.88h-1zM460 180.98h1v1h-1zM470 177.21h1v5.02h-1zM480 176.83h1v4.9h-1zM507 180.81h1v1.46h-1zM531 180.84h1v1h-1zM546 176.64h1v4.66h-1zM547 178.23h1v3.45h-1zM549 176.05h1v6.13h-1zM565 177.76h1v3.73h-1zM570 177.97h1v3.67h-1zM584 176.66h1v5.02h-1zM597 176.63h1v6.71h-1zM613 178.01h1v3.61h-1zM617 179.33h1v3.24h-1zM631 176.75h1v4.91h-1zM633 178.75h1v3.1h-1zM638 179.19h1v2.21h-1zM639 179.94h1v2.83h-1z" fill="#ff48fc" opacity="0.9"/><path d="M398 177.34h1v5.34h-1zM412 179.46h1v2.39h-1zM421 176.64h1v6.22h-1zM429 177.48h1v3.73h-1zM430 172.4h1v9.06h-1zM467 178.73h1v2.5h-1zM481 177.65h1v4.72h-1zM493 178.07h1v4.58h-1zM503 175.95h1v5.87h-1zM504 175.74h1v4.82h-1zM510 177.6h1v4.33h-1zM512 176.46h1v6.1h-1zM515 178.05h1v4h-1zM516 180.56h1v2.51h-1zM522 173.94h1v7.4h-1zM589 180.55h1v1h-1zM601 176.4h1v4.98h-1zM602 176.55h1v5.58h-1zM629 178.44h1v4.06h-1z" fill="#ff48fc" opacity="0.95"/><path d="M394 182.29h1v6.11h-1zM418 182.14h1v6.26h-1zM419 181.6h1v6.8h-1zM420 181.68h1v6.72h-1zM421 182.86h1v5.54h-1zM431 181.69h1v6.71h-1zM441 181.44h1v6.96h-1zM445 181.88h1v6.52h-1zM451 182.07h1v6.33h-1zM470 182.22h1v6.18h-1zM472 181.44h1v6.96h-1zM477 182.28h1v6.12h-1zM478 181.57h1v6.83h-1zM481 182.37h1v6.03h-1zM484 182.47h1v5.93h-1zM487 181.51h1v6.89h-1zM493 182.65h1v5.75h-1zM498 180.95h1v7.45h-1zM502 181.14h1v7.26h-1zM503 181.82h1v6.58h-1zM504 180.55h1v7.85h-1zM513 181.6h1v6.8h-1zM517 182h1v6.4h-1zM519 181.52h1v6.88h-1zM520 180.56h1v7.84h-1zM523 181.86h1v6.54h-1zM524 182.65h1v5.75h-1zM540 182.61h1v5.79h-1zM545 181.7h1v6.7h-1zM551 182.27h1v6.13h-1zM556 181.72h1v6.68h-1zM562 182.18h1v6.22h-1zM570 181.65h1v6.75h-1zM572 182.17h1v6.23h-1zM575 181.12h1v7.28h-1zM577 182.17h1v6.23h-1zM578 182.34h1v6.06h-1zM582 183.06h1v5.34h-1zM592 181.67h1v6.73h-1zM595 181.83h1v6.57h-1zM596 181.81h1v6.59h-1zM601 181.38h1v7.02h-1zM612 181.66h1v6.74h-1zM622 182.38h1v6.02h-1zM639 182.77h1v5.63h-1zM642 182.05h1v6.35h-1zM643 181.8h1v6.6h-1z" fill="#ff48f0"/><path d="M395 181.55h1v6.85h-1zM410 181.79h1v6.61h-1zM413 181.85h1v6.55h-1zM417 182.49h1v5.91h-1zM423 181.23h1v7.17h-1zM426 181.92h1v6.48h-1zM430 181.46h1v6.94h-1zM433 181.02h1v7.38h-1zM443 181.93h1v6.47h-1zM449 181.45h1v6.95h-1zM455 181.47h1v6.93h-1zM471 182.89h1v5.51h-1zM473 182.02h1v6.38h-1zM488 181.24h1v7.16h-1zM491 183.01h1v5.39h-1zM515 182.05h1v6.35h-1zM516 183.08h1v5.32h-1zM521 182.39h1v6.01h-1zM534 181.8h1v6.6h-1zM538 181.19h1v7.21h-1zM541 182.16h1v6.24h-1zM544 180.99h1v7.41h-1zM546 181.29h1v7.11h-1zM549 182.18h1v6.22h-1zM552 182h1v6.4h-1zM560 181.41h1v6.99h-1zM566 181.32h1v7.08h-1zM571 180.81h1v7.59h-1zM573 181.85h1v6.55h-1zM580 182.73h1v5.67h-1zM593 182.06h1v6.34h-1zM597 183.34h1v5.06h-1zM598 182.18h1v6.22h-1zM599 182.05h1v6.35h-1zM603 181.32h1v7.08h-1zM605 182.57h1v5.83h-1zM607 181.74h1v6.66h-1zM610 181.61h1v6.79h-1zM615 182.77h1v5.63h-1zM617 182.57h1v5.83h-1zM618 182.02h1v6.38h-1zM620 181.34h1v7.06h-1zM624 181.77h1v6.63h-1zM632 181.41h1v6.99h-1zM644 182.52h1v5.88h-1z" fill="#f038f0"/><path d="M396 182.83h1v5.57h-1zM402 181.9h1v6.5h-1zM403 181.68h1v6.72h-1zM414 181.84h1v6.56h-1zM428 181.96h1v6.44h-1zM429 181.21h1v7.19h-1zM437 181.69h1v6.71h-1zM444 181.65h1v6.75h-1zM446 182.3h1v6.1h-1zM447 181.84h1v6.56h-1zM450 181.34h1v7.06h-1zM452 182.64h1v5.76h-1zM454 182.18h1v6.22h-1zM456 182.07h1v6.33h-1zM468 181.95h1v6.45h-1zM474 182.35h1v6.05h-1zM483 182.66h1v5.74h-1zM485 181.28h1v7.12h-1zM486 181.87h1v6.53h-1zM489 182.12h1v6.28h-1zM490 181.19h1v7.21h-1zM492 183.11h1v5.29h-1zM494 181.55h1v6.85h-1zM497 182.14h1v6.26h-1zM500 181.76h1v6.64h-1zM501 181.94h1v6.46h-1zM505 182.3h1v6.1h-1zM509 181.26h1v7.14h-1zM510 181.93h1v6.47h-1zM512 182.56h1v5.84h-1zM522 181.34h1v7.06h-1zM526 182.32h1v6.08h-1zM527 182.05h1v6.35h-1zM533 182.4h1v6h-1zM535 181.37h1v7.03h-1zM542 181.65h1v6.75h-1zM550 182.03h1v6.37h-1zM557 182.75h1v5.65h-1zM558 182.77h1v5.63h-1zM559 182.12h1v6.28h-1zM564 181.2h1v7.2h-1zM567 182.21h1v6.19h-1zM569 181.99h1v6.41h-1zM574 182.16h1v6.24h-1zM576 182.27h1v6.13h-1zM584 181.68h1v6.72h-1zM594 181.42h1v6.98h-1zM600 181.61h1v6.79h-1zM602 182.13h1v6.27h-1zM608 181.5h1v6.9h-1zM609 182.1h1v6.3h-1zM619 181.98h1v6.42h-1zM625 180.82h1v7.58h-1zM626 181.41h1v6.99h-1zM627 182.21h1v6.19h-1zM630 181.71h1v6.69h-1zM631 181.66h1v6.74h-1zM638 181.4h1v7h-1zM641 182.23h1v6.17h-1z" fill="#ff40f8"/><path d="M397 181.8h1v6.6h-1zM398 182.67h1v5.73h-1zM399 181.81h1v6.59h-1zM400 181.86h1v6.54h-1zM401 181.35h1v7.05h-1zM404 182.16h1v6.24h-1zM411 182.81h1v5.59h-1zM412 181.85h1v6.55h-1zM415 181.54h1v6.86h-1zM416 181.54h1v6.86h-1zM422 181.31h1v7.09h-1zM424 182.38h1v6.02h-1zM425 182.29h1v6.11h-1zM427 181.94h1v6.46h-1zM432 181.51h1v6.89h-1zM434 182.33h1v6.07h-1zM435 182.13h1v6.27h-1zM436 181.99h1v6.41h-1zM442 181.28h1v7.12h-1zM448 181.42h1v6.98h-1zM453 180.95h1v7.45h-1zM457 181.58h1v6.82h-1zM469 182.37h1v6.03h-1zM475 182.34h1v6.06h-1zM476 181.76h1v6.64h-1zM479 181.79h1v6.61h-1zM480 181.74h1v6.66h-1zM482 181.82h1v6.58h-1zM499 181.2h1v7.2h-1zM511 181.44h1v6.96h-1zM514 181.21h1v7.19h-1zM518 182.28h1v6.12h-1zM525 181.09h1v7.31h-1zM536 180.9h1v7.5h-1zM537 181.09h1v7.31h-1zM543 182.12h1v6.28h-1zM547 181.67h1v6.73h-1zM548 180.92h1v7.48h-1zM553 181.13h1v7.27h-1zM554 181.29h1v7.11h-1zM555 181.45h1v6.95h-1zM561 182.64h1v5.76h-1zM563 182.28h1v6.12h-1zM565 181.49h1v6.91h-1zM568 181.7h1v6.7h-1zM579 181.04h1v7.36h-1zM581 182.24h1v6.16h-1zM583 182.31h1v6.09h-1zM604 181.88h1v6.52h-1zM606 182.22h1v6.18h-1zM611 181.18h1v7.22h-1zM613 181.62h1v6.78h-1zM614 181.98h1v6.42h-1zM616 180.56h1v7.84h-1zM621 182.68h1v5.72h-1zM623 181.72h1v6.68h-1zM628 182.12h1v6.28h-1zM629 182.5h1v5.9h-1zM633 181.85h1v6.55h-1zM634 181.54h1v6.86h-1zM635 182.02h1v6.38h-1zM636 181.08h1v7.32h-1zM637 181.81h1v6.59h-1zM640 181.93h1v6.47h-1z" fill="#f030e8"/><path d="M405 181.89h1v6.51h-1zM409 182.37h1v6.03h-1zM438 181.83h1v6.57h-1zM461 181.82h1v6.58h-1zM462 182.17h1v6.23h-1zM464 181.49h1v6.91h-1zM467 181.23h1v7.17h-1zM506 182.61h1v5.79h-1zM507 182.27h1v6.13h-1zM508 181.71h1v6.69h-1zM530 181.57h1v6.83h-1zM531 181.84h1v6.56h-1zM532 181.13h1v7.27h-1zM539 182.46h1v5.94h-1zM587 183.45h1v4.95h-1zM588 181.28h1v7.12h-1zM589 181.55h1v6.85h-1zM590 181.37h1v7.03h-1zM591 182.02h1v6.38h-1z" fill="#d030f0"/><path d="M406 182.02h1v6.38h-1zM407 181.58h1v6.82h-1zM408 181.76h1v6.64h-1zM439 182.26h1v6.14h-1zM440 181.27h1v7.13h-1zM458 181.8h1v6.6h-1zM459 182.27h1v6.13h-1zM460 181.98h1v6.42h-1zM463 181.42h1v6.98h-1zM465 181.64h1v6.76h-1zM466 181.74h1v6.66h-1zM495 181.96h1v6.44h-1zM496 182.13h1v6.27h-1zM528 182.28h1v6.12h-1zM529 182.14h1v6.26h-1zM585 182.19h1v6.21h-1zM586 182.13h1v6.27h-1z" fill="#e038f0"/><path d="M408.37 184.83h1.48v2.26h-1.48zM427.27 186.44h1.36v1.47h-1.36zM515.77 185.69h0.83v1.08h-0.83zM466.78 186.4h0.81v2.05h-0.81zM511.78 184.71h0.9v1.97h-0.9zM592.79 186.07h0.8v1.91h-0.8zM500.44 184.61h1.22v1.08h-1.22z" fill="#ffd040" opacity="0.5"/><path d="M396.01 183.7h1.36v1.07h-1.36zM628.34 184.08h1.33v1.48h-1.33zM477.22 186.79h1.45v2.41h-1.45zM417.52 185.71h1.09v2.14h-1.09z" fill="#ff3030" opacity="0.5"/><path d="M588.75 186.36h0.81v2.28h-0.81z" fill="#ff8040" opacity="0.5"/><path d="M551.51 185.04h1.09v2.41h-1.09zM404.72 186.47h0.83v2.09h-0.83zM586.69 185.71h1.21v2.26h-1.21zM601.87 183.79h1.4v1.98h-1.4z" fill="#ff6060" opacity="0.5"/><path d="M565.33 183.62h1.17v1.52h-1.17zM513.92 184.8h1.16v1.39h-1.16z" fill="#ffe060" opacity="0.5"/><path d="M450.72 183.95h1.31v1.86h-1.31zM597.83 184.79h1.29v2.26h-1.29zM471.84 184.68h1.42v1.87h-1.42zM447.78 183.48h1.32v1.43h-1.32zM464.09 183.59h1v2.43h-1zM411.76 184.65h1.11v2.09h-1.11zM411.24 186.8h1.18v1.64h-1.18zM541.52 186.28h1.16v2.17h-1.16z" fill="#ffe060" opacity="0.55"/><path d="M576.17 184.59h1.33v1.66h-1.33zM431.44 186.74h1.04v1.78h-1.04zM425.28 185.82h1.21v2.33h-1.21zM580.12 184.21h0.93v1.19h-0.93zM502.16 185.62h1.41v2.17h-1.41zM481.12 185.51h1.36v1.79h-1.36z" fill="#ff6060" opacity="0.55"/><path d="M548.26 183.56h1.18v2.27h-1.18zM534.88 184.15h0.92v1.21h-0.92zM482.64 184.76h0.89v2.4h-0.89zM432.86 184.6h1.46v1.54h-1.46zM431.04 184.67h1.15v1.76h-1.15zM428.93 185.32h1.3v2.5h-1.3zM548.36 185.76h1.17v1.26h-1.17z" fill="#ff3030" opacity="0.55"/><path d="M446.19 184.16h1.24v1.59h-1.24zM572.39 183.61h1.02v1.67h-1.02zM449.21 185.31h0.99v1.11h-0.99zM585.03 185.03h1.08v1.02h-1.08zM511.73 183.67h1.44v1.9h-1.44z" fill="#ffd040" opacity="0.55"/><path d="M461.42 186.34h1.05v1.81h-1.05zM503.7 186.52h1.4v1.76h-1.4zM578.36 185.74h1.14v1.73h-1.14zM451 184.15h1.26v2.03h-1.26zM506.73 183.67h0.84v1.8h-0.84zM489.57 184.83h0.84v1.5h-0.84zM620.79 184.96h1.09v1.69h-1.09z" fill="#ff8040" opacity="0.55"/><path d="M493.1 183.45h0.99v1.43h-0.99zM470.98 186.76h1.04v1.69h-1.04zM445.63 185.84h0.97v1.52h-0.97zM611.46 186.79h1.39v2.03h-1.39zM480.17 185.48h1.11v1.92h-1.11zM471.55 186.1h1.5v1.89h-1.5zM600.95 186.63h0.87v1.75h-0.87zM577.06 184.2h1.02v2.33h-1.02zM576.31 186.24h0.84v1.91h-0.84zM633.2 183.73h1.02v2.03h-1.02z" fill="#ffe060" opacity="0.6"/><path d="M519.26 185.5h1.08v2.07h-1.08zM549.48 183.71h1v2.39h-1zM440.99 184.15h1.11v2.2h-1.11zM594.28 184.25h0.92v2.36h-0.92zM558.7 186.8h0.83v1.13h-0.83zM463.53 183.46h1.12v1.47h-1.12zM611.06 184h1v1.91h-1zM604.11 186.16h1.17v1.06h-1.17zM424.33 186.64h1.28v1.09h-1.28z" fill="#ff6060" opacity="0.6"/><path d="M454.43 185.65h0.89v1.91h-0.89zM495.99 183.87h1.46v1.09h-1.46zM631.08 184.35h1.23v2.09h-1.23zM442.46 184.53h1.06v1.34h-1.06z" fill="#ffd040" opacity="0.6"/><path d="M596.15 186.33h1.06v1.7h-1.06zM470.8 185.94h1.14v1.03h-1.14zM591.28 185.65h1.2v2.31h-1.2zM586.45 186.59h1.21v1h-1.21zM397.01 184.27h1.4v1.09h-1.4zM397.55 185.81h1.31v2.17h-1.31zM554.14 184.92h1.32v1.8h-1.32zM441.45 186.17h0.93v1.73h-0.93zM444.51 184.75h1.37v1.07h-1.37zM473.04 184.78h1.17v2.26h-1.17zM522.96 183.99h1.47v1.81h-1.47z" fill="#ff3030" opacity="0.6"/><path d="M549.9 184.65h1.15v1.33h-1.15zM592.05 186.32h0.98v2.11h-0.98zM524.77 184.64h1.48v1.27h-1.48zM618.25 185.58h1.35v1.96h-1.35zM462.25 186.84h0.86v1.07h-0.86zM541.64 184.26h0.87v1.41h-0.87zM437.42 184.43h1.01v1.61h-1.01zM616.16 186.53h0.82v1.21h-0.82z" fill="#ff8040" opacity="0.6"/><path d="M531.34 183.6h1.34v2.42h-1.34zM432.85 185.03h1.34v1.76h-1.34zM497.48 186.07h0.94v1.74h-0.94zM585.36 183.85h1.38v2.43h-1.38zM640.23 184.67h1.32v1.6h-1.32zM620.15 183.58h1.02v1.74h-1.02zM411.95 183.8h1.38v1.79h-1.38z" fill="#ff8040" opacity="0.65"/><path d="M415.98 184.12h1.34v1.95h-1.34zM585.57 185.62h1.03v1.07h-1.03zM618.01 185.95h1.33v2.25h-1.33zM456.06 186.05h0.92v2.08h-0.92zM470.82 184.42h1.38v1.65h-1.38zM537.89 185.38h1.01v2.45h-1.01zM620.29 185.31h1.32v1.28h-1.32zM458.72 185.05h0.89v1.32h-0.89z" fill="#ffe060" opacity="0.65"/><path d="M540.48 185.66h1.43v1.09h-1.43zM568.34 183.82h1.18v2.26h-1.18zM530.7 186.59h1.38v2.08h-1.38zM434.16 185.86h0.85v1.91h-0.85zM458.89 186.14h0.9v2.09h-0.9zM519.93 184.57h1.37v2.28h-1.37zM595.71 183.84h1.04v1.34h-1.04zM409.34 185.47h1.05v2.01h-1.05zM427.28 185.97h1.37v2.48h-1.37zM409.38 184.54h1.34v1.54h-1.34zM628.7 186.54h1.36v1.92h-1.36zM456.97 185.23h1.22v2.3h-1.22z" fill="#ffd040" opacity="0.65"/><path d="M426.9 183.67h0.88v2.47h-0.88zM549.81 185.77h1.3v2.04h-1.3zM427.96 183.7h1.48v1.66h-1.48zM492.38 184.42h0.95v1.25h-0.95zM641.27 185.99h1.16v2.34h-1.16z" fill="#ff6060" opacity="0.65"/><path d="M595.46 184.91h0.96v1.18h-0.96zM630.55 184.68h1.14v2.44h-1.14zM525.75 184.01h1.35v1.09h-1.35zM472.19 184.65h0.94v1.27h-0.94zM443.06 184.13h1.12v1.35h-1.12zM613.83 186.8h1.17v2.1h-1.17zM396.37 184.81h1.05v1.11h-1.05z" fill="#ff3030" opacity="0.65"/><path d="M425.94 184.18h1.03v1.73h-1.03zM465.85 185.3h1.25v2.31h-1.25z" fill="#ffd040" opacity="0.7"/><path d="M638.44 184.61h1.01v2.45h-1.01zM463.64 184.72h1.21v1.68h-1.21zM512.23 184.6h1.43v2.02h-1.43zM413.4 184.91h1.06v1.33h-1.06zM636.55 185.68h1.49v1.54h-1.49zM473.5 184.92h1.38v1.39h-1.38zM404.25 186.09h1.13v1.02h-1.13zM529.9 183.67h1.15v1.88h-1.15z" fill="#ff6060" opacity="0.7"/><path d="M624.82 185h1.44v1.13h-1.44zM584.43 184h1.15v1.73h-1.15zM561.46 184.52h1.07v2.47h-1.07zM408.9 184.55h1.31v1.16h-1.31zM508.16 185.22h1.23v2.44h-1.23zM415.63 185.1h1.21v1.55h-1.21zM475.99 183.95h0.93v1.9h-0.93zM494.81 185.02h0.91v2.39h-0.91zM482.01 185.78h1.24v1.46h-1.24zM570.59 186.61h1.02v1.9h-1.02zM539.15 184.95h1v1.54h-1z" fill="#ff3030" opacity="0.7"/><path d="M424.58 186.21h1.2v2.4h-1.2zM464.51 186.65h0.98v1.16h-0.98zM618.63 185.79h0.88v1.39h-0.88zM617.91 184.84h1.28v1.19h-1.28zM449.79 183.69h0.93v2.23h-0.93z" fill="#ffe060" opacity="0.7"/><path d="M477.67 183.54h1.12v1.42h-1.12zM628.66 183.53h1.02v1.62h-1.02zM598.52 186.83h0.81v1.7h-0.81z" fill="#ff8040" opacity="0.7"/><path d="M558.34 186.16h0.92v1.01h-0.92zM481.86 185.04h1.11v1.29h-1.11zM566.2 186.44h1.05v2.45h-1.05zM600.25 183.59h0.84v2.36h-0.84zM524.98 183.65h1.13v2.46h-1.13zM433.21 185.47h0.81v2.05h-0.81zM543.36 183.67h1.27v1.79h-1.27zM637.09 186.11h1.26v1.36h-1.26zM533.72 186.64h1.09v2.08h-1.09zM448.38 183.62h1.03v1.18h-1.03zM618.15 184.78h1.14v2.26h-1.14z" fill="#ff8040" opacity="0.75"/><path d="M562.87 183.82h1.17v2.31h-1.17zM509.02 185.26h1.12v1.13h-1.12zM559.55 183.99h1.34v1.93h-1.34zM457.78 184.84h1.29v1.4h-1.29zM425.16 186.78h1.31v2.49h-1.31zM470.62 184.87h1.46v1.43h-1.46z" fill="#ffd040" opacity="0.75"/><path d="M612.86 183.96h1.33v1.32h-1.33zM479.99 186.18h1.27v1.21h-1.27zM441.31 184.01h1.11v1.76h-1.11zM400.59 184.6h0.88v2.05h-0.88zM532.41 185.2h0.93v1.14h-0.93zM604.66 184.08h0.81v1.8h-0.81zM612.62 184.37h1.47v1.39h-1.47z" fill="#ffe060" opacity="0.75"/><path d="M449.95 185.38h1.48v2.35h-1.48zM633.58 186.71h1.16v1.64h-1.16zM531.5 184.33h1.29v1.55h-1.29zM547.54 184.63h1.29v1.23h-1.29zM578.32 186.82h1.03v1.45h-1.03zM423.48 185.11h1.16v2.41h-1.16zM632.88 186.5h0.83v1.9h-0.83z" fill="#ff3030" opacity="0.75"/><path d="M607.81 185.91h1.22v2.39h-1.22zM493.14 183.7h1.21v1.31h-1.21zM534.78 185.42h1.19v1.02h-1.19zM471.03 184.07h1.26v2.19h-1.26zM527.07 183.76h1.29v1.18h-1.29zM470.43 186.86h1.11v1.43h-1.11zM522.33 184.66h1.09v1.62h-1.09zM609.04 186.87h1.05v2.09h-1.05z" fill="#ff6060" opacity="0.75"/><path d="M488.13 184.48h1.3v1.36h-1.3zM456.3 185.74h1.35v1.76h-1.35zM543.76 184.09h1.24v1.39h-1.24zM607.66 183.74h1.41v2.26h-1.41zM593.37 185.06h1.17v1.43h-1.17zM616.33 186.58h0.82v1.7h-0.82z" fill="#ffd040" opacity="0.8"/><path d="M454.35 184.56h1.32v1.66h-1.32zM547.37 186.34h0.82v1.04h-0.82zM430.33 186.52h1v2.05h-1zM480.38 186.24h1.22v1.53h-1.22zM454.99 185.74h1.01v1.77h-1.01zM516.5 184.15h1.05v2.03h-1.05zM479.48 186.32h0.84v2.07h-0.84zM552.79 184.96h1.14v1.74h-1.14zM637.77 186.65h1.34v2.41h-1.34z" fill="#ff3030" opacity="0.8"/><path d="M501.02 184.36h0.84v1.68h-0.84zM464.53 184.88h1.16v2.45h-1.16zM396.44 183.78h1.28v1.14h-1.28zM406.95 185.48h1.27v1.98h-1.27zM623.13 186.73h1.2v1.53h-1.2zM643.94 183.87h1.42v2.4h-1.42z" fill="#ff8040" opacity="0.8"/><path d="M422.32 184.89h1.15v1.01h-1.15zM568.51 184.03h0.82v1.68h-0.82zM520.89 184.87h1.13v2.39h-1.13zM475.09 186.09h0.92v1.74h-0.92zM553.8 185.72h1.15v1.73h-1.15z" fill="#ffe060" opacity="0.8"/><path d="M496.93 185.62h1.35v2.38h-1.35zM446.86 183.44h1.43v2.29h-1.43zM576.28 184.22h0.99v1.05h-0.99zM498.58 185.13h1.46v1.32h-1.46z" fill="#ff6060" opacity="0.8"/><path d="M488.36 184.28h0.9v1.81h-0.9zM519.61 185.85h1.22v2.15h-1.22zM554.65 186.31h0.8v1.34h-0.8z" fill="#ff3030" opacity="0.85"/><path d="M518.06 186.06h0.85v1.39h-0.85zM628.81 183.77h0.95v2.33h-0.95zM524.19 185.82h1.17v1.19h-1.17zM567.79 185.64h1.13v1.36h-1.13zM518.6 185.01h0.96v1.65h-0.96zM399.2 184.75h1.45v1.56h-1.45zM556.15 184.84h1.17v1.32h-1.17zM608.78 184.48h1.16v1.64h-1.16zM515.31 185.22h1.33v1h-1.33z" fill="#ff8040" opacity="0.85"/><path d="M555.06 185.48h0.86v1.04h-0.86zM599.19 184.84h1.01v1.49h-1.01zM615.63 185.08h1.06v2.49h-1.06zM576.02 184.68h0.86v1.92h-0.86z" fill="#ff6060" opacity="0.85"/><path d="M411.91 184.52h1.03v2.48h-1.03zM501.75 186.51h1.29v1.06h-1.29zM601.67 186.48h0.88v1.11h-0.88zM399.1 184.71h1.18v1.14h-1.18zM604.65 186.65h1.25v1.47h-1.25zM566.17 186.13h1.27v1.52h-1.27z" fill="#ffe060" opacity="0.85"/><path d="M565.7 185.77h1.08v1.05h-1.08zM608.55 184.59h1v1.41h-1zM435.95 186.06h1.34v2.34h-1.34zM437.16 185.41h1v1.59h-1zM463.39 183.94h1.23v1.47h-1.23zM584.82 183.8h1.17v1.07h-1.17zM459.51 184.8h0.99v1.38h-0.99z" fill="#ffd040" opacity="0.85"/><path d="M581.18 186.89h0.88v1.35h-0.88zM561.19 185.71h1.26v1.68h-1.26zM621.7 183.67h1.45v1.36h-1.45zM619.72 183.97h1v1.98h-1zM462.45 184.71h0.87v2.4h-0.87zM623.76 186.07h1.01v1.05h-1.01zM411.28 184.36h1.24v2.11h-1.24zM550.66 185.51h0.97v2.12h-0.97zM419.86 184.7h1.15v1.77h-1.15z" fill="#ff6060" opacity="0.9"/><path d="M577.55 183.52h0.81v1.32h-0.81zM528.75 186.21h1.45v2.02h-1.45zM418.77 185.17h1.03v2.43h-1.03zM604.34 186.41h1.26v1.46h-1.26zM482.24 183.54h0.84v2.11h-0.84zM540.92 183.49h0.98v1.72h-0.98z" fill="#ffe060" opacity="0.9"/><path d="M577.85 184.01h1.36v2.14h-1.36zM596.9 184.46h1.1v2.46h-1.1zM639.31 183.4h0.97v2.19h-0.97zM456.83 184.27h0.84v1.97h-0.84zM413.9 185.38h1.41v1.37h-1.41zM454.4 183.75h1.15v1.2h-1.15z" fill="#ff3030" opacity="0.9"/><path d="M550.08 186.28h0.86v2.15h-0.86zM504.5 185.32h1.28v1.85h-1.28zM436.59 186.02h1.06v2.45h-1.06zM406.07 184.18h0.98v2.35h-0.98zM484.76 184.45h0.87v1.13h-0.87zM643.18 186.25h1.3v1.86h-1.3z" fill="#ff8040" opacity="0.9"/><path d="M558.2 185.82h1.41v1.95h-1.41zM615.21 185.47h1.1v1.92h-1.1zM552.27 185.81h1.4v1.13h-1.4zM452.36 183.74h1.08v1.89h-1.08z" fill="#ffd040" opacity="0.9"/><path d="M501.59 184.06h0.85v2.2h-0.85zM470.78 185.7h1.06v1.62h-1.06z" fill="#ff8040" opacity="0.95"/><path d="M557.75 186.55h1.2v1.99h-1.2zM612.62 184.35h1.16v1.28h-1.16zM570.88 185.62h1.16v2.09h-1.16z" fill="#ff6060" opacity="0.95"/><path d="M487.09 184.69h0.91v2.3h-0.91zM510.11 184.14h1.08v1.6h-1.08z" fill="#ff3030" opacity="0.95"/><path d="M550.28 184.09h0.98v1.42h-0.98zM554.35 186.8h1.02v1.43h-1.02z" fill="#ffe060" opacity="0.95"/><path d="M542.23 186.24h0.98v1.33h-0.98z" fill="#ffd040" opacity="0.95"/></g></g>
<text x="396" y="119.5" font-size="10" font-weight="bold" fill="#fff" textLength="35.5" lengthAdjust="spacingAndGlyphs">KO-Veh</text>
<rect x="647.7" y="111.2" width="5.7" height="78.3" fill="url(#cb6477_111)" stroke="none" stroke-width="1"/>
<text x="655.2" y="115.8" font-size="11" font-weight="bold" textLength="21.3" lengthAdjust="spacingAndGlyphs">Max</text>
<text x="655.2" y="190.3" font-size="11" font-weight="bold" textLength="19" lengthAdjust="spacingAndGlyphs">Min</text>
<text x="663.8" y="148.85" font-size="10.8" font-weight="bold" text-anchor="middle" transform="rotate(-90 663.8 148.85)" textLength="64" lengthAdjust="spacingAndGlyphs">Power (µV<tspan font-size="6.5" dy="-4">2</tspan><tspan dy="4">)</tspan></text>
<line x1="653.4" y1="90.7" x2="653.4" y2="99.5" stroke="#444" stroke-width="1.1"/>
<line x1="633.3" y1="99.5" x2="653.4" y2="99.5" stroke="#444" stroke-width="1.1"/>
<text x="654.6" y="98.2" font-size="8.5" font-weight="bold" textLength="20.6" lengthAdjust="spacingAndGlyphs">8 mV</text>
<text x="632.5" y="107.3" font-size="8.5" font-weight="bold" textLength="22.3" lengthAdjust="spacingAndGlyphs">2 min</text>
<text x="0.8" y="232.8" font-size="18" font-weight="bold">d</text>
<path d="M29.6 239.61V247.18M30.1 240.11V244.72M30.6 241.5V246.53M31.1 241.08V248.15M31.6 242.82V247.23M32.1 242.75V248.13M32.6 243.91V248.72M33.1 244.3V249.57M33.6 243.92V249.94M34.1 242.98V249.17M34.6 243.12V252.58M35.1 241.14V246.84M35.6 239.81V248.47M36.1 242.04V246.66M36.6 241.49V246.18M37.1 242.51V246.32M37.6 241.05V246.78M38.1 240.73V247.84M38.6 239.71V246.4M39.1 239.11V245.13M39.6 242.37V245.91M40.1 241.55V249.28M40.6 242.08V248.13M41.1 241.11V248.56M41.6 244.19V250.24M42.1 242.61V250.2M42.6 242.12V249.94M43.1 245.36V250.7M43.6 242.24V248.85M44.1 242.99V250.17M44.6 239.25V248.61M45.1 242.84V248.02M45.6 242.61V248.7M46.1 242.33V248.05M46.6 241.36V246.18M47.1 242.79V247.6M47.6 240.96V249.32M48.1 242.86V247.18M48.6 240.02V246.24M49.1 241.55V246.88M49.6 239.21V248.08M50.1 240.81V246.19M50.6 240.26V250.51M51.1 242.62V247.8M51.6 241.39V250.55M52.1 242.44V248.74M52.6 241.51V249.47M53.1 243.49V248.34M53.6 239.76V249.47M54.1 243.63V247.93M54.6 241.78V247.2M55.1 242.14V246.63M55.6 239.18V246.68M56.1 241.82V247.68M56.6 243.11V247.74M57.1 243.77V247.16M57.6 242.72V248.1M58.1 241.26V249.81M58.6 244.25V251.26M59.1 242.55V250M59.6 243.01V248.34M60.1 242.72V251.75M60.6 242.5V248.56M61.1 243.53V249.25M61.6 243.43V248.27M62.1 243.87V250.65M62.6 244.02V248.7M63.1 242.86V250.08M63.6 241.43V247.83M64.1 238.88V247.72M64.6 241.06V245.68M65.1 239.58V245.53M65.6 240.73V248.73M66.1 243.18V249.41M66.6 242.41V246.81M67.1 243.99V249.33M67.6 244.36V248.01M68.1 243.06V248.15M68.6 240.79V249.33M69.1 243.71V248.39M69.6 242.09V253.8M70.1 241.47V247.86M70.6 241.93V246.57M71.1 242.15V249.42M71.6 242.69V246.97M72.1 242.65V246.8M72.6 241.77V247.88M73.1 240.98V246.43M73.6 242.06V248.06M74.1 240.28V247.74M74.6 242.15V252.93M75.1 242.13V251.21M75.6 240.83V249.21M76.1 241.77V250.13M76.6 239.99V248.75M77.1 242.69V248.69M77.6 242.14V247.74M78.1 242.42V248.86M78.6 242.63V254.72M79.1 242.7V249.27M79.6 241.16V247.96M80.1 243.66V254.45M80.6 242.71V249.02M81.1 240.82V249.67M81.6 241.63V248.53M82.1 239.4V247.77M82.6 242.15V248.23M83.1 241.87V247.66M83.6 241.71V248.37M84.1 238.76V248.58M84.6 241.2V247.67M85.1 242.97V247.86M85.6 239.49V249.99M86.1 239.22V250.16M86.6 232.39V250.95M87.1 240.19V256.54M87.6 242.56V249.3M88.1 236.99V250.42M88.6 243.26V251.62M89.1 237.48V250.7M89.6 242.41V250.83M90.1 238.21V251.69M90.6 241V251.78M91.1 240.34V247.9M91.6 240.78V253.7M92.1 244V252.84M92.6 239.76V251.2M93.1 237.58V252.11M93.6 247.61V255.77M94.1 244.95V253.84M94.6 241.65V256.31M95.1 235.1V253.78M95.6 243.23V254.38M96.1 243.14V252.52M96.6 241.1V248.2M97.1 240.56V246.86M97.6 233.29V251.72M98.1 240.62V249.16M98.6 237.81V248.79M99.1 240.62V246.3M99.6 238.4V246.49M100.1 241.48V246.65M100.6 242.75V248.79M101.1 241.87V247.99M101.6 238.75V247.34M102.1 243.52V249.61M102.6 243.71V250.54M103.1 243.39V249.56M103.6 243.33V250.27M104.1 242.39V248.73M104.6 242.02V249.61M105.1 240.96V246.51M105.6 241.98V247.46M106.1 237.58V246.1M106.6 240.65V249.91M107.1 238.75V246.67M107.6 241V247.2M108.1 243.91V249.19M108.6 242.65V249.04M109.1 242.99V250.16M109.6 245.3V251.9M110.1 244.04V252.85M110.6 241.76V248.17M111.1 243.85V249.66M111.6 243.76V248.55M112.1 240.74V248.18M112.6 241.5V246.71M113.1 238.13V248.99M113.6 241.97V248.28M114.1 238.09V245.76M114.6 241.1V247.32M115.1 237.45V247.66M115.6 237.47V250.61M116.1 241.16V246.08M116.6 240.06V245.46M117.1 240.98V245.35M117.6 241.75V245.42M118.1 241.29V249.61M118.6 242.44V247.79M119.1 243.91V250.74M119.6 243.59V249.36M120.1 243.01V251.03M120.6 244.19V252.33M121.1 245.29V249.68M121.6 242.72V251.77M122.1 241.68V248.17M122.6 238.31V248.13M123.1 239.15V247.54M123.6 242.08V247.14M124.1 239.96V249.08M124.6 243.88V248.7M125.1 242.09V248.73M125.6 238.25V248.68M126.1 242.46V251.88M126.6 244.26V249.04M127.1 241.45V248.21M127.6 242.88V248.68M128.1 242.05V247.1M128.6 241.61V247.01M129.1 241.96V248.6M129.6 241.1V247.57M130.1 243.69V247.91M130.6 235.72V247.66M131.1 243.43V248.04M131.6 241.14V248.43M132.1 238.31V247.73M132.6 242V246.16M133.1 241.63V246.44M133.6 242.93V246.94M134.1 236.46V245.55M134.6 242.48V248.85M135.1 241.43V246.51M135.6 240.8V248.16M136.1 241.86V248.09M136.6 241.7V248.09M137.1 239.95V247.38M137.6 243.18V248.92M138.1 240.51V247.39M138.6 242.88V249.89M139.1 241.58V247.05M139.6 240.2V246.14M140.1 242.41V249.8M140.6 241.98V248.28M141.1 243.67V249.66M141.6 243.3V251.89M142.1 241.61V247.38M142.6 242.39V247.39M143.1 242.08V249.9M143.6 243.52V251.12M144.1 240.94V247.4M144.6 241.26V246.49M145.1 241.64V247.24M145.6 241.93V247.14M146.1 243.3V248.7M146.6 242.67V248.34M147.1 243.67V248.39M147.6 242.04V249.46M148.1 242.08V251.5M148.6 243.37V247.68M149.1 240.27V249.29M149.6 242.15V246.42M150.1 242.72V247.81M150.6 241.23V251.86M151.1 243.46V250M151.6 243.52V248.12M152.1 244.2V251.43M152.6 244.7V249.81M153.1 243.97V248.6M153.6 243.75V250.79M154.1 243.3V247.72M154.6 242.13V247.59M155.1 243.48V248.63M155.6 242.63V248.68M156.1 241.87V248.91M156.6 240.65V250.08M157.1 241.2V252.31M157.6 242.16V248.82M158.1 238.21V252.67M158.6 239.17V246.81M159.1 242.04V248.15M159.6 234.59V248.15M160.1 240.99V249.58M160.6 242.62V252.88M161.1 242.62V251.09M161.6 240.74V251.28M162.1 243.11V254.11M162.6 243.23V252.87M163.1 243.5V249.2M163.6 241.81V248.21M164.1 243.18V250.69M164.6 242.63V251.08M165.1 241.63V248.14M165.6 242V247.22M166.1 240.76V247.12M166.6 242.26V249.86M167.1 242.35V248.41M167.6 241.35V247.52M168.1 242.47V249.78M168.6 242.34V247.03M169.1 241.91V249.6M169.6 242.54V249.41M170.1 244.23V248.17M170.6 240.78V248.67M171.1 242.34V252.26M171.6 243.97V248.32M172.1 241.01V251.46M172.6 243.2V246.68M173.1 242.35V245.82M173.6 240.54V247.61M174.1 241.06V245.64M174.6 240.77V245.81M175.1 242.24V248.85M175.6 240V247.97M176.1 240.39V248.93M176.6 242.08V246.09M177.1 239.36V254.42M177.6 242.13V250.6M178.1 238.8V249.66M178.6 240.61V249.18M179.1 240.34V246.42M179.6 239.87V250.18M180.1 235.6V252.8M180.6 242.03V247.81M181.1 234.87V254.77M181.6 239.88V250.11M182.1 241.3V249.69M182.6 240.06V247.72M183.1 231.28V249.07M183.6 244.04V249.55M184.1 239.42V251.69M184.6 244.95V248.4M185.1 243.38V249.65M185.6 243.33V251.73M186.1 243.89V250.61M186.6 243.84V248M187.1 239.93V248.54M187.6 242.72V248.46M188.1 242.85V248.61M188.6 242.84V247.02M189.1 243.03V248.3M189.6 242.38V247.07M190.1 241.33V247.64M190.6 243.11V248.54M191.1 243.06V248.04M191.6 244.18V248.02M192.1 240.79V246.38M192.6 242.95V247.15M193.1 243.53V248.74M193.6 243.76V249.25M194.1 242.14V248.92M194.6 242.46V249.77M195.1 239.61V247.2M195.6 242.46V247.78M196.1 239.32V247.26M196.6 241V245.83M197.1 242.93V246.29M197.6 241.44V250.37M198.1 242.19V246.89M198.6 242.57V247.82M199.1 241.75V248.45M199.6 241.66V250.8M200.1 241.88V245.66M200.6 242.35V248.44M201.1 241.7V247.11M201.6 242.66V247.76M202.1 241.79V247.42M202.6 242.43V248.9M203.1 243.41V249.58M203.6 240.8V249.78M204.1 243.35V253.82M204.6 240.42V247.42M205.1 242.28V245.38M205.6 238.16V247.41M206.1 241.74V249.04M206.6 240.69V247.68M207.1 241.28V248.04M207.6 239.89V249.96M208.1 242.9V248.19M208.6 242V248.89M209.1 241.6V249.12M209.6 241.12V247.47M210.1 243.79V251.77M210.6 242.66V248.7M211.1 244.51V249.99M211.6 240.92V250.03M212.1 244.84V249.35M212.6 237.64V248.94M213.1 243.24V248.32M213.6 243.45V247.38M214.1 239.42V249.11M214.6 241.87V248.94M215.1 242.35V248.17M215.6 238.95V247.62M216.1 239.66V249.22M216.6 238.91V246.55M217.1 242.6V247.09M217.6 242.46V248.45M218.1 242.57V246.78M218.6 243.84V248.04M219.1 241.69V248.37M219.6 240.13V248.31M220.1 242.28V248.72M220.6 242.38V248.26M221.1 243.04V248.46M221.6 243.44V247.17M222.1 241.88V247.72M222.6 241.84V245.59M223.1 242.01V249.11M223.6 242.45V249.17M224.1 244.18V247.07M224.6 240.8V247.53M225.1 243.24V248.41M225.6 241.99V246.94M226.1 241.19V248.86M226.6 239.77V248.89M227.1 241.89V248.59M227.6 242.06V248.6M228.1 241.64V249.42M228.6 240.99V247.89M229.1 237.72V248.65M229.6 244.1V248.36M230.1 242.37V249.14M230.6 243.58V249.45M231.1 235.43V249.29M231.6 239.34V247.57M232.1 236.67V248.99M232.6 239.64V249.23M233.1 242.05V246.74M233.6 240.82V247.71M234.1 240.01V247.05M234.6 241.88V247.83M235.1 243.2V248.14M235.6 243.37V249.2M236.1 241.95V247.06M236.6 243.31V249.18M237.1 243.99V250.65M237.6 240.94V249.55M238.1 243.32V249.32M238.6 241.61V246.75M239.1 244.08V250.03M239.6 241.76V246.58M240.1 240.67V247.03M240.6 240.98V246.31M241.1 240.95V244.81M241.6 240.62V244.83M242.1 241.61V246.47M242.6 240.44V248.26M243.1 241.27V245.38M243.6 241.06V246.08M244.1 242.17V250.78M244.6 244.32V251.48M245.1 243.93V249.03M245.6 243.76V248.28M246.1 244.22V250.04M246.6 244.47V248.7M247.1 243.35V248.33M247.6 243.4V249.97M248.1 241.83V248.93M248.6 241.53V248.37M249.1 242.05V246.81M249.6 242.45V250.71M250.1 242.88V247.7M250.6 242.64V248.38M251.1 243.37V247.86M251.6 243.36V248.52M252.1 241.18V249.54M252.6 242.61V247.07M253.1 242.17V248.61M253.6 242.26V251.51M254.1 242.67V247.58M254.6 242.92V246.56M255.1 241.96V249.79M255.6 243.12V248.08M256.1 243.1V248.7M256.6 239.86V251.6M257.1 242.92V249.74M257.6 243.11V248.69M258.1 240.47V248.53M258.6 240.42V250.13M259.1 242.91V246.84M259.6 241.34V249.3M260.1 242.46V247.66M260.6 243.66V249.64M261.1 242.22V249.63M261.6 241.35V248.53M262.1 242.33V246.69M262.6 239.98V245.99M263.1 239.36V245.63M263.6 237.62V244.19M264.1 241.83V246.01M264.6 241.69V249.2M265.1 242.38V247.94M265.6 241.15V247.33M266.1 241.93V247.88M266.6 241.25V247.97M267.1 243.41V248.13M267.6 240.07V249.48M268.1 242.23V250.91M268.6 243.29V249.5M269.1 242.4V247.83M269.6 242.55V248.69M270.1 243.45V248.59M270.6 244.21V248.36M271.1 241.41V248.25M271.6 242.28V248.65M272.1 243.06V249.93M272.6 244.26V249.93M273.1 240.44V247.28M273.6 242.7V248.47M274.1 243.08V247.5M274.6 239.32V245.75M275.1 240.85V247.38M275.6 240.73V246.29M276.1 241.18V248.32M276.6 241.18V248.64M277.1 242.24V245.8M277.6 240.67V245.93M278.1 242.23V246.08M278.6 240.77V246.86M279.1 243.13V248.56M279.6 245.1V249.33M280.1 243.94V253.04M280.6 244.34V249.64M281.1 244.43V249.82M281.6 242.89V249.8" stroke="#000" stroke-width="0.5" opacity="0.3" fill="none"/>
<path d="M29.6 242.27V245.53M30.1 240.11V244.57M30.6 242.44V246.03M31.1 242.05V246.73M31.6 243.09V246.79M32.1 243.36V247.73M32.6 244.05V248.27M33.1 244.69V248.45M33.6 244.48V247.92M34.1 244.21V248.88M34.6 244.35V248.85M35.1 243.34V246.81M35.6 240.99V246.95M36.1 242.06V245.96M36.6 243.18V246.09M37.1 242.57V246.23M37.6 242.05V246.11M38.1 241.07V245.88M38.6 242.37V246.31M39.1 241.22V245.04M39.6 242.45V245.32M40.1 242.05V247.22M40.6 242.5V246.8M41.1 244.17V248.16M41.6 244.38V249.53M42.1 244.16V249.38M42.6 245.23V248.71M43.1 245.99V248.52M43.6 244.38V248.85M44.1 244.41V247.78M44.6 243.14V248.27M45.1 243.47V247.66M45.6 243.25V247.1M46.1 242.44V247.27M46.6 242.6V245.62M47.1 243.22V247.37M47.6 242.41V247.91M48.1 243.59V247.13M48.6 240.65V246.09M49.1 243.05V246.54M49.6 242.42V246.7M50.1 242.07V245.88M50.6 241.25V247.5M51.1 243.5V246.83M51.6 243.46V246.79M52.1 242.74V247.98M52.6 243.85V248.48M53.1 243.58V247.34M53.6 243.46V246.81M54.1 243.93V247.03M54.6 242.72V245.93M55.1 242.71V245.79M55.6 241.51V245.87M56.1 242.78V247.22M56.6 243.26V247.42M57.1 243.95V246.58M57.6 243.66V247.38M58.1 243.36V248.31M58.6 244.28V248.66M59.1 244.05V247.75M59.6 244.07V247.78M60.1 243.49V248.72M60.6 243.65V247.88M61.1 243.89V248.52M61.6 244.52V248.16M62.1 244.17V247.95M62.6 244.3V247.93M63.1 243.12V246.85M63.6 241.49V247.53M64.1 242.19V245.99M64.6 242.13V245.26M65.1 242.36V245.28M65.6 242.96V246.78M66.1 243.32V247.96M66.6 243.74V246.75M67.1 244.03V248.97M67.6 244.4V247.05M68.1 243.62V247.32M68.6 243.22V247.85M69.1 243.75V247.8M69.6 244.32V246.94M70.1 242.6V246.92M70.6 242.12V246.36M71.1 243.13V246.64M71.6 242.93V246.2M72.1 242.74V245.85M72.6 242.09V247.58M73.1 241.61V246.1M73.6 242.27V246.79M74.1 241.5V246.8M74.6 243.14V246.64M75.1 243.26V249.41M75.6 242.77V248.23M76.1 244.09V247.52M76.6 244.31V247.55M77.1 243.77V248.41M77.6 244.15V247.74M78.1 243.25V248.47M78.6 243.26V252.77M79.1 243.22V246.87M79.6 243.97V247.6M80.1 243.91V248.88M80.6 243.47V246.61M81.1 240.9V246.98M81.6 242.92V246.6M82.1 240.9V245.7M82.6 242.34V247.76M83.1 242.09V247.63M83.6 243.81V247.3M84.1 242.49V246.84M84.6 243.38V247.22M85.1 242.98V247.33M85.6 241.92V249.8M86.1 242.05V250.09M86.6 241.46V247.67M87.1 243.89V250.15M87.6 244.3V248.91M88.1 237.52V247.67M88.6 243.4V248.79M89.1 244.3V247.82M89.6 243.01V247.27M90.1 241.62V246.17M90.6 241.91V249.63M91.1 243.17V247.26M91.6 241.04V250.06M92.1 245.65V249.71M92.6 244.28V250.99M93.1 246.12V251.05M93.6 247.86V251.36M94.1 246.92V252.2M94.6 246.47V253.22M95.1 246.3V253.06M95.6 244.59V249.98M96.1 243.24V250.11M96.6 241.99V246.82M97.1 241.8V245.99M97.6 241.24V250.44M98.1 241.11V247.51M98.6 240.11V246.11M99.1 241.27V246.06M99.6 242.55V245.89M100.1 243.71V246.6M100.6 243.08V247.59M101.1 243.97V247.04M101.6 243.2V247.32M102.1 243.75V249.08M102.6 244.82V248.81M103.1 244.11V248.37M103.6 243.98V250.13M104.1 243.24V247.34M104.6 242.66V248.07M105.1 241.05V245.81M105.6 242.34V247.12M106.1 242.05V245.25M106.6 242.03V249.32M107.1 242.17V246M107.6 242.71V246.3M108.1 244.04V247.34M108.6 243.86V248.33M109.1 244.09V248.71M109.6 246.03V251.9M110.1 245.07V249.63M110.6 242.15V247.92M111.1 244.68V247.8M111.6 244.59V248.43M112.1 243.06V248.17M112.6 243.27V246.16M113.1 241.64V246.91M113.6 242.22V245.87M114.1 241.46V245.17M114.6 241.62V246.93M115.1 242.2V246.2M115.6 239.69V247.45M116.1 241.63V245.28M116.6 241.16V245.2M117.1 240.99V244.77M117.6 242.14V245.36M118.1 241.9V245.38M118.6 243.21V247.08M119.1 244.53V248.8M119.6 244.79V247.98M120.1 244.8V249.57M120.6 245.12V249.42M121.1 245.85V248.63M121.6 244.23V247.51M122.1 242.99V246.75M122.6 242.3V247.55M123.1 239.57V246.21M123.6 242.96V246.44M124.1 243.39V246.11M124.6 243.98V247.2M125.1 242.28V247.99M125.6 240.93V248.14M126.1 244.36V247.87M126.6 244.68V248.65M127.1 244.42V247.96M127.6 243.34V247.48M128.1 243.33V246.73M128.6 242.18V246.54M129.1 243.75V246.9M129.6 242.62V247.21M130.1 243.77V247.52M130.6 241.81V246.85M131.1 243.87V247.45M131.6 241.48V246.5M132.1 242.03V246.35M132.6 242.1V245.06M133.1 241.7V244.89M133.6 243.02V246.49M134.1 242.11V245.42M134.6 242.56V247.58M135.1 242.21V245.74M135.6 242.8V248.04M136.1 242.21V245.76M136.6 243.24V247.26M137.1 243.35V246.19M137.6 243.57V246.66M138.1 243.84V246.76M138.6 243.24V248.98M139.1 242.93V246.37M139.6 242.08V245.99M140.1 243V247.58M140.6 242.31V248.26M141.1 244.58V247.94M141.6 244.89V248.58M142.1 243.72V247.25M142.6 243.65V246.83M143.1 242.51V247.76M143.6 243.56V249.34M144.1 242.97V247.36M144.6 243.56V246.43M145.1 243.62V247.11M145.6 242.67V246.65M146.1 243.34V246.23M146.6 243.48V247.39M147.1 243.91V247.44M147.6 243.61V247.42M148.1 242.99V248.87M148.6 243.48V247.35M149.1 240.57V247.42M149.6 242.74V246M150.1 242.88V246.36M150.6 242.77V246.73M151.1 243.68V248.85M151.6 244.15V247.32M152.1 244.59V248.76M152.6 244.8V249.2M153.1 243.97V248.3M153.6 244.6V248.6M154.1 244.03V247.68M154.6 243.68V247.02M155.1 243.5V247.98M155.6 242.97V246.86M156.1 242.11V246.46M156.6 242.72V246.52M157.1 242.78V247.49M157.6 242.3V247.21M158.1 240.44V248.68M158.6 240.53V246.48M159.1 242.21V246.9M159.6 241.83V247.88M160.1 241.58V245.89M160.6 243.09V250.08M161.1 244.55V249.09M161.6 245.11V250.21M162.1 245.18V250.96M162.6 244.28V251.5M163.1 245.29V249.08M163.6 243.54V248.07M164.1 243.4V249.47M164.6 243.01V247.45M165.1 242.71V247.65M165.6 242.89V245.49M166.1 241.09V246.6M166.6 242.49V249.24M167.1 243.21V247.96M167.6 242.47V245.68M168.1 242.9V247.06M168.6 243.16V246.6M169.1 243.32V246.51M169.6 242.72V247.76M170.1 244.49V247.84M170.6 243.5V247.73M171.1 243.28V248.43M171.6 244.42V248.05M172.1 243.48V249.14M172.6 243.3V246.65M173.1 242.56V245.68M173.6 241.22V245.33M174.1 242.43V245.53M174.6 241.76V245.68M175.1 242.63V245.76M175.6 241.17V245.69M176.1 242.81V248.12M176.6 242.75V245.77M177.1 241.15V247.06M177.6 243.33V248.08M178.1 241.98V247.39M178.6 241.95V248.58M179.1 240.87V246.06M179.6 242.92V246.23M180.1 236.27V250.43M180.6 242.9V246.54M181.1 240.75V250.51M181.6 243.78V248.12M182.1 243.08V247.74M182.6 242.02V247.72M183.1 239.78V248.01M183.6 244.83V248.99M184.1 241.26V250.32M184.6 245.01V247.77M185.1 243.77V247.43M185.6 243.83V248.82M186.1 244.25V247.67M186.6 244.16V247.66M187.1 243.18V248.18M187.6 243.35V246.66M188.1 243.46V247.32M188.6 242.99V246.66M189.1 243.21V246.91M189.6 242.55V246.85M190.1 242.98V246.61M190.6 243.34V247.98M191.1 243.24V247.57M191.6 244.3V247.25M192.1 241.37V246.27M192.6 243.91V246.83M193.1 243.73V248.2M193.6 244.67V248.27M194.1 243.86V247.07M194.6 244.26V249.05M195.1 241.14V247.13M195.6 242.5V246.4M196.1 240.74V246.62M196.6 241.7V245.6M197.1 243.09V246.22M197.6 243.37V249.08M198.1 242.87V246.44M198.6 242.67V246.26M199.1 241.75V246.3M199.6 242.09V246.23M200.1 242.07V245.32M200.6 242.45V246.39M201.1 242.74V246.76M201.6 243.68V246.84M202.1 243.83V247.13M202.6 244.4V248.56M203.1 243.78V248.44M203.6 243.74V248.36M204.1 243.66V247.38M204.6 241.08V246.3M205.1 242.34V245.37M205.6 239.67V246.23M206.1 242.1V245.7M206.6 242.68V246.36M207.1 243.07V246.98M207.6 241.95V246.83M208.1 243.19V246.74M208.6 242.99V247.32M209.1 242.7V247.46M209.6 242.03V247.17M210.1 244.46V249.65M210.6 244.03V248.21M211.1 244.62V249.18M211.6 243.84V248.27M212.1 244.98V247.96M212.6 244.77V248.05M213.1 244.55V247.91M213.6 243.65V247.13M214.1 241.54V249M214.6 242.24V247.59M215.1 242.86V246.24M215.6 242.58V247.15M216.1 242.49V246.34M216.6 242.96V246.29M217.1 242.75V246.63M217.6 242.77V245.96M218.1 243.16V246.05M218.6 243.85V246.88M219.1 241.74V247.04M219.6 242.86V246.69M220.1 243.46V246.9M220.6 242.72V247.26M221.1 244.92V247.84M221.6 243.92V247.12M222.1 242.25V245.96M222.6 242.6V245.57M223.1 242.4V246.49M223.6 243.34V247.68M224.1 244.29V246.76M224.6 242.86V247.34M225.1 243.72V248.16M225.6 242V246.57M226.1 242.63V246.62M226.6 242.49V248.37M227.1 242.06V246.4M227.6 243.77V246.92M228.1 242.33V247.23M228.6 243.7V247.67M229.1 238.94V248.22M229.6 245.06V247.94M230.1 243.46V248.81M230.6 243.65V248.39M231.1 243.59V247.66M231.6 242.84V247.25M232.1 243.03V246.61M232.6 241.98V247.73M233.1 242.26V246.46M233.6 242.7V246.47M234.1 242.21V247.02M234.6 242.7V247.18M235.1 243.39V247.35M235.6 243.49V247.98M236.1 242.97V246.31M236.6 243.95V248.15M237.1 244.31V248.57M237.6 243.69V248.37M238.1 243.84V248.37M238.6 243.71V246.63M239.1 244.36V248.26M239.6 242.64V245.9M240.1 242.72V246.42M240.6 241.6V245.15M241.1 241.41V244.53M241.6 241.74V244.75M242.1 241.86V245.42M242.6 241.05V245.03M243.1 242.06V245.13M243.6 241.84V246.02M244.1 243.61V250.03M244.6 244.8V249.38M245.1 244.26V247.75M245.6 244.03V247.98M246.1 244.41V248.19M246.6 244.64V247.51M247.1 243.53V246.86M247.6 243.92V247.49M248.1 242.52V247.48M248.6 241.99V247.06M249.1 242.44V246.06M249.6 242.8V249.56M250.1 243.51V246.8M250.6 242.69V248.02M251.1 243.57V247.26M251.6 243.77V247.79M252.1 243.02V247.16M252.6 243.57V246.73M253.1 242.96V247.07M253.6 243.19V248.87M254.1 243.59V246.67M254.6 243.23V246.08M255.1 242.64V248.88M255.6 243.78V246.85M256.1 244.54V248.68M256.6 243.42V249.04M257.1 244.24V248.25M257.6 243.28V247.88M258.1 243.93V247.97M258.6 240.73V247.46M259.1 243.13V246.82M259.6 242.94V248.56M260.1 243.01V246.77M260.6 243.96V247.29M261.1 242.69V248.26M261.6 242.69V246.88M262.1 243.29V246.29M262.6 241V245.78M263.1 240.94V245.52M263.6 240.47V244.08M264.1 241.93V245.65M264.6 242.51V247.67M265.1 243.18V246.69M265.6 242.59V246.67M266.1 243.97V247.2M266.6 243.91V247.75M267.1 243.61V247.25M267.6 243.69V248.04M268.1 243.4V248.23M268.6 243.49V249.09M269.1 243.72V247.82M269.6 243.2V247.39M270.1 243.73V248.26M270.6 244.22V248.06M271.1 243.8V248.2M271.6 242.33V247.99M272.1 243.38V247.15M272.6 244.37V247.91M273.1 243.24V246.83M273.6 243.62V247.25M274.1 243.15V246.88M274.6 241V245.69M275.1 241.06V245.67M275.6 240.96V245M276.1 242.37V247.02M276.6 241.85V246.61M277.1 242.32V245.25M277.6 241.49V245.9M278.1 243.03V245.92M278.6 242.84V246.31M279.1 243.34V247.97M279.6 245.25V248.96M280.1 244.99V250.27M280.6 244.93V249.33M281.1 245.09V249.36M281.6 245.41V249.63" stroke="#000" stroke-width="0.95" fill="none"/>
<path d="M39.1 243.99L40 237.99L40.9 243.99Z" stroke="none" stroke-width="1.3" fill="#000"/>
<path d="M59.1 245.73L60 239.73L60.9 245.73Z" stroke="none" stroke-width="1.3" fill="#000"/>
<path d="M69.1 245.66L70 234.66L70.9 245.66Z" stroke="none" stroke-width="1.3" fill="#000"/>
<path d="M80.1 245.03L81 251.03L81.9 245.03Z" stroke="none" stroke-width="1.3" fill="#000"/>
<path d="M87.1 245.76L88 254.76L88.9 245.76Z" stroke="none" stroke-width="1.3" fill="#000"/>
<path d="M90.1 245.47L91 257.47L91.9 245.47Z" stroke="none" stroke-width="1.3" fill="#000"/>
<path d="M93.1 249.67L94 259.67L94.9 249.67Z" stroke="none" stroke-width="1.3" fill="#000"/>
<path d="M96.1 244.46L97 253.46L97.9 244.46Z" stroke="none" stroke-width="1.3" fill="#000"/>
<path d="M119.1 246.61L120 239.61L120.9 246.61Z" stroke="none" stroke-width="1.3" fill="#000"/>
<path d="M127.1 245.57L128 237.57L128.9 245.57Z" stroke="none" stroke-width="1.3" fill="#000"/>
<path d="M149.1 244.52L150 237.52L150.9 244.52Z" stroke="none" stroke-width="1.3" fill="#000"/>
<path d="M160.1 244.89L161 234.89L161.9 244.89Z" stroke="none" stroke-width="1.3" fill="#000"/>
<path d="M177.1 245.27L178 233.27L178.9 245.27Z" stroke="none" stroke-width="1.3" fill="#000"/>
<path d="M179.1 244.65L180 229.65L180.9 244.65Z" stroke="none" stroke-width="1.3" fill="#000"/>
<path d="M181.1 245.6L182 258.6L182.9 245.6Z" stroke="none" stroke-width="1.3" fill="#000"/>
<path d="M184.1 246.37L185 256.37L185.9 246.37Z" stroke="none" stroke-width="1.3" fill="#000"/>
<path d="M193.1 246.52L194 241.52L194.9 246.52Z" stroke="none" stroke-width="1.3" fill="#000"/>
<path d="M212.1 246.46L213 240.46L213.9 246.46Z" stroke="none" stroke-width="1.3" fill="#000"/>
<path d="M231.1 245.09L232 238.09L232.9 245.09Z" stroke="none" stroke-width="1.3" fill="#000"/>
<path d="M234.1 245.6L235 251.6L235.9 245.6Z" stroke="none" stroke-width="1.3" fill="#000"/>
<path d="M249.1 245.02L250 240.02L250.9 245.02Z" stroke="none" stroke-width="1.3" fill="#000"/>
<path d="M269.1 245.53L270 239.53L270.9 245.53Z" stroke="none" stroke-width="1.3" fill="#000"/>
<path d="M275.1 243.64L276 235.64L276.9 243.64Z" stroke="none" stroke-width="1.3" fill="#000"/>
<line x1="29.1" y1="269.9" x2="29.1" y2="348.6" stroke="#333" stroke-width="0.9"/>
<line x1="26.2" y1="348.6" x2="281.6" y2="348.6" stroke="#333" stroke-width="1.3"/>
<line x1="26.2" y1="270.4" x2="29" y2="270.4" stroke="#000" stroke-width="1.1"/>
<text x="27" y="273.6" font-size="12" text-anchor="end" font-weight="bold" textLength="19.5" lengthAdjust="spacingAndGlyphs">100</text>
<line x1="26.2" y1="308.85" x2="29" y2="308.85" stroke="#000" stroke-width="1.1"/>
<text x="27" y="312.05" font-size="12" text-anchor="end" font-weight="bold" textLength="12.2" lengthAdjust="spacingAndGlyphs">50</text>
<line x1="26.2" y1="348.6" x2="29" y2="348.6" stroke="#000" stroke-width="1.1"/>
<text x="27" y="351.8" font-size="12" text-anchor="end" font-weight="bold" textLength="6.2" lengthAdjust="spacingAndGlyphs">0</text>
<text x="9" y="310.3" font-size="10.8" font-weight="bold" text-anchor="middle" transform="rotate(-90 9 310.3)" textLength="73" lengthAdjust="spacingAndGlyphs">Frequency (Hz)</text>
<text x="35.5" y="358.4" font-size="11" font-weight="bold" textLength="55.2" lengthAdjust="spacingAndGlyphs">Time (min)</text>
<line x1="33" y1="362.3" x2="95.9" y2="362.3" stroke="#000" stroke-width="1.3"/>
<path d="M98.9 362.3 L94.1 359.6 L94.1 365 Z" stroke="none" stroke-width="1.3" fill="#000"/>
<rect x="29.6" y="269.9" width="251.2" height="77.9" fill="url(#sg23)" stroke="none" stroke-width="1"/>
<g clip-path="url(#cp23)"><g filter="url(#blur)"><path d="M203 309.46h1v3.29h-1zM147 313.65h1v5.49h-1zM211 306.43h1v5.83h-1zM219 315h1v4.3h-1zM174 309.83h1v8.94h-1zM221 297.29h1v2.91h-1zM96 295.79h1v7.49h-1zM77 318.78h1v4.56h-1zM168 314.83h1v8.25h-1zM39 294.95h1v3.01h-1zM175 301.71h1v11.52h-1zM98 299.87h1v10.41h-1zM215 312.66h1v6.23h-1zM103 309.16h1v8.01h-1zM165 295.92h1v2.38h-1zM222 315.45h1v11.31h-1zM152 315.86h1v3.74h-1zM247 289.53h1v8.26h-1zM71 325.29h1v3.49h-1zM127 285h1v6.96h-1zM262 290.51h1v9.02h-1zM47 305.59h1v5.25h-1zM235 297.53h1v2.18h-1zM127 305.85h1v6.43h-1zM141 294.51h1v3.8h-1zM91 303.1h1v3.85h-1zM259 302.95h1v11.78h-1zM109 326h1v2.83h-1zM144 302.73h1v7.51h-1zM70 310.34h1v4.28h-1zM157 311.19h1v6.53h-1zM272 292.03h1v11.63h-1zM215 290.84h1v10.31h-1zM196 298.14h1v10.15h-1zM88 327.73h1v5.56h-1zM124 317.42h1v11.21h-1zM38 322.55h1v5.52h-1zM220 284.49h1v9.8h-1zM122 304.51h1v4.77h-1zM148 306.69h1v2.36h-1z" fill="#8a30f0" opacity="0.05"/><path d="M218 298.14h1v8.7h-1zM74 285.47h1v7.29h-1zM60 308.09h1v2.07h-1zM65 302h1v2.73h-1zM226 298h1v6.52h-1zM171 284.59h1v9.32h-1zM33 327.13h1v10.78h-1zM119 312.33h1v11.21h-1zM63 302.44h1v8.47h-1zM120 293.58h1v3.46h-1zM255 298.16h1v10.27h-1zM106 294.37h1v3.05h-1zM183 294.2h1v5.55h-1zM150 313.45h1v11.81h-1zM271 309.5h1v8.12h-1zM62 310.31h1v9.86h-1zM40 313.57h1v4.36h-1zM72 319.27h1v10.67h-1zM259 313.49h1v3.11h-1zM69 305.66h1v3.95h-1zM235 297.72h1v7.62h-1zM91 307.69h1v8.05h-1zM111 301.22h1v3.52h-1zM128 325.3h1v6.4h-1zM208 307.97h1v6.91h-1zM196 313.77h1v8.03h-1zM98 322.02h1v4.69h-1zM69 328.69h1v6.1h-1zM86 299.83h1v8.45h-1zM70 308.73h1v10.39h-1z" fill="#a038f0" opacity="0.05"/><path d="M146 309.33h1v9.36h-1zM206 312.1h1v8.95h-1zM107 318.21h1v2.63h-1zM206 328.08h1v2.82h-1zM67 297.29h1v4.87h-1zM57 322.71h1v7.6h-1zM276 306.92h1v7.41h-1zM45 282.54h1v8.86h-1zM189 313.55h1v3.21h-1zM94 298.32h1v10.73h-1zM130 302.25h1v2.81h-1zM245 289.72h1v4.94h-1zM92 325.46h1v2.11h-1zM32 280.85h1v10.38h-1zM214 297.85h1v8.45h-1zM244 309.15h1v3.07h-1zM107 326.37h1v6.77h-1zM184 308.85h1v9.66h-1zM222 292.23h1v5.61h-1zM130 287.88h1v3.49h-1zM143 317.36h1v6.63h-1zM276 308.95h1v10.22h-1zM133 319.1h1v2.58h-1zM267 312.63h1v4.36h-1zM89 304.15h1v8.9h-1zM38 308.67h1v7.57h-1zM171 285.72h1v10.1h-1zM241 305.16h1v9.4h-1zM161 307.39h1v11.01h-1zM154 314.04h1v10.36h-1zM119 311.02h1v2.96h-1zM174 293.6h1v10.94h-1zM161 300.81h1v4.76h-1zM222 310.89h1v3.22h-1zM252 327.9h1v3.52h-1zM168 300.56h1v5.99h-1zM29 289.3h1v9.43h-1zM165 311.61h1v4.49h-1zM99 294.6h1v10.2h-1zM98 302h1v4.34h-1zM177 311.17h1v6.64h-1zM230 308.28h1v9.27h-1zM133 310.39h1v5.68h-1zM147 289.44h1v7.24h-1zM155 317.89h1v4.37h-1zM41 316.48h1v3.9h-1zM237 295.62h1v10.57h-1zM155 306.28h1v7.93h-1zM198 290.01h1v11.29h-1zM39 293.07h1v3.08h-1zM77 320.16h1v3.64h-1z" fill="#b040f0" opacity="0.05"/><path d="M172 311.12h1v11.78h-1zM98 289.1h1v7.04h-1zM124 314.6h1v4.87h-1zM105 306.23h1v5.09h-1zM181 285.75h1v4.94h-1zM117 302.32h1v4.29h-1zM160 306.58h1v8.04h-1zM133 305.34h1v2.06h-1zM269 291.16h1v8.54h-1zM64 293.37h1v6.98h-1zM92 326.49h1v4.86h-1zM133 294.79h1v10.43h-1zM154 311.99h1v2.53h-1zM50 319.45h1v8.82h-1zM35 295.17h1v5.3h-1zM225 309.98h1v10.43h-1zM276 304.5h1v3.98h-1zM155 316.5h1v6.48h-1zM90 315.04h1v11.42h-1zM241 324.83h1v10.16h-1zM43 298.55h1v5.35h-1zM198 315.28h1v3.08h-1zM225 305.22h1v7.89h-1zM160 297.92h1v10.45h-1zM182 302.16h1v10.27h-1zM279 305.17h1v11.36h-1zM257 297.97h1v4.68h-1zM65 325.57h1v9.25h-1zM112 308.47h1v11.35h-1zM44 325.38h1v11.22h-1zM60 310.57h1v7.9h-1zM247 306.77h1v6.21h-1zM148 309.15h1v8.44h-1z" fill="#6a20f4" opacity="0.05"/><path d="M188 315.25h1v6.98h-1zM204 335.03h1v2.33h-1zM142 286.43h1v11.75h-1zM187 329.84h1v10.26h-1zM271 328.17h1v6.95h-1zM185 313.2h1v10.27h-1zM230 326.79h1v3.29h-1zM226 319.51h1v8.86h-1zM251 313.09h1v7.38h-1zM247 292.79h1v5.35h-1zM72 328.71h1v11.61h-1zM85 320.55h1v11.21h-1zM162 290.43h1v9.81h-1zM231 298.3h1v8.13h-1zM165 324.06h1v4.66h-1zM258 302.93h1v4.45h-1zM99 326.4h1v3.49h-1zM80 288.18h1v4.73h-1zM201 324.41h1v8.39h-1zM46 308.06h1v2.72h-1zM191 325.53h1v8.73h-1zM97 293.48h1v4.49h-1zM263 332.17h1v8.48h-1zM92 314.23h1v7.86h-1zM66 302.11h1v7.07h-1zM217 319h1v3.74h-1zM274 297.25h1v5.77h-1zM125 333.67h1v5.65h-1zM162 334.15h1v6.87h-1zM201 319.96h1v8.43h-1zM161 317.21h1v7.86h-1zM61 308.32h1v2.55h-1zM269 312.94h1v8.65h-1zM152 307.35h1v2.82h-1zM56 332.96h1v7.97h-1zM266 324.25h1v9.34h-1zM139 331.68h1v10.49h-1zM118 285.18h1v9.91h-1zM179 324.26h1v6.75h-1zM236 295.44h1v5.16h-1zM268 328.32h1v3.02h-1zM221 329.39h1v3.43h-1zM206 336.15h1v2.03h-1zM147 301.21h1v10.08h-1zM31 306.28h1v12h-1zM251 293.05h1v4.49h-1zM95 331.24h1v5.77h-1zM135 321.66h1v5.84h-1zM218 297.88h1v4.93h-1zM153 327.35h1v8.45h-1zM90 322.12h1v6.15h-1zM183 333.25h1v3.57h-1zM30 305.83h1v9.33h-1zM208 313.51h1v5.37h-1zM113 322.59h1v5.52h-1zM124 330.24h1v7.27h-1zM87 322.8h1v2.7h-1zM252 315.82h1v2.83h-1zM262 310.12h1v3.39h-1zM155 303.38h1v7.11h-1zM192 332.79h1v2.4h-1zM270 324.82h1v11.47h-1zM70 322.29h1v8.94h-1zM174 305.29h1v6h-1zM184 332.22h1v8.96h-1zM156 326.23h1v8.16h-1zM189 316.23h1v6.06h-1zM257 334.05h1v6.83h-1zM170 316.33h1v8.96h-1zM167 321.34h1v3.01h-1zM209 317.37h1v10.15h-1zM54 303.01h1v8.68h-1zM174 301.73h1v9.04h-1zM70 330.87h1v6.58h-1zM78 301.29h1v2.58h-1zM35 317.6h1v4.22h-1zM173 317.98h1v9.19h-1zM68 313.7h1v6.01h-1zM214 334.54h1v5.86h-1zM136 289.16h1v7.58h-1zM171 320.17h1v8.7h-1zM38 333.71h1v2.89h-1zM231 296.27h1v11.61h-1zM47 314.07h1v7.59h-1zM52 289.43h1v3.61h-1zM72 311.97h1v2.78h-1zM273 323.72h1v4.86h-1zM59 310.32h1v9.93h-1zM112 309.74h1v5.11h-1zM230 323.37h1v4.42h-1zM120 314.52h1v2.2h-1zM107 309.42h1v11.67h-1zM241 324.54h1v4.96h-1zM33 297.03h1v9.35h-1zM269 323.84h1v10.45h-1zM109 314.4h1v5.54h-1zM190 313.6h1v8.74h-1zM149 310.83h1v4.4h-1zM158 314.87h1v6.96h-1zM223 319.59h1v2.8h-1zM206 323.27h1v11.27h-1zM110 322.34h1v2.6h-1zM197 332.31h1v9.33h-1zM48 310.67h1v10.81h-1zM210 322.73h1v2.74h-1zM225 313.44h1v2.94h-1zM75 318.76h1v7.53h-1zM138 322.91h1v8.73h-1zM253 286.63h1v4.02h-1zM216 297.87h1v9.81h-1zM184 320.46h1v9.06h-1zM76 307.38h1v6.09h-1zM193 292.18h1v4.69h-1zM41 300.71h1v11.74h-1zM32 328.25h1v9.55h-1zM190 316.18h1v11.3h-1zM40 328.12h1v8.54h-1zM146 326.4h1v9h-1zM184 312.13h1v8.35h-1zM170 321.5h1v8.15h-1zM191 328.65h1v5.89h-1zM214 311.95h1v8.77h-1zM32 307.72h1v6.05h-1zM107 324.17h1v10.23h-1zM235 318.85h1v8.7h-1z" fill="#b040f0" opacity="0.1"/><path d="M112 306.35h1v11.92h-1zM230 316.29h1v3.13h-1zM173 334.03h1v6.43h-1zM270 330.68h1v11.2h-1zM162 297.81h1v6.87h-1zM56 331.32h1v5.81h-1zM137 307.99h1v5.05h-1zM178 324.88h1v9.82h-1zM112 301.35h1v9.13h-1zM186 311.48h1v3.73h-1zM246 300.31h1v2.81h-1zM172 309.48h1v3.81h-1zM83 300.11h1v11.05h-1zM65 318.98h1v8.88h-1zM47 315.87h1v5.25h-1zM177 331.22h1v7.84h-1zM75 329.57h1v4.01h-1zM66 322.94h1v8.99h-1zM68 323.69h1v2.95h-1zM154 323.04h1v9.93h-1zM215 288.46h1v4.02h-1zM239 330.23h1v3.51h-1zM228 325.7h1v11.93h-1zM206 320.17h1v4.92h-1zM93 317.87h1v5.42h-1zM136 333.72h1v2.53h-1zM261 290.74h1v5.21h-1zM219 317.08h1v7.39h-1zM122 332.47h1v9.53h-1zM44 312.28h1v6.8h-1zM113 323.22h1v9.62h-1zM251 327.06h1v7.78h-1zM53 328.39h1v2.91h-1zM104 298.33h1v10.27h-1zM214 327.9h1v8.18h-1zM245 325.56h1v4.79h-1zM218 331.69h1v8.57h-1zM261 328.49h1v9.97h-1zM200 328.18h1v9.54h-1zM257 306.11h1v11.06h-1zM160 287.74h1v7.79h-1zM176 301.87h1v7.76h-1zM270 292.44h1v11.4h-1zM90 331.43h1v3.86h-1zM159 323.62h1v9.93h-1zM223 309.84h1v5.49h-1zM182 325.8h1v9.24h-1zM182 297.07h1v9.72h-1zM62 332.29h1v4.21h-1zM183 320.69h1v4.05h-1zM140 334.02h1v4.63h-1zM91 317.96h1v9.31h-1zM113 332.49h1v11.66h-1zM254 316.29h1v4.97h-1zM165 316.63h1v3.21h-1zM148 298.38h1v5.83h-1zM153 327.81h1v2.01h-1zM234 301.63h1v7.03h-1zM35 320.4h1v5.36h-1zM192 314.99h1v5.93h-1zM69 312.94h1v3.63h-1zM208 307.73h1v7.47h-1zM278 306.11h1v11.01h-1zM30 305.53h1v8.52h-1zM121 333.82h1v4.97h-1zM40 315.68h1v4.26h-1zM139 333.23h1v4.14h-1zM184 321.61h1v5.73h-1zM82 299.18h1v4.01h-1zM208 323.7h1v7.6h-1zM183 305.96h1v6.79h-1zM242 324.57h1v11.7h-1zM58 326.61h1v2.23h-1zM187 331h1v3.24h-1zM258 319.23h1v9.03h-1zM161 315.35h1v6.61h-1zM142 315.76h1v6.02h-1zM187 331.58h1v11.24h-1zM135 320.08h1v8.34h-1zM133 334.14h1v3.47h-1zM143 320.5h1v10.76h-1zM83 295.27h1v2.5h-1zM237 287.66h1v7.8h-1zM78 290.71h1v2.55h-1zM203 299.23h1v7.36h-1zM188 334.07h1v5.22h-1zM34 308.85h1v7.42h-1zM251 314.26h1v7.05h-1zM73 316.28h1v11.27h-1zM80 315.72h1v8.76h-1zM205 307.12h1v8.63h-1zM56 328.71h1v11.03h-1zM153 319.89h1v10.16h-1zM276 294.18h1v7.23h-1zM241 300.27h1v3.69h-1zM100 316.63h1v3.16h-1zM196 286.07h1v11.07h-1zM87 318.55h1v7.69h-1zM117 316.97h1v6.37h-1zM271 309.95h1v6.78h-1zM104 321.96h1v5.3h-1zM81 320.23h1v7.34h-1zM190 301.04h1v8.96h-1zM129 289.87h1v6.8h-1zM157 333h1v5.6h-1zM208 309.92h1v5.42h-1zM117 327.45h1v3.05h-1zM142 286.33h1v9.77h-1zM187 318.11h1v5.81h-1zM168 293.53h1v8.81h-1zM88 287.43h1v9.25h-1zM167 327.82h1v6.9h-1zM211 292.15h1v6.83h-1zM43 301.8h1v10.72h-1zM35 321.26h1v9.26h-1zM64 296.74h1v2.21h-1zM44 324.81h1v2.67h-1zM228 311.29h1v4.44h-1zM162 325.7h1v3.45h-1zM36 310.84h1v6.86h-1zM80 311.43h1v3.85h-1zM187 304.5h1v3.64h-1zM212 311.52h1v11.47h-1zM174 315.32h1v8.87h-1zM204 302.63h1v11.68h-1zM194 325.94h1v5.43h-1zM231 300.15h1v6.02h-1zM99 328.4h1v7.93h-1zM166 314.31h1v3.22h-1zM120 323.88h1v3.21h-1zM88 292.95h1v4.94h-1zM44 303.52h1v8.55h-1zM150 318.48h1v11.96h-1zM91 304.05h1v7.34h-1zM142 323.46h1v2.07h-1zM248 285.31h1v11.11h-1zM53 298.86h1v6.92h-1zM89 297.05h1v10.95h-1zM278 311.69h1v9.96h-1zM275 300.42h1v4.7h-1zM230 308.77h1v8.76h-1zM233 310.76h1v8.72h-1zM105 308.62h1v10.61h-1zM279 295.45h1v4.41h-1z" fill="#a038f0" opacity="0.1"/><path d="M225 301.97h1v7.94h-1zM51 332.56h1v9.5h-1zM106 306.54h1v6.83h-1zM210 332.31h1v3.44h-1zM173 293.58h1v11.81h-1zM97 299.06h1v11.98h-1zM138 306.97h1v7.95h-1zM233 321.27h1v10.07h-1zM109 310.63h1v10.45h-1zM127 322.91h1v11.63h-1zM190 311.77h1v3.88h-1zM165 333.26h1v8.08h-1zM95 298.6h1v10.57h-1zM36 284.21h1v8.45h-1zM211 325.09h1v6.36h-1zM87 309.8h1v7.84h-1zM187 319.45h1v7.91h-1zM246 328.62h1v11.99h-1zM255 317.56h1v2.94h-1zM65 321.45h1v2h-1zM240 326.35h1v9.41h-1zM160 335.69h1v2.51h-1zM147 292.94h1v9.57h-1zM36 314.82h1v3.22h-1zM195 334.21h1v4.79h-1zM246 323.27h1v5.07h-1zM133 333.19h1v4.46h-1zM64 312.11h1v7.24h-1zM198 303.6h1v8.32h-1zM242 324.55h1v9.22h-1zM203 295.08h1v9.51h-1zM186 320.27h1v6.14h-1zM176 291.97h1v3.33h-1zM274 320.33h1v5.21h-1zM157 299.23h1v9.86h-1zM38 331.11h1v5.09h-1zM245 314.13h1v6.91h-1zM88 303.27h1v2.53h-1zM120 292.61h1v2.27h-1zM224 313.76h1v4.31h-1zM153 331.43h1v3.01h-1zM102 309.27h1v3.43h-1zM199 331.51h1v11.67h-1zM30 316.26h1v5.32h-1zM48 315.52h1v8.94h-1zM95 294.04h1v11.45h-1zM274 311.32h1v9.53h-1zM155 318.12h1v11.95h-1zM190 291.61h1v11.18h-1zM207 308.1h1v8.27h-1zM147 336.13h1v2.72h-1zM153 309.18h1v7.6h-1zM32 335.85h1v3.21h-1zM65 305.86h1v2.88h-1zM92 306.08h1v4.82h-1zM110 304.77h1v10.45h-1zM196 312.84h1v10.74h-1zM41 315h1v3.44h-1zM98 317.54h1v6.45h-1zM258 331.34h1v4.8h-1zM133 298.49h1v9.2h-1zM140 321.36h1v3.2h-1zM178 317.49h1v8.93h-1zM210 306.29h1v7.2h-1zM91 304.46h1v7.29h-1zM49 318.92h1v7.61h-1zM56 310.32h1v6.78h-1zM260 332.85h1v8.6h-1zM44 302.4h1v2.97h-1zM152 321.85h1v2.48h-1zM261 301.92h1v4.63h-1zM259 314.35h1v10.36h-1zM45 318.09h1v11.16h-1zM82 298.5h1v9.36h-1zM196 315.23h1v10.92h-1zM265 302.64h1v3.55h-1zM47 302.43h1v8.23h-1zM138 316.27h1v4.17h-1zM191 311.26h1v10.1h-1zM77 325.15h1v6.82h-1zM259 299.87h1v3.69h-1zM215 308.78h1v9.57h-1zM176 330.52h1v8.35h-1zM203 313.7h1v3.62h-1zM116 334.03h1v7.16h-1zM230 309.6h1v4.04h-1zM111 324.37h1v4.34h-1zM80 316.78h1v6.02h-1zM201 316.1h1v10.21h-1zM49 301.01h1v2.79h-1zM131 289.79h1v11.08h-1zM265 317.73h1v10.66h-1zM121 289.86h1v11.74h-1zM55 300.88h1v8.2h-1zM42 302.63h1v2.72h-1zM106 310.41h1v11.69h-1zM29 333.4h1v3.65h-1zM252 291.11h1v7.44h-1zM197 300.72h1v4.89h-1zM104 324.99h1v6.47h-1zM46 320.99h1v3.52h-1zM68 333.07h1v2.54h-1zM110 318.04h1v8.32h-1zM103 306.97h1v5.12h-1zM246 297.41h1v10.16h-1zM155 297.7h1v8.23h-1zM176 312.22h1v6.81h-1zM223 321.52h1v9.12h-1zM274 316.64h1v9.34h-1zM222 330.15h1v7.92h-1zM240 302.78h1v11.34h-1zM248 303.6h1v10.82h-1zM153 318.76h1v11.41h-1zM113 317.56h1v9.83h-1zM279 293.06h1v3.83h-1zM60 330.7h1v4.92h-1zM66 305.35h1v4.15h-1zM196 321.94h1v11.25h-1zM176 334.21h1v4.56h-1zM167 323.86h1v11.37h-1zM260 327.07h1v4.59h-1zM233 301.28h1v6.49h-1zM88 294.62h1v5.98h-1zM233 323.16h1v5.22h-1zM260 290.91h1v7.68h-1zM167 305.65h1v5.37h-1zM60 325.88h1v5.97h-1zM48 286.73h1v3h-1zM122 300.85h1v10.23h-1z" fill="#8a30f0" opacity="0.1"/><path d="M146 315.89h1v11.67h-1zM69 328.01h1v8.68h-1zM188 294.05h1v9.9h-1zM253 328.63h1v6.46h-1zM188 300.47h1v3.16h-1zM159 308.15h1v3.29h-1zM206 319.36h1v6.95h-1zM142 320.38h1v8.1h-1zM196 302.91h1v7.45h-1zM44 293.55h1v3.49h-1zM117 332.94h1v2.5h-1zM236 306.9h1v8.53h-1zM262 311.33h1v9.3h-1zM140 297.57h1v11.06h-1zM69 328.57h1v4.43h-1zM219 333.87h1v7.63h-1zM55 315.67h1v3.53h-1zM237 311.71h1v7.67h-1zM201 317.4h1v3.21h-1zM99 328.34h1v8.14h-1zM143 327.24h1v7.44h-1zM91 304.23h1v6.07h-1zM81 310.32h1v8.18h-1zM75 332.75h1v8.11h-1zM38 304.92h1v10.52h-1zM242 294.38h1v5.62h-1zM92 285.22h1v10.44h-1zM261 324.88h1v7.3h-1zM169 324.73h1v5.61h-1zM137 297.25h1v7.25h-1zM40 298.94h1v11.41h-1zM203 329.86h1v3.47h-1zM240 324.81h1v10.76h-1zM266 305.59h1v2.67h-1zM149 326.3h1v3.96h-1zM88 294.66h1v10.05h-1zM222 333.62h1v3.72h-1zM151 288.25h1v9.79h-1zM164 325.28h1v11.68h-1zM37 324.52h1v2.23h-1zM154 310.42h1v5.97h-1zM225 325.27h1v10.61h-1zM213 315.79h1v8.57h-1zM63 321.75h1v7.39h-1zM113 303.59h1v9.46h-1zM42 314.9h1v9.01h-1zM143 295.57h1v9.38h-1zM275 307.96h1v7.03h-1zM82 328.11h1v8.93h-1zM98 321.32h1v9.45h-1zM206 331.98h1v7.6h-1zM210 307.5h1v8.6h-1zM226 334.59h1v3.74h-1zM247 334.12h1v5.03h-1zM84 328.77h1v5.09h-1zM96 315.84h1v7.66h-1zM169 299.28h1v8.83h-1zM234 326.66h1v8.72h-1zM223 305.4h1v3.13h-1zM234 322.31h1v7.36h-1zM143 316.19h1v10.38h-1zM190 334.45h1v2.87h-1zM158 295.24h1v2.91h-1zM152 303.74h1v5.8h-1zM144 308.15h1v5.08h-1zM116 291.21h1v4.95h-1zM153 296.98h1v9.32h-1zM199 327.95h1v4.29h-1zM253 320.85h1v5.92h-1zM120 336.31h1v4.01h-1zM65 309.97h1v7.67h-1zM220 330.33h1v5.84h-1zM207 335.65h1v3.35h-1zM41 296.61h1v3.07h-1zM86 331.12h1v4.42h-1zM83 315.75h1v5.13h-1zM99 336.99h1v2.33h-1zM116 298.8h1v8.1h-1zM56 322.77h1v7.84h-1zM241 330.41h1v11.77h-1zM254 317.35h1v3h-1zM180 322.65h1v7.9h-1zM48 302.06h1v8.92h-1zM83 327.13h1v5.58h-1zM230 334.33h1v3.55h-1zM136 320.38h1v8.83h-1zM69 307.22h1v4.61h-1zM184 297.37h1v8.94h-1zM139 313.24h1v7.41h-1zM116 297.16h1v10.05h-1zM79 328.31h1v2.27h-1zM278 328.27h1v11.98h-1zM229 304.67h1v11.35h-1zM234 323.07h1v9.35h-1zM226 320.86h1v4.63h-1zM151 331.35h1v9.12h-1zM203 302.14h1v8.5h-1zM161 317.56h1v5.63h-1zM201 324.96h1v3.4h-1zM279 316.02h1v11.12h-1zM155 322.77h1v8.29h-1zM124 332.53h1v7.47h-1zM246 296.2h1v8.07h-1zM149 313.11h1v4.92h-1zM235 317.06h1v9.96h-1zM196 319.91h1v10.4h-1zM134 298h1v10.78h-1zM68 330.58h1v7.95h-1zM48 313.21h1v10.65h-1zM263 302.58h1v8.1h-1zM279 333.76h1v7.87h-1zM156 303.97h1v6.07h-1zM146 330.17h1v2.51h-1zM217 316.86h1v7h-1zM241 297.48h1v9.26h-1zM185 320.4h1v9.4h-1zM227 303.15h1v11.52h-1zM250 332.64h1v8.51h-1zM63 325.88h1v6.53h-1zM73 307.94h1v4.47h-1zM46 301.19h1v9.79h-1zM219 320.4h1v5.13h-1zM117 327.34h1v10.6h-1zM89 325.04h1v5.58h-1zM50 322.97h1v3.59h-1zM182 291.64h1v10.13h-1zM195 311.56h1v2.31h-1zM191 304.4h1v10.8h-1zM88 307.78h1v5.68h-1zM161 322.92h1v3.17h-1zM132 320.35h1v9.16h-1zM148 295.57h1v9.99h-1zM247 314.54h1v9.24h-1zM221 319.88h1v11.92h-1zM157 291.43h1v10.43h-1zM261 303.58h1v6.56h-1z" fill="#6a20f4" opacity="0.1"/><path d="M243 319.31h1v4.18h-1zM34 303.6h1v8.24h-1zM54 327.7h1v9.6h-1zM98 317.66h1v6.4h-1zM265 302.27h1v3.37h-1zM89 301.89h1v7.89h-1zM205 295.12h1v8.26h-1zM32 333.86h1v4.42h-1zM110 290.39h1v4.06h-1zM202 315.11h1v5.95h-1zM239 332.82h1v6.52h-1zM137 318.93h1v9.56h-1zM258 321.2h1v8.64h-1zM274 294.98h1v10.81h-1zM234 324.81h1v3.81h-1zM223 319.05h1v10.39h-1zM135 324.92h1v10.85h-1zM208 296.74h1v7h-1zM265 334.94h1v2.27h-1zM134 329.76h1v9.71h-1zM236 301h1v6.99h-1zM62 309.07h1v8.27h-1zM145 307.96h1v3.33h-1zM41 335.8h1v5.07h-1zM172 324.56h1v3h-1zM112 326.91h1v2.94h-1zM153 330.63h1v3.03h-1zM78 305.59h1v7.13h-1zM112 324.22h1v10.94h-1zM225 331.89h1v9.84h-1zM137 332.4h1v2.94h-1zM264 306.13h1v8.6h-1zM108 308.02h1v3.82h-1zM32 317.83h1v3.21h-1zM156 330.58h1v4.75h-1zM274 329.93h1v11.45h-1zM237 303.73h1v2.62h-1zM94 296.8h1v11.31h-1zM63 298.93h1v7.92h-1zM140 298.21h1v11.29h-1zM73 330.63h1v8.3h-1zM263 296.84h1v8.95h-1zM110 315.56h1v10.33h-1zM100 311.12h1v10.51h-1zM219 289.04h1v11.97h-1zM66 330.13h1v7.3h-1zM277 304.69h1v3.19h-1zM265 296.42h1v11.73h-1zM63 323.32h1v10.14h-1zM194 304.61h1v7.88h-1zM151 304.37h1v10.8h-1zM181 332.07h1v9.86h-1zM45 320.74h1v7.87h-1zM178 331.98h1v10.26h-1zM223 330.18h1v10.19h-1zM83 312.94h1v2.21h-1zM139 318.23h1v5.42h-1zM62 317.48h1v8.77h-1zM274 329.06h1v5.58h-1zM200 321.74h1v5.88h-1zM79 306.99h1v8.54h-1zM213 323.85h1v10.47h-1zM132 312.5h1v9.16h-1zM57 315.91h1v7.43h-1zM236 321.43h1v6.4h-1zM140 321.77h1v8.02h-1zM189 337.25h1v2.24h-1zM62 320.69h1v11.3h-1zM118 312.62h1v9.19h-1zM45 317.25h1v8.63h-1zM190 297.29h1v7.15h-1zM251 333.92h1v7.41h-1zM197 331.18h1v6.99h-1zM139 312.04h1v11.67h-1zM235 299.21h1v11.02h-1zM46 332.96h1v9.38h-1zM32 325.96h1v9.51h-1zM72 294.99h1v3.42h-1zM166 319.09h1v7.33h-1zM225 334.63h1v5.11h-1zM114 327.13h1v8.85h-1zM67 312.19h1v10.38h-1zM109 331.63h1v8.2h-1zM221 328.04h1v9.4h-1zM263 336.39h1v3.52h-1zM270 329.03h1v6.17h-1zM275 304.89h1v3.46h-1zM105 328.77h1v8.35h-1zM150 300.75h1v6.79h-1zM247 335.17h1v5.11h-1zM142 314.47h1v5.06h-1zM133 310.71h1v5.18h-1zM114 291.09h1v6.2h-1zM201 314.76h1v5.47h-1zM58 296.89h1v3.47h-1zM217 332.47h1v3.28h-1zM42 308.04h1v10.08h-1zM83 332.75h1v10.54h-1zM230 319.89h1v5.15h-1zM114 316.38h1v6.02h-1zM133 328.59h1v10.44h-1zM49 317.19h1v7.22h-1zM43 327.91h1v4.8h-1zM34 319.86h1v10.48h-1zM237 300.53h1v9.81h-1zM37 311.97h1v10.93h-1zM93 322.56h1v6.18h-1zM142 331.49h1v3.73h-1zM126 327.1h1v4.1h-1zM171 297.1h1v9.24h-1zM134 308.34h1v11.27h-1zM187 316.32h1v4.57h-1zM183 319.61h1v8.44h-1zM271 296.36h1v10h-1zM82 304.5h1v6.36h-1zM111 319.09h1v11.63h-1zM211 322.16h1v5.32h-1z" fill="#6a20f4" opacity="0.15"/><path d="M185 325.6h1v2.18h-1zM69 316.01h1v9.45h-1zM86 322.83h1v5.55h-1zM88 333.96h1v2.26h-1zM165 315.14h1v11.61h-1zM179 318.85h1v2.14h-1zM221 304.88h1v10.18h-1zM93 312.87h1v10.56h-1zM119 332.27h1v5.04h-1zM82 301.6h1v4.51h-1zM74 306.45h1v8.61h-1zM110 333.49h1v8.73h-1zM113 330.91h1v5.29h-1zM256 313.79h1v2.81h-1zM107 309.99h1v5.22h-1zM152 311.58h1v6.21h-1zM77 324.64h1v6.95h-1zM50 332.27h1v4.26h-1zM142 326.37h1v7.08h-1zM93 292.63h1v5.56h-1zM184 309.43h1v3.37h-1zM244 301.37h1v7.27h-1zM249 321.09h1v6.09h-1zM187 330.22h1v5.27h-1zM77 328.92h1v5.68h-1zM110 308.34h1v4.59h-1zM255 312.45h1v5.93h-1zM184 298.32h1v10.19h-1zM65 300.79h1v9.22h-1zM105 330.99h1v6.45h-1zM159 326.28h1v6.37h-1zM188 326.94h1v6.94h-1zM103 294.69h1v8.63h-1zM242 297.53h1v9.49h-1zM265 329.58h1v6.8h-1zM251 323.19h1v3.5h-1zM114 308.41h1v4.29h-1zM45 290.82h1v6.93h-1zM231 325.16h1v2.87h-1zM132 322.66h1v10.08h-1zM185 333.11h1v10.38h-1zM167 329.15h1v7.42h-1zM211 325.64h1v11.32h-1zM139 316.7h1v2.66h-1zM82 308.05h1v3.99h-1zM52 308.8h1v8.93h-1zM269 319.71h1v5.17h-1zM105 299.51h1v6.99h-1zM263 305.32h1v6.49h-1zM101 313.42h1v10.84h-1zM215 327.91h1v5.66h-1zM253 324.5h1v6.44h-1zM189 316.97h1v6.68h-1zM242 310.99h1v6.19h-1zM78 322.99h1v7.82h-1zM130 316.54h1v9.18h-1zM104 312.68h1v3.43h-1zM173 327.83h1v5.2h-1zM197 310.39h1v8.67h-1zM200 318.8h1v6.15h-1zM49 335.76h1v3.42h-1zM175 297.33h1v5.25h-1zM226 315.59h1v7.79h-1zM55 321.01h1v10.51h-1zM92 331.72h1v7.91h-1zM47 325.05h1v6.16h-1zM106 327.43h1v6.14h-1zM163 303.38h1v4.13h-1zM136 304.72h1v3.68h-1zM219 309.41h1v5.47h-1zM29 328.27h1v6.97h-1zM113 305.89h1v6.5h-1zM151 301.94h1v6.55h-1zM277 323.82h1v2.12h-1zM260 321.06h1v10.75h-1zM135 319.19h1v5.08h-1zM205 302.27h1v6.2h-1zM204 329.02h1v6.02h-1zM105 323.02h1v4.85h-1zM223 320.18h1v5.43h-1zM180 323.4h1v7.69h-1zM200 306.53h1v2.91h-1zM190 310.31h1v10.34h-1zM94 324.89h1v8.31h-1zM84 323.16h1v5.98h-1zM264 310.15h1v10.29h-1zM264 293.18h1v9.76h-1zM254 331.91h1v2.54h-1zM252 310.25h1v3.91h-1zM133 333.35h1v8.75h-1zM132 306.67h1v10.43h-1zM95 319.75h1v4.39h-1zM45 325.86h1v11.88h-1zM140 322.11h1v4.57h-1zM177 303.47h1v8.26h-1zM233 312.27h1v5.52h-1zM71 312.55h1v10.86h-1zM58 324.93h1v11.81h-1zM132 323.59h1v9.58h-1zM251 331.2h1v6.1h-1zM275 332.98h1v5.89h-1zM220 328.4h1v2.95h-1zM107 319.36h1v9.57h-1zM242 300.93h1v10.36h-1zM133 317.85h1v8.47h-1zM186 327.15h1v10.58h-1zM97 332.17h1v11.82h-1zM121 307.78h1v4.67h-1zM124 320.83h1v3.27h-1zM102 332.89h1v2.55h-1zM67 319.13h1v9.56h-1zM143 328.47h1v4.85h-1zM37 299.91h1v10.54h-1zM168 312.41h1v10.96h-1z" fill="#a038f0" opacity="0.15"/><path d="M127 333.94h1v7.78h-1zM207 316.55h1v6.34h-1zM188 319.4h1v6.85h-1zM198 322.12h1v10.25h-1zM114 320.49h1v5.78h-1zM51 302.11h1v11.51h-1zM252 325.84h1v6.76h-1zM100 316.01h1v11.81h-1zM273 314.08h1v10.92h-1zM119 326.2h1v11.27h-1zM175 312.48h1v3.25h-1zM161 323.42h1v5.78h-1zM267 325.59h1v6.68h-1zM105 325.12h1v6.15h-1zM211 322.7h1v4.93h-1zM278 301.99h1v9.69h-1zM102 324.51h1v3.01h-1zM167 321.67h1v10.43h-1zM243 325.91h1v3.77h-1zM121 316.81h1v11.9h-1zM68 331.32h1v11.33h-1zM98 297.06h1v4.95h-1zM264 319.91h1v5.87h-1zM137 324.11h1v3.04h-1zM78 311.04h1v5.62h-1zM179 300.09h1v2.22h-1zM237 318.72h1v7.94h-1zM160 317.35h1v2.01h-1zM206 329.18h1v6.31h-1zM121 308.42h1v11.05h-1zM57 326.34h1v7.27h-1zM150 320.5h1v11.48h-1zM239 324.97h1v2.75h-1zM47 329.46h1v7.64h-1zM219 312h1v8.29h-1zM157 318.24h1v5.56h-1zM271 334.59h1v5.85h-1zM191 332.7h1v2.03h-1zM108 329.25h1v11.83h-1zM119 297.11h1v11.08h-1zM224 295.02h1v10.08h-1zM154 298.1h1v4.26h-1zM104 316.69h1v11.69h-1zM257 299.02h1v10.81h-1zM95 311.71h1v7.88h-1zM37 326.93h1v3.67h-1zM87 294.88h1v9.16h-1zM201 312.95h1v5.27h-1zM202 296.69h1v7.52h-1zM166 301.72h1v10.32h-1zM265 331.78h1v3.02h-1zM95 304.43h1v8.88h-1zM101 325.36h1v6.35h-1zM163 327.06h1v3.29h-1zM128 321.13h1v8.1h-1zM33 325.33h1v2.57h-1zM33 312.79h1v10.63h-1zM109 314.91h1v9.6h-1zM121 322.03h1v3.28h-1zM43 324.07h1v10.43h-1zM31 336.93h1v3h-1zM200 325.82h1v9.29h-1zM84 329.53h1v8.59h-1zM118 320.06h1v10.68h-1zM94 314.06h1v9.22h-1zM180 333.2h1v2.84h-1zM110 329.73h1v10.3h-1zM125 325.55h1v9.48h-1zM190 319.04h1v11.76h-1zM199 313.48h1v11.67h-1zM232 318.72h1v4.07h-1zM183 321.76h1v5.37h-1zM205 316.25h1v10.53h-1zM192 329.77h1v3.54h-1zM264 328.36h1v4.93h-1zM66 323h1v2.96h-1zM273 301.06h1v10.88h-1zM184 331.02h1v2.9h-1zM103 296.71h1v8.85h-1zM198 317.98h1v6.13h-1zM216 324.06h1v10.36h-1zM40 314.89h1v3.1h-1zM204 326.16h1v3.98h-1zM209 327.5h1v10.9h-1zM182 322.61h1v10.16h-1zM77 336.01h1v3.27h-1zM234 295.62h1v11.84h-1zM166 322.65h1v3.83h-1zM161 316.07h1v11.33h-1zM263 328.01h1v3.11h-1zM39 325.78h1v2.03h-1zM219 306.14h1v11.83h-1zM238 296.08h1v4.61h-1zM274 301.86h1v6.37h-1zM261 326.47h1v6.13h-1zM124 327.73h1v7.44h-1zM58 303.78h1v7.17h-1zM35 306.11h1v6.97h-1zM68 304.53h1v5.57h-1zM122 292.49h1v11.89h-1zM155 325.26h1v10.37h-1zM61 304.86h1v3.95h-1zM169 307.07h1v2.15h-1zM142 313.77h1v7.21h-1zM159 330.89h1v5.28h-1zM167 312.76h1v11.06h-1zM262 330.93h1v8.93h-1zM180 303.11h1v7.59h-1zM217 309.18h1v10.55h-1zM75 292.99h1v10.04h-1zM152 332.99h1v10.77h-1zM45 323.41h1v7.75h-1zM237 321.83h1v3.95h-1zM58 332.71h1v7.5h-1zM34 300.21h1v3.87h-1zM85 328.69h1v11.28h-1zM145 301.66h1v6.41h-1zM150 303.95h1v8.99h-1z" fill="#8a30f0" opacity="0.15"/><path d="M225 320.66h1v9.46h-1zM278 323.07h1v8.72h-1zM82 329.31h1v3.61h-1zM146 329.4h1v6.19h-1zM74 321.72h1v8.69h-1zM98 325.81h1v9.86h-1zM188 309.53h1v7.08h-1zM245 327.25h1v8.67h-1zM183 317.49h1v8.24h-1zM244 326.85h1v3.72h-1zM179 323.63h1v4.13h-1zM232 307.05h1v6.15h-1zM247 300.83h1v5.06h-1zM189 303.28h1v6.65h-1zM102 332.75h1v2.9h-1zM102 310.12h1v6.94h-1zM136 322.7h1v8.57h-1zM243 316.23h1v3.99h-1zM130 317.82h1v7.75h-1zM93 330.9h1v10.16h-1zM218 309.03h1v7.01h-1zM245 310.47h1v2.67h-1zM175 328.89h1v7.85h-1zM64 305.52h1v6.64h-1zM83 322.61h1v9.02h-1zM34 327.5h1v6.63h-1zM218 292.37h1v9.68h-1zM217 319.33h1v11.34h-1zM137 306.2h1v9.35h-1zM53 331.88h1v9h-1zM91 328.68h1v2.08h-1zM230 314.28h1v4.27h-1zM249 313.03h1v7.81h-1zM275 308.2h1v8.3h-1zM194 334.38h1v2.85h-1zM62 318.3h1v3.71h-1zM240 299.02h1v11.35h-1zM138 324.45h1v6.93h-1zM273 331.08h1v4.47h-1zM241 321h1v10.28h-1zM270 325.19h1v10.27h-1zM247 311.98h1v3.31h-1zM120 316.9h1v4.97h-1zM185 317.44h1v10.78h-1zM226 320.03h1v7.99h-1zM188 300.65h1v2.24h-1zM68 319.21h1v11.08h-1zM118 314.89h1v10.56h-1zM113 326.86h1v11.47h-1zM85 314.02h1v3.54h-1zM161 325.14h1v10.58h-1zM93 305.34h1v10.52h-1zM81 322.75h1v6.72h-1zM88 318.92h1v11.45h-1zM119 328.78h1v5.19h-1zM166 322.22h1v9.8h-1zM190 306.64h1v8.76h-1zM256 315.81h1v10.43h-1zM245 322.21h1v8.57h-1zM144 317.76h1v2.99h-1zM115 319.93h1v8.46h-1zM266 318.8h1v5.28h-1zM270 297.17h1v6.61h-1zM100 309.42h1v2h-1zM207 312.64h1v4.78h-1zM101 316.42h1v10.24h-1zM94 316.3h1v11.49h-1zM74 331.52h1v10.91h-1zM279 324.57h1v5.78h-1zM126 331.89h1v2.04h-1zM220 327.24h1v5.4h-1zM52 317.33h1v2.17h-1zM257 318.81h1v9.18h-1zM137 326.99h1v5.2h-1zM184 311.59h1v3.55h-1zM166 329.68h1v7.78h-1zM118 329.06h1v4.24h-1zM36 326.85h1v11.05h-1zM116 304.38h1v11.88h-1zM231 316.54h1v4.07h-1zM182 327.53h1v3.98h-1zM90 292.48h1v8.71h-1zM246 331.2h1v4.57h-1zM237 334.19h1v7.15h-1zM185 304.02h1v11.45h-1zM181 329.05h1v7.22h-1zM233 306.51h1v3.74h-1zM84 331.98h1v7.5h-1zM98 317.29h1v4.29h-1zM201 293.61h1v8.15h-1zM267 331.05h1v8.4h-1zM117 335.87h1v4.56h-1zM66 317.88h1v7.27h-1zM136 302.78h1v4.27h-1zM273 320.7h1v5.77h-1zM84 291.04h1v5.06h-1zM258 324.22h1v6.29h-1zM166 322.79h1v11.14h-1zM146 308.73h1v7.8h-1zM128 323.53h1v11.83h-1zM232 319.03h1v2.08h-1zM117 300.53h1v5.02h-1zM245 315.73h1v10.17h-1zM97 329.85h1v3.66h-1zM171 312.79h1v4.3h-1zM64 307.18h1v11.25h-1zM264 303.38h1v9.23h-1zM257 298.36h1v10.34h-1zM252 309.62h1v6.36h-1zM56 322.43h1v11.56h-1zM73 334.28h1v4.52h-1zM70 312.17h1v11.3h-1zM173 314.2h1v11.23h-1zM150 314.34h1v8.26h-1zM279 327.99h1v4.73h-1zM246 320.58h1v3.92h-1zM121 333.11h1v8.73h-1zM175 316.72h1v7.6h-1zM215 323.78h1v6.57h-1zM271 329.79h1v8.94h-1zM150 331.35h1v8.04h-1z" fill="#b040f0" opacity="0.15"/><path d="M105 331.3h1v7.4h-1zM47 325.92h1v10.47h-1zM200 325.15h1v5.84h-1zM230 314.75h1v8.49h-1zM101 316.59h1v11.67h-1zM196 316.75h1v4.33h-1zM93 324.76h1v5.05h-1zM165 325.73h1v11.21h-1zM164 327.09h1v6.76h-1zM217 334.06h1v6.94h-1zM239 325.1h1v11.58h-1zM198 309.45h1v7.56h-1zM258 326.09h1v9.66h-1zM182 320.25h1v11.58h-1zM112 321.97h1v11.23h-1zM90 333.38h1v6.03h-1zM236 335.96h1v4.58h-1zM30 330.83h1v7.74h-1zM105 325.34h1v11.44h-1zM154 321.31h1v4.85h-1zM43 315.97h1v11.79h-1zM168 324.65h1v7.77h-1zM106 321.36h1v9.6h-1zM197 322.48h1v2.96h-1zM203 331.11h1v5.89h-1zM140 312.47h1v8.06h-1zM77 336.22h1v2.84h-1zM47 325.92h1v10.05h-1zM152 332.41h1v8.88h-1zM84 321.82h1v2.28h-1zM84 329.53h1v8.71h-1zM279 332.86h1v3.57h-1zM202 333.52h1v9.54h-1zM226 324.1h1v10.77h-1zM106 317.94h1v3.99h-1zM161 334.97h1v6.9h-1zM241 318.42h1v9.91h-1zM57 329.32h1v5.57h-1zM247 308.38h1v6.33h-1zM115 321.6h1v9.06h-1zM91 327.69h1v3.65h-1zM76 320.54h1v5.37h-1zM101 319.34h1v2.16h-1zM186 326.57h1v7.96h-1zM238 320.58h1v2.91h-1zM214 325.63h1v11.36h-1zM52 310.03h1v9.27h-1zM204 319.14h1v10.87h-1zM201 325.47h1v5.77h-1zM160 311.79h1v6.57h-1zM55 334.08h1v3.58h-1zM62 326.22h1v2.41h-1zM74 333.19h1v8.25h-1zM124 330.4h1v8.59h-1zM46 333.98h1v2.69h-1zM67 333.37h1v2.37h-1zM35 316.77h1v6.38h-1zM34 331.75h1v3.82h-1zM221 336.36h1v3.52h-1zM128 334.66h1v4.48h-1zM251 325.7h1v6.97h-1zM190 324.19h1v11.59h-1zM116 322.02h1v7.31h-1zM187 331.19h1v8.93h-1zM85 322.2h1v10.99h-1zM266 317.5h1v9.55h-1zM85 333h1v5.93h-1zM186 319.24h1v7.01h-1zM43 335.61h1v4.12h-1zM238 323.81h1v5.46h-1zM119 318.28h1v6.09h-1zM112 330.29h1v11.96h-1zM206 317.32h1v5.65h-1zM242 322.32h1v2.2h-1zM112 330.26h1v5.83h-1zM234 310.13h1v4.79h-1zM262 333.58h1v8.06h-1zM129 323.79h1v2.38h-1zM33 319.6h1v2.12h-1z" fill="#a038f0" opacity="0.2"/><path d="M242 321.17h1v2.13h-1zM92 328.14h1v9.64h-1zM60 317.97h1v6.74h-1zM33 332.13h1v9.54h-1zM44 317.51h1v3.71h-1zM253 331.94h1v7.89h-1zM133 326.05h1v8.94h-1zM68 312.76h1v7.28h-1zM224 317.71h1v2.24h-1zM116 321.38h1v3.19h-1zM156 329.99h1v5.21h-1zM215 311.34h1v9.82h-1zM162 326.68h1v5.8h-1zM74 327.83h1v5.01h-1zM47 319.22h1v7.89h-1zM143 330.83h1v4.35h-1zM239 310.61h1v4.5h-1zM156 335.25h1v6.16h-1zM217 313.54h1v6.22h-1zM82 323.76h1v11.3h-1zM275 325.59h1v6.02h-1zM115 328.42h1v2.66h-1zM168 327.58h1v3.11h-1zM93 322.24h1v11.44h-1zM228 328.58h1v3.69h-1zM118 331.36h1v10.25h-1zM211 314.77h1v10.84h-1zM36 332.94h1v9.5h-1zM197 328.21h1v10.86h-1zM198 330.57h1v11.01h-1zM141 320.23h1v8.92h-1zM197 331.86h1v2.77h-1zM241 318h1v9.23h-1zM195 333.58h1v2.87h-1zM246 323.86h1v3.59h-1zM121 315.21h1v9.06h-1zM37 337.05h1v2h-1zM134 321.02h1v10.48h-1zM106 325.8h1v9.74h-1zM93 316.69h1v3.04h-1zM235 327.87h1v7.57h-1zM113 318.1h1v10.36h-1zM65 310.75h1v9.62h-1zM43 310.85h1v6.64h-1zM146 324.68h1v10.24h-1zM72 331.19h1v5.7h-1zM174 332.38h1v3.58h-1zM35 330.74h1v10.51h-1zM245 318.37h1v5.36h-1zM37 321.2h1v7.65h-1zM50 314.71h1v4.04h-1zM212 330.55h1v10.97h-1zM174 330.15h1v4.61h-1zM58 318.48h1v9.75h-1zM177 325.28h1v9.88h-1zM124 309.23h1v4.25h-1zM214 310.44h1v4.16h-1zM56 320.67h1v7.22h-1zM83 323.51h1v3.74h-1zM92 317.33h1v6.4h-1zM62 320.8h1v11.85h-1zM63 320.48h1v5.93h-1zM272 319.8h1v7.12h-1zM274 323.03h1v5.22h-1zM263 330.57h1v8.14h-1zM196 323.88h1v7.28h-1zM244 335.37h1v2.36h-1zM72 321.17h1v6.4h-1zM205 324.38h1v6.34h-1zM216 322.34h1v2.37h-1zM223 318.57h1v4.26h-1zM180 334.9h1v4.89h-1zM87 328.63h1v10.52h-1zM132 319.18h1v8.78h-1zM266 330.64h1v7.83h-1zM270 312.3h1v5.36h-1zM177 314.65h1v5.32h-1zM116 311.7h1v11.45h-1zM162 322.2h1v3.18h-1zM242 312.18h1v11.33h-1z" fill="#6a20f4" opacity="0.2"/><path d="M214 332.18h1v11.02h-1zM237 328.17h1v3.71h-1zM171 323.43h1v2.89h-1zM241 329.57h1v5.18h-1zM264 330.27h1v11.2h-1zM221 327.8h1v4.34h-1zM191 319.92h1v12h-1zM157 312.32h1v6.1h-1zM180 330.43h1v6.85h-1zM245 326.72h1v3.96h-1zM156 323.41h1v8.36h-1zM100 315.47h1v3.28h-1zM215 322.1h1v4.11h-1zM80 321.4h1v4.23h-1zM121 317.41h1v2.48h-1zM81 310.78h1v6.75h-1zM134 332.86h1v2.13h-1zM88 311.36h1v9.22h-1zM200 327.66h1v10.32h-1zM255 317.04h1v5.7h-1zM56 330.98h1v10.43h-1zM188 323.29h1v5.78h-1zM181 324.77h1v10.41h-1zM257 331.6h1v2.54h-1zM77 323.09h1v6.94h-1zM243 334.95h1v3.84h-1zM154 321.61h1v3.12h-1zM251 318.01h1v10.38h-1zM158 332h1v6.17h-1zM215 329.35h1v9.1h-1zM164 327.59h1v6.02h-1zM261 321.28h1v5.94h-1zM112 325.26h1v10.73h-1zM157 334.22h1v3.93h-1zM235 320.84h1v9.42h-1zM256 333.01h1v7.76h-1zM70 330.85h1v8.25h-1zM244 325.94h1v6.06h-1zM52 318.82h1v3.19h-1zM231 329.27h1v2.78h-1zM205 323.79h1v4.42h-1zM258 319h1v10.23h-1zM240 327.28h1v2.64h-1zM89 317.95h1v2.42h-1zM201 319.78h1v8.34h-1zM46 310.41h1v6.16h-1zM146 326.09h1v5.08h-1zM63 329.35h1v6.46h-1zM207 329.66h1v6.57h-1zM170 326.71h1v9.04h-1zM144 314.7h1v4.73h-1zM132 311.46h1v2.02h-1zM175 333.38h1v4.76h-1zM117 309.87h1v10.53h-1zM174 304.87h1v11.59h-1zM259 319.12h1v6.23h-1zM123 328.05h1v7.98h-1zM149 321.12h1v8.71h-1zM74 324.14h1v8.34h-1zM92 311.22h1v6.44h-1zM123 306.55h1v10.54h-1zM243 324.68h1v8.79h-1zM92 320.39h1v6.76h-1zM244 322.77h1v9.85h-1zM119 320.72h1v6.14h-1zM130 324.13h1v9.47h-1z" fill="#8a30f0" opacity="0.2"/><path d="M145 314.22h1v9.46h-1zM65 327.68h1v11.67h-1zM86 323.41h1v4.75h-1zM129 321.98h1v3.65h-1zM133 312.22h1v6.4h-1zM54 319.36h1v8.55h-1zM57 326.22h1v9.94h-1zM272 322.18h1v3.22h-1zM129 317.72h1v7.02h-1zM110 327.26h1v3.77h-1zM52 326.63h1v8h-1zM230 326.03h1v10.26h-1zM193 335.95h1v2.1h-1zM138 334.16h1v7.6h-1zM220 329.8h1v10.55h-1zM132 309.02h1v5.69h-1zM142 324.33h1v8.8h-1zM146 321.88h1v8.36h-1zM259 318.29h1v8.05h-1zM99 335.13h1v2.68h-1zM239 323.56h1v6.55h-1zM80 328.36h1v6.97h-1zM32 326.1h1v9.39h-1zM148 333.79h1v6.87h-1zM31 323.9h1v8.28h-1zM274 328.42h1v5.09h-1zM110 325.42h1v5.29h-1zM82 322.17h1v3.78h-1zM128 324.77h1v7.78h-1zM236 330.84h1v6.12h-1zM150 327.1h1v4.48h-1zM109 326.72h1v2.47h-1zM215 332.71h1v4.93h-1zM138 314.86h1v8.57h-1zM210 318.86h1v8.56h-1zM122 317.46h1v6.49h-1zM189 331.82h1v6.25h-1zM260 320.79h1v7.12h-1zM170 332.57h1v2.24h-1zM58 314.25h1v5.13h-1zM197 321.48h1v8.77h-1zM195 323.72h1v6.43h-1zM154 325.07h1v11.85h-1zM205 309.98h1v3.89h-1zM277 335.74h1v5.08h-1zM273 320.63h1v8.81h-1zM134 329.57h1v11.92h-1zM260 319.9h1v10.72h-1zM252 330.93h1v5.67h-1zM157 319.67h1v8.51h-1zM112 333.85h1v8.38h-1zM88 323.08h1v4.36h-1zM48 332.21h1v10.92h-1zM263 317.7h1v3.03h-1zM140 328.5h1v7.12h-1zM202 318.68h1v2.4h-1zM149 307.18h1v10.41h-1zM250 318.74h1v2.02h-1zM211 329.82h1v9.05h-1zM106 333.24h1v5.52h-1zM172 326.97h1v6.06h-1zM141 315.27h1v6.39h-1z" fill="#b040f0" opacity="0.2"/><path d="M235 335.69h1v3.26h-1zM74 332.07h1v6.21h-1zM248 331.35h1v11.72h-1zM66 327.49h1v11.75h-1zM188 328.2h1v5.78h-1zM72 333.52h1v7.03h-1zM184 332.72h1v5.8h-1zM256 328.6h1v9.34h-1zM228 330.33h1v3.95h-1zM55 331.23h1v10.95h-1zM216 325.18h1v11.03h-1zM40 332h1v8.94h-1zM261 336.38h1v3.8h-1zM250 332.95h1v6.94h-1z" fill="#b040f0" opacity="0.25"/><path d="M228 331.79h1v9.37h-1zM152 333.38h1v3.25h-1zM178 334.05h1v6.16h-1zM169 330.1h1v2.81h-1zM165 332.65h1v9.34h-1zM40 334.19h1v4.06h-1zM147 326.85h1v3.93h-1zM208 331.96h1v11.09h-1zM157 333.87h1v7.01h-1zM32 333.97h1v6.63h-1zM203 329.84h1v11.89h-1zM120 327.34h1v10.77h-1zM71 326.79h1v5.69h-1zM128 330.1h1v11.73h-1zM188 330.39h1v10.95h-1z" fill="#8a30f0" opacity="0.25"/><path d="M177 329.86h1v3.72h-1zM162 326.84h1v10.58h-1zM102 333.68h1v7.09h-1zM234 332.29h1v6.85h-1zM105 330.32h1v11.97h-1zM61 329.89h1v9.17h-1zM60 328.24h1v10.9h-1zM98 329.81h1v8.09h-1zM185 335.7h1v3.48h-1zM80 334.03h1v5.6h-1z" fill="#a038f0" opacity="0.25"/><path d="M159 335.76h1v2.85h-1zM160 336.39h1v3.71h-1zM59 329.53h1v9.57h-1zM127 328.16h1v5.81h-1zM277 332.01h1v9.84h-1zM42 329.87h1v3.4h-1zM190 334.11h1v5.41h-1zM112 326.77h1v6.11h-1zM237 328.29h1v6.2h-1zM48 333.35h1v6.4h-1zM164 335.41h1v5.44h-1zM223 334.01h1v4.66h-1zM50 330.46h1v11.41h-1zM131 331.77h1v4.79h-1zM60 334.44h1v7.91h-1zM110 335.67h1v3.69h-1z" fill="#6a20f4" opacity="0.25"/><path d="M109 337.41h1v2.5h-1zM121 335.54h1v2.5h-1zM129 336.3h1v2.5h-1zM146 336.59h1v2.5h-1zM161 337.04h1v2.5h-1zM180 337.02h1v2.5h-1zM181 337.05h1v2.5h-1zM182 337.61h1v2.5h-1zM198 337.09h1v2.5h-1zM210 336.3h1v2.5h-1zM222 337.55h1v2.5h-1zM246 334.67h1v2.5h-1zM278 337.07h1v2.5h-1z" fill="#9028f2" opacity="0.2"/><path d="M50 336.32h1v2.5h-1zM53 336.83h1v2.5h-1zM62 335.78h1v2.5h-1zM65 337.33h1v2.5h-1zM68 337.23h1v2.5h-1zM69 336.97h1v2.5h-1zM70 336.89h1v2.5h-1zM82 335.13h1v2.5h-1zM112 337.72h1v2.5h-1zM114 336.61h1v2.5h-1zM116 336.7h1v2.5h-1zM125 336.81h1v2.5h-1zM128 335.91h1v2.5h-1zM130 336.58h1v2.5h-1zM131 336.9h1v2.5h-1zM133 338.29h1v2.5h-1zM137 338.12h1v2.5h-1zM139 336.97h1v2.5h-1zM164 337.91h1v2.5h-1zM175 336.27h1v2.5h-1zM179 338.28h1v2.5h-1zM184 336.99h1v2.5h-1zM185 335.58h1v2.5h-1zM189 335.95h1v2.5h-1zM195 337.01h1v2.5h-1zM207 336.77h1v2.5h-1zM211 336.83h1v2.5h-1zM213 335.96h1v2.5h-1zM231 337.15h1v2.5h-1zM233 335.12h1v2.5h-1zM240 338.21h1v2.5h-1zM253 336.25h1v2.5h-1z" fill="#9028f2" opacity="0.25"/><path d="M42 337.84h1v2.5h-1zM51 336.8h1v2.5h-1zM66 336.91h1v2.5h-1zM93 336.67h1v2.5h-1zM96 335.39h1v2.5h-1zM98 339.02h1v2.5h-1zM101 335.9h1v2.5h-1zM126 336.4h1v2.5h-1zM127 338.16h1v2.5h-1zM142 337.89h1v2.5h-1zM148 336.6h1v2.5h-1zM168 336.8h1v2.5h-1zM171 335.88h1v2.5h-1zM183 336h1v2.5h-1zM188 337.5h1v2.5h-1zM193 337.1h1v2.5h-1zM194 336.69h1v2.5h-1zM203 336.65h1v2.5h-1zM205 336.87h1v2.5h-1zM206 337.25h1v2.5h-1zM215 336.69h1v2.5h-1zM224 335.63h1v2.5h-1zM234 336.43h1v2.5h-1zM244 337.6h1v2.5h-1zM247 336.43h1v2.5h-1zM256 337.33h1v2.5h-1zM259 335.64h1v2.5h-1zM276 336.32h1v2.5h-1z" fill="#9028f2" opacity="0.3"/><path d="M29 338.43h1v2.5h-1zM30 336.93h1v2.5h-1zM31 337.21h1v2.5h-1zM33 337.09h1v2.5h-1zM36 338.73h1v2.5h-1zM64 337.82h1v2.5h-1zM71 336.41h1v2.5h-1zM72 336.55h1v2.5h-1zM73 337.48h1v2.5h-1zM76 337.6h1v2.5h-1zM79 338.11h1v2.5h-1zM84 336.78h1v2.5h-1zM86 336.27h1v2.5h-1zM88 337.51h1v2.5h-1zM110 337.16h1v2.5h-1zM111 338.02h1v2.5h-1zM140 337.17h1v2.5h-1zM156 338.04h1v2.5h-1zM165 337.94h1v2.5h-1zM191 336.08h1v2.5h-1zM199 335.74h1v2.5h-1zM202 337.1h1v2.5h-1zM226 337.04h1v2.5h-1zM237 337.15h1v2.5h-1zM254 336.79h1v2.5h-1zM264 337h1v2.5h-1zM268 336.09h1v2.5h-1zM271 336.77h1v2.5h-1zM273 337.13h1v2.5h-1z" fill="#9028f2" opacity="0.35"/><path d="M41 337.48h1v2.5h-1zM46 337.98h1v2.5h-1zM49 336.19h1v2.5h-1zM52 336.7h1v2.5h-1zM83 337.77h1v2.5h-1zM87 335.94h1v2.5h-1zM97 337.02h1v2.5h-1zM104 337.05h1v2.5h-1zM107 335.46h1v2.5h-1zM123 338.32h1v2.5h-1zM155 335.75h1v2.5h-1zM157 337.45h1v2.5h-1zM169 336.86h1v2.5h-1zM178 337.04h1v2.5h-1zM186 337.93h1v2.5h-1zM212 336.69h1v2.5h-1zM221 336.55h1v2.5h-1zM223 335.27h1v2.5h-1zM242 337.12h1v2.5h-1zM243 335.91h1v2.5h-1zM250 335.77h1v2.5h-1zM251 337.94h1v2.5h-1zM255 337.97h1v2.5h-1zM258 336.58h1v2.5h-1zM265 337.64h1v2.5h-1zM270 336.09h1v2.5h-1zM275 336.77h1v2.5h-1zM277 336.97h1v2.5h-1zM280 335.99h1v2.5h-1z" fill="#9028f2" opacity="0.4"/><path d="M32 335.61h1v2.5h-1zM35 337.28h1v2.5h-1zM57 337.42h1v2.5h-1zM58 336.93h1v2.5h-1zM59 338.41h1v2.5h-1zM60 338.17h1v2.5h-1zM75 337.75h1v2.5h-1zM77 336.86h1v2.5h-1zM78 336.72h1v2.5h-1zM92 337.43h1v2.5h-1zM102 336.35h1v2.5h-1zM136 336.44h1v2.5h-1zM143 336.97h1v2.5h-1zM151 335.73h1v2.5h-1zM154 337.35h1v2.5h-1zM158 337.32h1v2.5h-1zM166 335.42h1v2.5h-1zM174 337.34h1v2.5h-1zM192 337.57h1v2.5h-1zM200 337.17h1v2.5h-1zM201 336.12h1v2.5h-1zM204 336.11h1v2.5h-1zM219 337.76h1v2.5h-1zM220 337.07h1v2.5h-1zM238 337.12h1v2.5h-1zM245 337.56h1v2.5h-1zM257 337.14h1v2.5h-1zM262 337.66h1v2.5h-1zM263 336.38h1v2.5h-1zM274 337.5h1v2.5h-1z" fill="#9028f2" opacity="0.45"/><path d="M34 335.76h1v2.5h-1zM38 337.05h1v2.5h-1zM39 337.56h1v2.5h-1zM40 337.37h1v2.5h-1zM43 337.96h1v2.5h-1zM45 336.94h1v2.5h-1zM54 337.02h1v2.5h-1zM63 336.7h1v2.5h-1zM74 337.87h1v2.5h-1zM80 337.13h1v2.5h-1zM81 337.56h1v2.5h-1zM85 337.74h1v2.5h-1zM89 336.18h1v2.5h-1zM91 337.08h1v2.5h-1zM95 336.92h1v2.5h-1zM99 336.3h1v2.5h-1zM100 337.08h1v2.5h-1zM115 336.91h1v2.5h-1zM119 337.27h1v2.5h-1zM124 336.32h1v2.5h-1zM132 335.1h1v2.5h-1zM135 336.39h1v2.5h-1zM141 337.87h1v2.5h-1zM144 338.57h1v2.5h-1zM147 336.29h1v2.5h-1zM150 336.73h1v2.5h-1zM152 337.17h1v2.5h-1zM162 336.21h1v2.5h-1zM167 336.66h1v2.5h-1zM172 337.02h1v2.5h-1zM177 336.81h1v2.5h-1zM196 336.85h1v2.5h-1zM209 336.4h1v2.5h-1zM218 336.37h1v2.5h-1zM225 335.51h1v2.5h-1zM235 336.33h1v2.5h-1zM236 336.55h1v2.5h-1zM241 336.43h1v2.5h-1zM248 336.3h1v2.5h-1zM269 337.81h1v2.5h-1zM272 336.91h1v2.5h-1z" fill="#9028f2" opacity="0.5"/><path d="M37 336.44h1v2.5h-1zM44 335.69h1v2.5h-1zM47 335.66h1v2.5h-1zM55 337.42h1v2.5h-1zM56 336.9h1v2.5h-1zM61 337h1v2.5h-1zM90 337.91h1v2.5h-1zM94 337.3h1v2.5h-1zM103 337.03h1v2.5h-1zM105 335.68h1v2.5h-1zM106 336.08h1v2.5h-1zM108 337.01h1v2.5h-1zM113 336.49h1v2.5h-1zM117 337.21h1v2.5h-1zM120 337.27h1v2.5h-1zM138 336.89h1v2.5h-1zM145 336.79h1v2.5h-1zM149 337.37h1v2.5h-1zM159 337.61h1v2.5h-1zM187 337.69h1v2.5h-1zM197 337.41h1v2.5h-1zM208 336.82h1v2.5h-1zM214 337.31h1v2.5h-1zM217 337.33h1v2.5h-1zM227 339.12h1v2.5h-1zM228 337.51h1v2.5h-1zM229 337.32h1v2.5h-1zM230 336.07h1v2.5h-1zM252 338h1v2.5h-1zM260 339.03h1v2.5h-1zM266 337.96h1v2.5h-1zM279 337.05h1v2.5h-1z" fill="#9028f2" opacity="0.55"/><path d="M48 338.07h1v2.5h-1zM67 336.71h1v2.5h-1zM118 337.33h1v2.5h-1zM122 336.4h1v2.5h-1zM134 336.46h1v2.5h-1zM153 337.2h1v2.5h-1zM160 336.81h1v2.5h-1zM163 336.81h1v2.5h-1zM170 337.56h1v2.5h-1zM173 336.46h1v2.5h-1zM176 336.46h1v2.5h-1zM190 337.17h1v2.5h-1zM216 337.54h1v2.5h-1zM232 336.66h1v2.5h-1zM239 336.76h1v2.5h-1zM249 335.45h1v2.5h-1zM261 336.69h1v2.5h-1zM267 336.47h1v2.5h-1z" fill="#9028f2" opacity="0.6"/><path d="M29 340.93h1v5.87h-1zM144 341.07h1v5.73h-1zM183 338.5h1v8.3h-1zM201 338.62h1v8.18h-1zM203 339.15h1v7.65h-1zM266 340.46h1v6.34h-1z" fill="#f848f0" opacity="0.85"/><path d="M36 341.23h1v5.57h-1zM76 340.1h1v6.7h-1zM106 338.58h1v8.22h-1zM121 338.04h1v8.76h-1zM142 340.39h1v6.41h-1zM231 339.65h1v7.15h-1zM250 338.27h1v8.53h-1z" fill="#f040f4" opacity="0.85"/><path d="M41 339.98h1v6.82h-1zM77 339.36h1v7.44h-1zM143 339.47h1v7.33h-1zM197 339.91h1v6.89h-1zM233 337.62h1v9.18h-1zM249 337.95h1v8.85h-1z" fill="#e028f2" opacity="0.85"/><path d="M53 339.33h1v7.47h-1zM80 339.63h1v7.17h-1zM110 339.66h1v7.14h-1zM125 339.31h1v7.49h-1zM228 340.01h1v6.79h-1z" fill="#e830f0" opacity="0.85"/><path d="M81 340.06h1v6.74h-1zM88 340.01h1v6.79h-1zM190 339.67h1v7.13h-1zM199 338.24h1v8.56h-1zM251 340.44h1v6.36h-1zM278 339.57h1v7.23h-1z" fill="#f038f0" opacity="0.85"/><path d="M35 339.78h1v7.02h-1zM54 339.52h1v7.28h-1zM69 339.47h1v7.33h-1zM97 339.52h1v7.28h-1zM107 337.96h1v8.84h-1zM135 338.89h1v7.91h-1zM137 340.62h1v6.18h-1zM145 339.29h1v7.51h-1zM158 339.82h1v6.98h-1zM159 340.11h1v6.69h-1zM177 339.31h1v7.49h-1zM182 340.11h1v6.69h-1zM272 339.41h1v7.39h-1z" fill="#f848f0" opacity="0.9"/><path d="M37 338.94h1v7.86h-1zM42 340.34h1v6.46h-1zM51 339.3h1v7.5h-1zM58 339.43h1v7.37h-1zM98 341.52h1v5.28h-1zM113 338.99h1v7.81h-1zM122 338.9h1v7.9h-1zM123 340.82h1v5.98h-1zM133 340.79h1v6.01h-1zM156 340.54h1v6.26h-1zM175 338.77h1v8.03h-1zM176 338.96h1v7.84h-1zM204 338.61h1v8.19h-1zM205 339.37h1v7.43h-1zM215 339.19h1v7.61h-1zM226 339.54h1v7.26h-1zM245 340.06h1v6.74h-1zM254 339.29h1v7.51h-1zM258 339.08h1v7.72h-1zM259 338.14h1v8.66h-1z" fill="#e028f2" opacity="0.9"/><path d="M39 340.06h1v6.74h-1zM40 339.87h1v6.93h-1zM55 339.92h1v6.88h-1zM61 339.5h1v7.3h-1zM65 339.83h1v6.97h-1zM66 339.41h1v7.39h-1zM73 339.98h1v6.82h-1zM105 338.18h1v8.62h-1zM126 338.9h1v7.9h-1zM141 340.37h1v6.43h-1zM154 339.85h1v6.95h-1zM157 339.95h1v6.85h-1zM160 339.31h1v7.49h-1zM165 340.44h1v6.36h-1zM170 340.06h1v6.74h-1zM200 339.67h1v7.13h-1zM208 339.32h1v7.48h-1zM224 338.13h1v8.67h-1zM225 338.01h1v8.79h-1zM255 340.47h1v6.33h-1zM257 339.64h1v7.16h-1z" fill="#f038f0" opacity="0.9"/><path d="M44 338.19h1v8.61h-1zM62 338.28h1v8.52h-1zM68 339.73h1v7.07h-1zM70 339.39h1v7.41h-1zM75 340.25h1v6.55h-1zM95 339.42h1v7.38h-1zM100 339.58h1v7.22h-1zM114 339.11h1v7.69h-1zM131 339.4h1v7.4h-1zM194 339.19h1v7.61h-1zM210 338.8h1v8h-1zM223 337.77h1v9.03h-1zM232 339.16h1v7.64h-1zM256 339.83h1v6.97h-1zM265 340.14h1v6.66h-1zM274 340h1v6.8h-1zM280 338.49h1v8.31h-1z" fill="#e830f0" opacity="0.9"/><path d="M48 340.57h1v6.23h-1zM49 338.69h1v8.11h-1zM50 338.82h1v7.98h-1zM67 339.21h1v7.59h-1zM83 340.27h1v6.53h-1zM101 338.4h1v8.4h-1zM103 339.53h1v7.27h-1zM109 339.91h1v6.89h-1zM111 340.52h1v6.28h-1zM124 338.82h1v7.98h-1zM128 338.41h1v8.39h-1zM129 338.8h1v8h-1zM136 338.94h1v7.86h-1zM146 339.09h1v7.71h-1zM150 339.23h1v7.57h-1zM151 338.23h1v8.57h-1zM152 339.67h1v7.13h-1zM162 338.71h1v8.09h-1zM179 340.78h1v6.02h-1zM187 340.19h1v6.61h-1zM216 340.04h1v6.76h-1zM218 338.87h1v7.93h-1zM221 339.05h1v7.75h-1zM239 339.26h1v7.54h-1zM261 339.19h1v7.61h-1zM273 339.63h1v7.17h-1zM275 339.27h1v7.53h-1zM279 339.55h1v7.25h-1z" fill="#f040f4" opacity="0.9"/><path d="M31 339.71h1v7.09h-1zM32 338.11h1v8.69h-1zM63 339.2h1v7.6h-1zM102 338.85h1v7.95h-1zM112 340.22h1v6.58h-1zM134 338.96h1v7.84h-1zM148 339.1h1v7.7h-1zM168 339.3h1v7.5h-1zM178 339.54h1v7.26h-1zM193 339.6h1v7.2h-1zM195 339.51h1v7.29h-1zM202 339.6h1v7.2h-1zM206 339.75h1v7.05h-1zM213 338.46h1v8.34h-1zM214 339.81h1v6.99h-1zM217 339.83h1v6.97h-1zM230 338.57h1v8.23h-1zM262 340.16h1v6.64h-1zM270 338.59h1v8.21h-1zM276 338.82h1v7.98h-1z" fill="#e830f0" opacity="0.95"/><path d="M33 339.59h1v7.21h-1zM34 338.26h1v8.54h-1zM90 340.41h1v6.39h-1zM127 340.66h1v6.14h-1zM166 337.92h1v8.88h-1zM180 339.52h1v7.28h-1zM189 338.45h1v8.35h-1zM192 340.07h1v6.73h-1zM234 338.93h1v7.87h-1zM244 340.1h1v6.7h-1zM248 338.8h1v8h-1zM252 340.5h1v6.3h-1zM263 338.88h1v7.92h-1zM269 340.31h1v6.49h-1z" fill="#f038f0" opacity="0.95"/><path d="M38 339.55h1v7.25h-1zM57 339.92h1v6.88h-1zM86 338.77h1v8.03h-1zM94 339.8h1v7h-1zM96 337.89h1v8.91h-1zM99 338.8h1v8h-1zM117 339.71h1v7.09h-1zM120 339.77h1v7.03h-1zM140 339.67h1v7.13h-1zM147 338.79h1v8.01h-1zM153 339.7h1v7.1h-1zM184 339.49h1v7.31h-1zM209 338.9h1v7.9h-1zM211 339.33h1v7.47h-1zM212 339.19h1v7.61h-1zM219 340.26h1v6.54h-1zM220 339.57h1v7.23h-1zM227 341.62h1v5.18h-1zM237 339.65h1v7.15h-1zM242 339.62h1v7.18h-1zM267 338.97h1v7.83h-1z" fill="#f848f0" opacity="0.95"/><path d="M45 339.44h1v7.36h-1zM59 340.91h1v5.89h-1zM60 340.67h1v6.13h-1zM74 340.37h1v6.43h-1zM85 340.24h1v6.56h-1zM87 338.44h1v8.36h-1zM104 339.55h1v7.25h-1zM108 339.51h1v7.29h-1zM116 339.2h1v7.6h-1zM139 339.47h1v7.33h-1zM155 338.25h1v8.55h-1zM161 339.54h1v7.26h-1zM164 340.41h1v6.39h-1zM169 339.36h1v7.44h-1zM173 338.96h1v7.84h-1zM181 339.55h1v7.25h-1zM186 340.43h1v6.37h-1zM188 340h1v6.8h-1zM246 337.17h1v9.63h-1zM247 338.93h1v7.87h-1zM264 339.5h1v7.3h-1z" fill="#f040f4" opacity="0.95"/><path d="M52 339.2h1v7.6h-1zM82 337.63h1v9.17h-1zM115 339.41h1v7.39h-1zM130 339.08h1v7.72h-1zM132 337.6h1v9.2h-1zM138 339.39h1v7.41h-1zM167 339.16h1v7.64h-1zM171 338.38h1v8.42h-1zM172 339.52h1v7.28h-1zM174 339.84h1v6.96h-1zM191 338.58h1v8.22h-1zM196 339.35h1v7.45h-1zM222 340.05h1v6.75h-1zM243 338.41h1v8.39h-1zM268 338.59h1v8.21h-1zM271 339.27h1v7.53h-1z" fill="#e028f2" opacity="0.95"/><path d="M30 339.43h1v7.37h-1zM43 340.46h1v6.34h-1zM64 340.32h1v6.48h-1zM118 339.83h1v6.97h-1zM149 339.87h1v6.93h-1zM163 339.31h1v7.49h-1zM235 338.83h1v7.97h-1zM236 339.05h1v7.75h-1zM260 341.53h1v5.27h-1z" fill="#f848f0"/><path d="M46 340.48h1v6.32h-1zM56 339.4h1v7.4h-1zM78 339.22h1v7.58h-1zM84 339.28h1v7.52h-1zM207 339.27h1v7.53h-1zM229 339.82h1v6.98h-1z" fill="#e830f0"/><path d="M47 338.16h1v8.64h-1zM71 338.91h1v7.89h-1zM79 340.61h1v6.19h-1zM91 339.58h1v7.22h-1zM238 339.62h1v7.18h-1zM240 340.71h1v6.09h-1zM277 339.47h1v7.33h-1z" fill="#e028f2"/><path d="M72 339.05h1v7.75h-1zM92 339.93h1v6.87h-1zM93 339.17h1v7.63h-1zM185 338.08h1v8.72h-1z" fill="#f038f0"/><path d="M89 338.68h1v8.12h-1zM119 339.77h1v7.03h-1zM198 339.59h1v7.21h-1zM241 338.93h1v7.87h-1zM253 338.75h1v8.05h-1z" fill="#f040f4"/><path d="M57.13 344.77h1.38v1.84h-1.38zM159.31 341.91h1.01v1.57h-1.01z" fill="#ffd060" opacity="0.55"/><path d="M232.6 343.78h1.5v1.95h-1.5z" fill="#ffa0e0" opacity="0.55"/><path d="M232.53 344.71h1.05v2.05h-1.05z" fill="#ffc0a0" opacity="0.55"/><path d="M211.16 345.04h1.37v1.52h-1.37zM85.01 344.08h1.16v1.98h-1.16zM217.58 343.26h1.25v1.85h-1.25z" fill="#ffd060" opacity="0.6"/><path d="M184.39 343.58h0.84v1.81h-0.84z" fill="#ff90f0" opacity="0.6"/><path d="M149.2 345.09h1.34v1.92h-1.34z" fill="#ffc0a0" opacity="0.6"/><path d="M261.84 343.35h0.9v1.72h-0.9zM230.98 342.7h1.09v1.66h-1.09zM42.96 342.75h1.49v1.11h-1.49z" fill="#ffd060" opacity="0.65"/><path d="M147.31 342.04h1.34v2.45h-1.34zM225.23 344.38h1.28v1.58h-1.28zM274.91 344.13h1.15v2.1h-1.15z" fill="#ffa0e0" opacity="0.65"/><path d="M74.7 342.19h1.35v1.86h-1.35z" fill="#ff90f0" opacity="0.65"/><path d="M103.47 343.33h1.42v2.43h-1.42zM83.86 342.42h1.26v1.06h-1.26zM236.95 342.34h1.16v1.21h-1.16z" fill="#ffd060" opacity="0.7"/><path d="M186.99 342.58h0.94v2.12h-0.94zM104.79 343.82h1.33v1.74h-1.33z" fill="#ff90f0" opacity="0.7"/><path d="M146.46 342.48h0.94v1.64h-0.94zM270 343.63h1.02v2.36h-1.02z" fill="#ffc0a0" opacity="0.7"/><path d="M124.09 342.04h1.04v2.29h-1.04z" fill="#ffa0e0" opacity="0.75"/><path d="M61.17 344.14h1.48v1.19h-1.48zM275.06 342.88h0.84v1.04h-0.84z" fill="#ffa0e0" opacity="0.8"/><path d="M81.79 345.22h0.85v1.24h-0.85zM111.18 343.47h1.44v1.27h-1.44z" fill="#ffd060" opacity="0.8"/><path d="M58.27 344.7h1.2v2.19h-1.2z" fill="#ff90f0" opacity="0.8"/><path d="M232.83 342.24h1.08v2.08h-1.08z" fill="#ffa0e0" opacity="0.85"/><path d="M195.95 344.43h1.24v2.11h-1.24zM57.15 344.19h1.28v1.25h-1.28z" fill="#ff90f0" opacity="0.85"/><path d="M145.95 343.34h1.27v2.18h-1.27z" fill="#ffc0a0" opacity="0.85"/><path d="M60.88 344.42h1.38v1.62h-1.38zM163.47 343.77h0.96v2.06h-0.96z" fill="#ffd060" opacity="0.85"/><path d="M220.27 344.78h1.34v1.93h-1.34zM47.26 343.52h0.99v2.12h-0.99z" fill="#ffc0a0" opacity="0.9"/><path d="M268.64 342.58h1.05v2.47h-1.05z" fill="#ffa0e0" opacity="0.9"/><path d="M254.98 345.07h1.17v1.44h-1.17z" fill="#ff90f0" opacity="0.9"/><path d="M112.7 342.65h1.28v1.37h-1.28z" fill="#ff90f0" opacity="0.95"/></g></g>
<text x="31" y="278.4" font-size="10" font-weight="bold" fill="#fff" textLength="35.5" lengthAdjust="spacingAndGlyphs">KO-350</text>
<rect x="285.8" y="270.6" width="5.2" height="77.4" fill="url(#cb2858_270)" stroke="none" stroke-width="1"/>
<text x="292.8" y="275.2" font-size="11" font-weight="bold" textLength="21.3" lengthAdjust="spacingAndGlyphs">Max</text>
<text x="292.8" y="348.8" font-size="11" font-weight="bold" textLength="19" lengthAdjust="spacingAndGlyphs">Min</text>
<text x="301.4" y="307.8" font-size="10.8" font-weight="bold" text-anchor="middle" transform="rotate(-90 301.4 307.8)" textLength="64" lengthAdjust="spacingAndGlyphs">Power (µV<tspan font-size="6.5" dy="-4">2</tspan><tspan dy="4">)</tspan></text>
<line x1="291.2" y1="249.4" x2="291.2" y2="258.5" stroke="#444" stroke-width="1.1"/>
<line x1="271" y1="258.5" x2="291.2" y2="258.5" stroke="#444" stroke-width="1.1"/>
<text x="292" y="256.9" font-size="8.5" font-weight="bold" textLength="20.6" lengthAdjust="spacingAndGlyphs">8 mV</text>
<text x="270.2" y="266.1" font-size="8.5" font-weight="bold" textLength="22.3" lengthAdjust="spacingAndGlyphs">2 min</text>
<text x="353" y="226.9" font-size="18" font-weight="bold">e</text>
<rect x="396.8" y="312.8" width="33.6" height="31.5" fill="#d5d5d5" stroke="#8a8a8a" stroke-width="1.7"/>
<rect x="439.3" y="292.4" width="33.6" height="51.9" fill="#f9dfe2" stroke="#f0787f" stroke-width="1.7"/>
<line x1="413.6" y1="307.5" x2="413.6" y2="316.8" stroke="#8a8a8a" stroke-width="1"/>
<line x1="405" y1="307.5" x2="422.2" y2="307.5" stroke="#8a8a8a" stroke-width="1"/>
<line x1="405" y1="316.8" x2="422.2" y2="316.8" stroke="#8a8a8a" stroke-width="1"/>
<line x1="456.1" y1="285" x2="456.1" y2="299.5" stroke="#f0787f" stroke-width="1"/>
<line x1="447.35" y1="285" x2="464.85" y2="285" stroke="#f0787f" stroke-width="1"/>
<line x1="447.35" y1="299.5" x2="464.85" y2="299.5" stroke="#f0787f" stroke-width="1"/>
<circle cx="413.7" cy="286.6" r="2.75" fill="#979797" stroke="#7a7a7a" stroke-width="0.8"/>
<circle cx="398.3" cy="307.9" r="2.75" fill="#979797" stroke="#7a7a7a" stroke-width="0.8"/>
<circle cx="428.9" cy="308.2" r="2.75" fill="#979797" stroke="#7a7a7a" stroke-width="0.8"/>
<circle cx="408.5" cy="311.7" r="2.75" fill="#979797" stroke="#7a7a7a" stroke-width="0.8"/>
<circle cx="418.7" cy="312" r="2.75" fill="#979797" stroke="#7a7a7a" stroke-width="0.8"/>
<circle cx="413.4" cy="317.5" r="2.75" fill="#979797" stroke="#7a7a7a" stroke-width="0.8"/>
<circle cx="413.4" cy="323" r="2.75" fill="#979797" stroke="#7a7a7a" stroke-width="0.8"/>
<circle cx="413.4" cy="328.6" r="2.75" fill="#979797" stroke="#7a7a7a" stroke-width="0.8"/>
<circle cx="456.6" cy="253.7" r="2.75" fill="#f08e96" stroke="#ea6e78" stroke-width="0.8"/>
<circle cx="456.6" cy="264.1" r="2.75" fill="#f08e96" stroke="#ea6e78" stroke-width="0.8"/>
<circle cx="456.6" cy="275.1" r="2.75" fill="#f08e96" stroke="#ea6e78" stroke-width="0.8"/>
<circle cx="456.6" cy="283.6" r="2.75" fill="#f08e96" stroke="#ea6e78" stroke-width="0.8"/>
<circle cx="456.6" cy="290.6" r="2.75" fill="#f08e96" stroke="#ea6e78" stroke-width="0.8"/>
<circle cx="456.6" cy="301" r="2.75" fill="#f08e96" stroke="#ea6e78" stroke-width="0.8"/>
<circle cx="466" cy="307.8" r="2.75" fill="#f08e96" stroke="#ea6e78" stroke-width="0.8"/>
<circle cx="456.6" cy="312.5" r="2.75" fill="#f08e96" stroke="#ea6e78" stroke-width="0.8"/>
<circle cx="446.1" cy="315.3" r="2.75" fill="#f08e96" stroke="#ea6e78" stroke-width="0.8"/>
<circle cx="466" cy="314.8" r="2.75" fill="#f08e96" stroke="#ea6e78" stroke-width="0.8"/>
<line x1="392.3" y1="220.8" x2="392.3" y2="344.9" stroke="#000" stroke-width="1.3"/>
<line x1="387.1" y1="344.3" x2="392.3" y2="344.3" stroke="#000" stroke-width="1.3"/>
<text x="385.1" y="347.8" font-size="9.8" text-anchor="end" font-weight="bold">0.0</text>
<line x1="387.1" y1="319.72" x2="392.3" y2="319.72" stroke="#000" stroke-width="1.3"/>
<text x="385.1" y="323.22" font-size="9.8" text-anchor="end" font-weight="bold">0.2</text>
<line x1="387.1" y1="295.14" x2="392.3" y2="295.14" stroke="#000" stroke-width="1.3"/>
<text x="385.1" y="298.64" font-size="9.8" text-anchor="end" font-weight="bold">0.4</text>
<line x1="387.1" y1="270.56" x2="392.3" y2="270.56" stroke="#000" stroke-width="1.3"/>
<text x="385.1" y="274.06" font-size="9.8" text-anchor="end" font-weight="bold">0.6</text>
<line x1="387.1" y1="245.98" x2="392.3" y2="245.98" stroke="#000" stroke-width="1.3"/>
<text x="385.1" y="249.48" font-size="9.8" text-anchor="end" font-weight="bold">0.8</text>
<line x1="387.1" y1="221.4" x2="392.3" y2="221.4" stroke="#000" stroke-width="1.3"/>
<text x="385.1" y="224.9" font-size="9.8" text-anchor="end" font-weight="bold">1.0</text>
<line x1="392.3" y1="344.3" x2="476.6" y2="344.3" stroke="#000" stroke-width="1.3"/>
<line x1="413.7" y1="344.3" x2="413.7" y2="349.1" stroke="#000" stroke-width="1.3"/>
<line x1="456.8" y1="344.3" x2="456.8" y2="349.1" stroke="#000" stroke-width="1.3"/>
<path d="M413.4 278.6 L413.4 237.6 L456.8 237.6 L456.8 244.6" stroke="#000" stroke-width="1.7" fill="none"/>
<path d="M435 231.4L435 228M435 231.4L438.23 230.35M435 231.4L437 234.15M435 231.4L433 234.15M435 231.4L431.77 230.35" stroke="#000" stroke-width="1.45" fill="none" stroke-linecap="butt"/>
<text x="413.7" y="360.3" font-size="10" text-anchor="middle" font-weight="bold" textLength="37" lengthAdjust="spacingAndGlyphs">WT-Veh</text>
<text x="456.9" y="360.3" font-size="10" text-anchor="middle" font-weight="bold" textLength="36.5" lengthAdjust="spacingAndGlyphs">KO-Veh</text>
<text x="366.4" y="280.6" font-size="10.2" font-weight="bold" text-anchor="middle" transform="rotate(-90 366.4 280.6)" textLength="88.6" lengthAdjust="spacingAndGlyphs" style="white-space:pre">Total Power  (µV<tspan font-size="6.6" dy="-4">2</tspan><tspan dy="4">)</tspan></text>
<text x="545.6" y="228.6" font-size="18" font-weight="bold">f</text>
<rect x="600.6" y="297.6" width="32.8" height="28.6" fill="#f9dfe2" stroke="#f0787f" stroke-width="1.7"/>
<line x1="617" y1="287.6" x2="617" y2="306.3" stroke="#f0787f" stroke-width="1"/>
<line x1="608.25" y1="287.6" x2="625.75" y2="287.6" stroke="#f0787f" stroke-width="1"/>
<line x1="608.25" y1="306.3" x2="625.75" y2="306.3" stroke="#f0787f" stroke-width="1"/>
<circle cx="617.1" cy="245.9" r="2.75" fill="#f08e96" stroke="#ea6e78" stroke-width="0.8"/>
<circle cx="617.1" cy="259.8" r="2.75" fill="#f08e96" stroke="#ea6e78" stroke-width="0.8"/>
<circle cx="617.1" cy="274.8" r="2.75" fill="#f08e96" stroke="#ea6e78" stroke-width="0.8"/>
<circle cx="617.1" cy="285.9" r="2.75" fill="#f08e96" stroke="#ea6e78" stroke-width="0.8"/>
<circle cx="617.1" cy="295.4" r="2.75" fill="#f08e96" stroke="#ea6e78" stroke-width="0.8"/>
<circle cx="617.1" cy="309.7" r="2.75" fill="#f08e96" stroke="#ea6e78" stroke-width="0.8"/>
<circle cx="617.1" cy="318.4" r="2.75" fill="#f08e96" stroke="#ea6e78" stroke-width="0.8"/>
<circle cx="617" cy="324.6" r="2.75" fill="#f08e96" stroke="#ea6e78" stroke-width="0.8"/>
<circle cx="607" cy="328.6" r="2.75" fill="#f08e96" stroke="#ea6e78" stroke-width="0.8"/>
<circle cx="627.1" cy="328" r="2.75" fill="#f08e96" stroke="#ea6e78" stroke-width="0.8"/>
<line x1="596.3" y1="222.6" x2="596.3" y2="347.4" stroke="#000" stroke-width="1.3"/>
<line x1="591.1" y1="223.2" x2="596.3" y2="223.2" stroke="#000" stroke-width="1.3"/>
<text x="589.1" y="226.7" font-size="9.8" text-anchor="end" font-weight="bold">250</text>
<line x1="591.1" y1="243.8" x2="596.3" y2="243.8" stroke="#000" stroke-width="1.3"/>
<text x="589.1" y="247.3" font-size="9.8" text-anchor="end" font-weight="bold">200</text>
<line x1="591.1" y1="264.4" x2="596.3" y2="264.4" stroke="#000" stroke-width="1.3"/>
<text x="589.1" y="267.9" font-size="9.8" text-anchor="end" font-weight="bold">150</text>
<line x1="591.1" y1="285" x2="596.3" y2="285" stroke="#000" stroke-width="1.3"/>
<text x="589.1" y="288.5" font-size="9.8" text-anchor="end" font-weight="bold">100</text>
<line x1="591.1" y1="305.6" x2="596.3" y2="305.6" stroke="#000" stroke-width="1.3"/>
<text x="589.1" y="309.1" font-size="9.8" text-anchor="end" font-weight="bold">50</text>
<line x1="591.1" y1="326.2" x2="596.3" y2="326.2" stroke="#000" stroke-width="1.3"/>
<text x="589.1" y="329.7" font-size="9.8" text-anchor="end" font-weight="bold">0</text>
<line x1="591.1" y1="346.8" x2="596.3" y2="346.8" stroke="#000" stroke-width="1.3"/>
<text x="589.1" y="350.3" font-size="9.8" text-anchor="end" font-weight="bold">-50</text>
<line x1="596.3" y1="326.2" x2="638" y2="326.2" stroke="#000" stroke-width="1.3"/>
<line x1="596.3" y1="346.8" x2="638.8" y2="346.8" stroke="#000" stroke-width="1.3"/>
<line x1="617" y1="346.8" x2="617" y2="351.6" stroke="#000" stroke-width="1.3"/>
<line x1="601" y1="237.1" x2="631.7" y2="237.1" stroke="#000" stroke-width="1.8"/>
<path d="M617.4 232.2L617.4 228.8M617.4 232.2L620.63 231.15M617.4 232.2L619.4 234.95M617.4 232.2L615.4 234.95M617.4 232.2L614.17 231.15" stroke="#000" stroke-width="1.45" fill="none" stroke-linecap="butt"/>
<text x="617.3" y="362.9" font-size="10" text-anchor="middle" font-weight="bold" textLength="37" lengthAdjust="spacingAndGlyphs">KO-Veh</text>
<text x="553.8" y="283.6" font-size="10.2" font-weight="bold" text-anchor="middle" transform="rotate(-90 553.8 283.6)" textLength="100.4" lengthAdjust="spacingAndGlyphs">% Increase in Power</text>
<text x="564.6" y="283.4" font-size="10.2" font-weight="bold" text-anchor="middle" transform="rotate(-90 564.6 283.4)" textLength="115" lengthAdjust="spacingAndGlyphs">(Normalized to WT-Veh)</text>
<text x="0.8" y="377" font-size="18" font-weight="bold">g</text>
<line x1="40.3" y1="379.5" x2="40.3" y2="502.2" stroke="#000" stroke-width="1.3"/>
<line x1="35.3" y1="380.1" x2="40.3" y2="380.1" stroke="#000" stroke-width="1.3"/>
<text x="26.1" y="383.7" font-size="10.8" font-weight="bold" text-anchor="end" textLength="10" lengthAdjust="spacingAndGlyphs">10</text>
<text x="27.7" y="380.3" font-size="6" font-weight="bold" textLength="5.6" lengthAdjust="spacingAndGlyphs">-6</text>
<line x1="35.3" y1="420.85" x2="40.3" y2="420.85" stroke="#000" stroke-width="1.3"/>
<text x="26.1" y="424.45" font-size="10.8" font-weight="bold" text-anchor="end" textLength="10" lengthAdjust="spacingAndGlyphs">10</text>
<text x="27.7" y="421.05" font-size="6" font-weight="bold" textLength="5.6" lengthAdjust="spacingAndGlyphs">-7</text>
<line x1="35.3" y1="461.5" x2="40.3" y2="461.5" stroke="#000" stroke-width="1.3"/>
<text x="26.1" y="465.1" font-size="10.8" font-weight="bold" text-anchor="end" textLength="10" lengthAdjust="spacingAndGlyphs">10</text>
<text x="27.7" y="461.7" font-size="6" font-weight="bold" textLength="5.6" lengthAdjust="spacingAndGlyphs">-8</text>
<line x1="35.3" y1="502.2" x2="40.3" y2="502.2" stroke="#000" stroke-width="1.3"/>
<text x="26.1" y="505.8" font-size="10.8" font-weight="bold" text-anchor="end" textLength="10" lengthAdjust="spacingAndGlyphs">10</text>
<text x="27.7" y="502.4" font-size="6" font-weight="bold" textLength="5.6" lengthAdjust="spacingAndGlyphs">-9</text>
<line x1="40.3" y1="502.2" x2="145.3" y2="502.2" stroke="#000" stroke-width="1.3"/>
<rect x="41.9" y="435.5" width="7.8" height="66.7" fill="#d5d5d5" stroke="#8a8a8a" stroke-width="1.5"/>
<rect x="53.3" y="420.5" width="7.8" height="81.7" fill="#f9dfe2" stroke="#f0787f" stroke-width="1.5"/>
<rect x="69.2" y="443" width="7.8" height="59.2" fill="#d5d5d5" stroke="#8a8a8a" stroke-width="1.5"/>
<rect x="80.6" y="430" width="7.8" height="72.2" fill="#f9dfe2" stroke="#f0787f" stroke-width="1.5"/>
<rect x="96.6" y="451.8" width="7.8" height="50.4" fill="#d5d5d5" stroke="#8a8a8a" stroke-width="1.5"/>
<rect x="108" y="450" width="7.8" height="52.2" fill="#f9dfe2" stroke="#f0787f" stroke-width="1.5"/>
<rect x="124" y="474.2" width="7.8" height="28" fill="#d5d5d5" stroke="#8a8a8a" stroke-width="1.5"/>
<rect x="135.4" y="467.5" width="7.8" height="34.7" fill="#f9dfe2" stroke="#f0787f" stroke-width="1.5"/>
<circle cx="46.9" cy="419.3" r="2.4" fill="#979797" stroke="#7a7a7a" stroke-width="0.7"/>
<circle cx="46.73" cy="432.6" r="2.4" fill="#979797" stroke="#7a7a7a" stroke-width="0.7"/>
<circle cx="47.92" cy="434.2" r="2.4" fill="#979797" stroke="#7a7a7a" stroke-width="0.7"/>
<circle cx="43.69" cy="435.7" r="2.4" fill="#979797" stroke="#7a7a7a" stroke-width="0.7"/>
<circle cx="46.71" cy="441.9" r="2.4" fill="#979797" stroke="#7a7a7a" stroke-width="0.7"/>
<circle cx="47.83" cy="443.5" r="2.4" fill="#979797" stroke="#7a7a7a" stroke-width="0.7"/>
<circle cx="45.68" cy="449.6" r="2.4" fill="#979797" stroke="#7a7a7a" stroke-width="0.7"/>
<circle cx="45.02" cy="466" r="2.4" fill="#979797" stroke="#7a7a7a" stroke-width="0.7"/>
<circle cx="57.69" cy="405.7" r="2.4" fill="#f08e96" stroke="#ea6e78" stroke-width="0.7"/>
<circle cx="58.31" cy="409.5" r="2.4" fill="#f08e96" stroke="#ea6e78" stroke-width="0.7"/>
<circle cx="55.34" cy="414" r="2.4" fill="#f08e96" stroke="#ea6e78" stroke-width="0.7"/>
<circle cx="55.32" cy="418.7" r="2.4" fill="#f08e96" stroke="#ea6e78" stroke-width="0.7"/>
<circle cx="57.86" cy="421.8" r="2.4" fill="#f08e96" stroke="#ea6e78" stroke-width="0.7"/>
<circle cx="55" cy="426.5" r="2.4" fill="#f08e96" stroke="#ea6e78" stroke-width="0.7"/>
<circle cx="55.03" cy="429.6" r="2.4" fill="#f08e96" stroke="#ea6e78" stroke-width="0.7"/>
<circle cx="56.33" cy="433.6" r="2.4" fill="#f08e96" stroke="#ea6e78" stroke-width="0.7"/>
<circle cx="55.81" cy="437.3" r="2.4" fill="#f08e96" stroke="#ea6e78" stroke-width="0.7"/>
<circle cx="74.43" cy="429.6" r="2.4" fill="#979797" stroke="#7a7a7a" stroke-width="0.7"/>
<circle cx="74.53" cy="434.2" r="2.4" fill="#979797" stroke="#7a7a7a" stroke-width="0.7"/>
<circle cx="71.52" cy="445" r="2.4" fill="#979797" stroke="#7a7a7a" stroke-width="0.7"/>
<circle cx="71.37" cy="449.6" r="2.4" fill="#979797" stroke="#7a7a7a" stroke-width="0.7"/>
<circle cx="72.48" cy="455.8" r="2.4" fill="#979797" stroke="#7a7a7a" stroke-width="0.7"/>
<circle cx="73.24" cy="475.9" r="2.4" fill="#979797" stroke="#7a7a7a" stroke-width="0.7"/>
<circle cx="84.7" cy="427.4" r="2.4" fill="#f08e96" stroke="#ea6e78" stroke-width="0.7"/>
<circle cx="83.92" cy="429.6" r="2.4" fill="#f08e96" stroke="#ea6e78" stroke-width="0.7"/>
<circle cx="84.17" cy="432.6" r="2.4" fill="#f08e96" stroke="#ea6e78" stroke-width="0.7"/>
<circle cx="83.83" cy="434.2" r="2.4" fill="#f08e96" stroke="#ea6e78" stroke-width="0.7"/>
<circle cx="83.42" cy="436.7" r="2.4" fill="#f08e96" stroke="#ea6e78" stroke-width="0.7"/>
<circle cx="85.08" cy="437.9" r="2.4" fill="#f08e96" stroke="#ea6e78" stroke-width="0.7"/>
<circle cx="99.39" cy="443.5" r="2.4" fill="#979797" stroke="#7a7a7a" stroke-width="0.7"/>
<circle cx="100.11" cy="446.5" r="2.4" fill="#979797" stroke="#7a7a7a" stroke-width="0.7"/>
<circle cx="100.56" cy="450" r="2.4" fill="#979797" stroke="#7a7a7a" stroke-width="0.7"/>
<circle cx="99.56" cy="452.7" r="2.4" fill="#979797" stroke="#7a7a7a" stroke-width="0.7"/>
<circle cx="99.7" cy="455.8" r="2.4" fill="#979797" stroke="#7a7a7a" stroke-width="0.7"/>
<circle cx="99.26" cy="459" r="2.4" fill="#979797" stroke="#7a7a7a" stroke-width="0.7"/>
<circle cx="99.37" cy="462" r="2.4" fill="#979797" stroke="#7a7a7a" stroke-width="0.7"/>
<circle cx="99.19" cy="465" r="2.4" fill="#979797" stroke="#7a7a7a" stroke-width="0.7"/>
<circle cx="99.5" cy="471.3" r="2.4" fill="#979797" stroke="#7a7a7a" stroke-width="0.7"/>
<circle cx="101.48" cy="479" r="2.4" fill="#979797" stroke="#7a7a7a" stroke-width="0.7"/>
<circle cx="110.19" cy="437.3" r="2.4" fill="#f08e96" stroke="#ea6e78" stroke-width="0.7"/>
<circle cx="112.47" cy="441" r="2.4" fill="#f08e96" stroke="#ea6e78" stroke-width="0.7"/>
<circle cx="111.89" cy="445" r="2.4" fill="#f08e96" stroke="#ea6e78" stroke-width="0.7"/>
<circle cx="110.41" cy="447" r="2.4" fill="#f08e96" stroke="#ea6e78" stroke-width="0.7"/>
<circle cx="111.07" cy="449.6" r="2.4" fill="#f08e96" stroke="#ea6e78" stroke-width="0.7"/>
<circle cx="111.09" cy="451" r="2.4" fill="#f08e96" stroke="#ea6e78" stroke-width="0.7"/>
<circle cx="110.98" cy="452.7" r="2.4" fill="#f08e96" stroke="#ea6e78" stroke-width="0.7"/>
<circle cx="110.04" cy="454" r="2.4" fill="#f08e96" stroke="#ea6e78" stroke-width="0.7"/>
<circle cx="112.2" cy="455.8" r="2.4" fill="#f08e96" stroke="#ea6e78" stroke-width="0.7"/>
<circle cx="112.44" cy="457" r="2.4" fill="#f08e96" stroke="#ea6e78" stroke-width="0.7"/>
<circle cx="110.28" cy="459" r="2.4" fill="#f08e96" stroke="#ea6e78" stroke-width="0.7"/>
<circle cx="109.76" cy="461" r="2.4" fill="#f08e96" stroke="#ea6e78" stroke-width="0.7"/>
<circle cx="127.81" cy="463.5" r="2.4" fill="#979797" stroke="#7a7a7a" stroke-width="0.7"/>
<circle cx="127.37" cy="466.6" r="2.4" fill="#979797" stroke="#7a7a7a" stroke-width="0.7"/>
<circle cx="126.15" cy="469" r="2.4" fill="#979797" stroke="#7a7a7a" stroke-width="0.7"/>
<circle cx="125.99" cy="472.8" r="2.4" fill="#979797" stroke="#7a7a7a" stroke-width="0.7"/>
<circle cx="130.21" cy="475" r="2.4" fill="#979797" stroke="#7a7a7a" stroke-width="0.7"/>
<circle cx="129.34" cy="477.5" r="2.4" fill="#979797" stroke="#7a7a7a" stroke-width="0.7"/>
<circle cx="128.44" cy="480" r="2.4" fill="#979797" stroke="#7a7a7a" stroke-width="0.7"/>
<circle cx="127.54" cy="482" r="2.4" fill="#979797" stroke="#7a7a7a" stroke-width="0.7"/>
<circle cx="129.98" cy="486.7" r="2.4" fill="#979797" stroke="#7a7a7a" stroke-width="0.7"/>
<circle cx="139.64" cy="455.8" r="2.4" fill="#f08e96" stroke="#ea6e78" stroke-width="0.7"/>
<circle cx="139.77" cy="459" r="2.4" fill="#f08e96" stroke="#ea6e78" stroke-width="0.7"/>
<circle cx="138.22" cy="462" r="2.4" fill="#f08e96" stroke="#ea6e78" stroke-width="0.7"/>
<circle cx="139.62" cy="465.1" r="2.4" fill="#f08e96" stroke="#ea6e78" stroke-width="0.7"/>
<circle cx="140.06" cy="467" r="2.4" fill="#f08e96" stroke="#ea6e78" stroke-width="0.7"/>
<circle cx="140.51" cy="469.7" r="2.4" fill="#f08e96" stroke="#ea6e78" stroke-width="0.7"/>
<circle cx="140.25" cy="471" r="2.4" fill="#f08e96" stroke="#ea6e78" stroke-width="0.7"/>
<circle cx="141.14" cy="474.4" r="2.4" fill="#f08e96" stroke="#ea6e78" stroke-width="0.7"/>
<circle cx="137.31" cy="476" r="2.4" fill="#f08e96" stroke="#ea6e78" stroke-width="0.7"/>
<circle cx="141.34" cy="479" r="2.4" fill="#f08e96" stroke="#ea6e78" stroke-width="0.7"/>
<circle cx="139.71" cy="481" r="2.4" fill="#f08e96" stroke="#ea6e78" stroke-width="0.7"/>
<circle cx="138.41" cy="483.6" r="2.4" fill="#f08e96" stroke="#ea6e78" stroke-width="0.7"/>
<line x1="45.8" y1="432.3" x2="45.8" y2="438.7" stroke="#8a8a8a" stroke-width="0.9"/>
<line x1="43.55" y1="432.3" x2="48.05" y2="432.3" stroke="#8a8a8a" stroke-width="0.9"/>
<line x1="43.55" y1="438.7" x2="48.05" y2="438.7" stroke="#8a8a8a" stroke-width="0.9"/>
<line x1="57.2" y1="417.3" x2="57.2" y2="423.7" stroke="#f0787f" stroke-width="0.9"/>
<line x1="54.95" y1="417.3" x2="59.45" y2="417.3" stroke="#f0787f" stroke-width="0.9"/>
<line x1="54.95" y1="423.7" x2="59.45" y2="423.7" stroke="#f0787f" stroke-width="0.9"/>
<line x1="73.1" y1="439.8" x2="73.1" y2="446.2" stroke="#8a8a8a" stroke-width="0.9"/>
<line x1="70.85" y1="439.8" x2="75.35" y2="439.8" stroke="#8a8a8a" stroke-width="0.9"/>
<line x1="70.85" y1="446.2" x2="75.35" y2="446.2" stroke="#8a8a8a" stroke-width="0.9"/>
<line x1="84.5" y1="426.8" x2="84.5" y2="433.2" stroke="#f0787f" stroke-width="0.9"/>
<line x1="82.25" y1="426.8" x2="86.75" y2="426.8" stroke="#f0787f" stroke-width="0.9"/>
<line x1="82.25" y1="433.2" x2="86.75" y2="433.2" stroke="#f0787f" stroke-width="0.9"/>
<line x1="100.5" y1="448.6" x2="100.5" y2="455" stroke="#8a8a8a" stroke-width="0.9"/>
<line x1="98.25" y1="448.6" x2="102.75" y2="448.6" stroke="#8a8a8a" stroke-width="0.9"/>
<line x1="98.25" y1="455" x2="102.75" y2="455" stroke="#8a8a8a" stroke-width="0.9"/>
<line x1="111.9" y1="446.8" x2="111.9" y2="453.2" stroke="#f0787f" stroke-width="0.9"/>
<line x1="109.65" y1="446.8" x2="114.15" y2="446.8" stroke="#f0787f" stroke-width="0.9"/>
<line x1="109.65" y1="453.2" x2="114.15" y2="453.2" stroke="#f0787f" stroke-width="0.9"/>
<line x1="127.9" y1="471" x2="127.9" y2="477.4" stroke="#8a8a8a" stroke-width="0.9"/>
<line x1="125.65" y1="471" x2="130.15" y2="471" stroke="#8a8a8a" stroke-width="0.9"/>
<line x1="125.65" y1="477.4" x2="130.15" y2="477.4" stroke="#8a8a8a" stroke-width="0.9"/>
<line x1="139.3" y1="464.3" x2="139.3" y2="470.7" stroke="#f0787f" stroke-width="0.9"/>
<line x1="137.05" y1="464.3" x2="141.55" y2="464.3" stroke="#f0787f" stroke-width="0.9"/>
<line x1="137.05" y1="470.7" x2="141.55" y2="470.7" stroke="#f0787f" stroke-width="0.9"/>
<line x1="51.5" y1="502.2" x2="51.5" y2="506.6" stroke="#000" stroke-width="1.3"/>
<text x="51.5" y="517.5" font-size="10.5" text-anchor="middle" font-weight="bold">δ</text>
<line x1="78.8" y1="502.2" x2="78.8" y2="506.6" stroke="#000" stroke-width="1.3"/>
<text x="78.8" y="517.5" font-size="10.5" text-anchor="middle" font-weight="bold">θ</text>
<line x1="106.2" y1="502.2" x2="106.2" y2="506.6" stroke="#000" stroke-width="1.3"/>
<text x="106.2" y="517.5" font-size="10.5" text-anchor="middle" font-weight="bold">α</text>
<line x1="133.6" y1="502.2" x2="133.6" y2="506.6" stroke="#000" stroke-width="1.3"/>
<text x="133.6" y="517.5" font-size="10.5" text-anchor="middle" font-weight="bold">β</text>
<path d="M45.3 399.8 L45.3 394 L57.1 394 L57.1 399.8" stroke="#000" stroke-width="1.6" fill="none"/>
<path d="M51.7 390.3L51.7 386.9M51.7 390.3L54.93 389.25M51.7 390.3L53.7 393.05M51.7 390.3L49.7 393.05M51.7 390.3L48.47 389.25" stroke="#000" stroke-width="1.45" fill="none" stroke-linecap="butt"/>
<path d="M72.4 420.5 L72.4 414.7 L84.3 414.7 L84.3 420.5" stroke="#000" stroke-width="1.6" fill="none"/>
<path d="M78.5 411L78.5 407.6M78.5 411L81.73 409.95M78.5 411L80.5 413.75M78.5 411L76.5 413.75M78.5 411L75.27 409.95" stroke="#000" stroke-width="1.45" fill="none" stroke-linecap="butt"/>
<circle cx="96.8" cy="384.1" r="3.2" fill="#979797" stroke="#7a7a7a" stroke-width="0.7"/>
<circle cx="96.8" cy="394.6" r="3.2" fill="#f08e96" stroke="#ea6e78" stroke-width="0.7"/>
<text x="109.7" y="387.8" font-size="10" font-weight="bold" textLength="34" lengthAdjust="spacingAndGlyphs">WT-Veh</text>
<text x="109.7" y="398.3" font-size="10" font-weight="bold" textLength="34" lengthAdjust="spacingAndGlyphs">KO-Veh</text>
<text x="13.4" y="439" font-size="10" font-weight="bold" text-anchor="middle" transform="rotate(-90 13.4 439)" textLength="55" lengthAdjust="spacingAndGlyphs" style="white-space:pre">Power  (V<tspan font-size="7.5" dy="-4.2">2</tspan><tspan dy="4.2">)</tspan></text>
<text x="525.6" y="377" font-size="18" font-weight="bold">j</text>
<line x1="567.2" y1="379.5" x2="567.2" y2="502.2" stroke="#000" stroke-width="1.3"/>
<line x1="562.2" y1="380.1" x2="567.2" y2="380.1" stroke="#000" stroke-width="1.3"/>
<text x="553" y="383.7" font-size="10.8" font-weight="bold" text-anchor="end" textLength="10" lengthAdjust="spacingAndGlyphs">10</text>
<text x="554.6" y="380.3" font-size="6" font-weight="bold" textLength="5.6" lengthAdjust="spacingAndGlyphs">-6</text>
<line x1="562.2" y1="420.85" x2="567.2" y2="420.85" stroke="#000" stroke-width="1.3"/>
<text x="553" y="424.45" font-size="10.8" font-weight="bold" text-anchor="end" textLength="10" lengthAdjust="spacingAndGlyphs">10</text>
<text x="554.6" y="421.05" font-size="6" font-weight="bold" textLength="5.6" lengthAdjust="spacingAndGlyphs">-7</text>
<line x1="562.2" y1="461.5" x2="567.2" y2="461.5" stroke="#000" stroke-width="1.3"/>
<text x="553" y="465.1" font-size="10.8" font-weight="bold" text-anchor="end" textLength="10" lengthAdjust="spacingAndGlyphs">10</text>
<text x="554.6" y="461.7" font-size="6" font-weight="bold" textLength="5.6" lengthAdjust="spacingAndGlyphs">-8</text>
<line x1="562.2" y1="502.2" x2="567.2" y2="502.2" stroke="#000" stroke-width="1.3"/>
<text x="553" y="505.8" font-size="10.8" font-weight="bold" text-anchor="end" textLength="10" lengthAdjust="spacingAndGlyphs">10</text>
<text x="554.6" y="502.4" font-size="6" font-weight="bold" textLength="5.6" lengthAdjust="spacingAndGlyphs">-9</text>
<line x1="567.2" y1="502.2" x2="671.1" y2="502.2" stroke="#000" stroke-width="1.3"/>
<rect x="568.8" y="418.5" width="7.8" height="83.7" fill="#f9dfe2" stroke="#f0787f" stroke-width="1.5"/>
<rect x="580.2" y="434" width="7.8" height="68.2" fill="#bd8bc2" stroke="#5c0c5e" stroke-width="1.5"/>
<rect x="595.7" y="428.5" width="7.8" height="73.7" fill="#f9dfe2" stroke="#f0787f" stroke-width="1.5"/>
<rect x="607.1" y="434.5" width="7.8" height="67.7" fill="#bd8bc2" stroke="#5c0c5e" stroke-width="1.5"/>
<rect x="623.4" y="451" width="7.8" height="51.2" fill="#f9dfe2" stroke="#f0787f" stroke-width="1.5"/>
<rect x="634.8" y="450" width="7.8" height="52.2" fill="#bd8bc2" stroke="#5c0c5e" stroke-width="1.5"/>
<rect x="650.1" y="468" width="7.8" height="34.2" fill="#f9dfe2" stroke="#f0787f" stroke-width="1.5"/>
<rect x="661.5" y="474.5" width="7.8" height="27.7" fill="#bd8bc2" stroke="#5c0c5e" stroke-width="1.5"/>
<circle cx="573.43" cy="405.4" r="2.4" fill="#f08e96" stroke="#ea6e78" stroke-width="0.7"/>
<circle cx="574.02" cy="409" r="2.4" fill="#f08e96" stroke="#ea6e78" stroke-width="0.7"/>
<circle cx="571.59" cy="411.5" r="2.4" fill="#f08e96" stroke="#ea6e78" stroke-width="0.7"/>
<circle cx="573.25" cy="415" r="2.4" fill="#f08e96" stroke="#ea6e78" stroke-width="0.7"/>
<circle cx="571.99" cy="418.4" r="2.4" fill="#f08e96" stroke="#ea6e78" stroke-width="0.7"/>
<circle cx="574.53" cy="421" r="2.4" fill="#f08e96" stroke="#ea6e78" stroke-width="0.7"/>
<circle cx="571.42" cy="424.6" r="2.4" fill="#f08e96" stroke="#ea6e78" stroke-width="0.7"/>
<circle cx="571.77" cy="428" r="2.4" fill="#f08e96" stroke="#ea6e78" stroke-width="0.7"/>
<circle cx="575.04" cy="432.2" r="2.4" fill="#f08e96" stroke="#ea6e78" stroke-width="0.7"/>
<circle cx="573.75" cy="434" r="2.4" fill="#f08e96" stroke="#ea6e78" stroke-width="0.7"/>
<circle cx="572.91" cy="436.1" r="2.4" fill="#f08e96" stroke="#ea6e78" stroke-width="0.7"/>
<circle cx="571.53" cy="438.4" r="2.4" fill="#f08e96" stroke="#ea6e78" stroke-width="0.7"/>
<circle cx="583.96" cy="432.2" r="2.4" fill="#7a2680" stroke="#5a0c5e" stroke-width="0.7"/>
<circle cx="585.87" cy="435" r="2.4" fill="#7a2680" stroke="#5a0c5e" stroke-width="0.7"/>
<circle cx="584.51" cy="438.4" r="2.4" fill="#7a2680" stroke="#5a0c5e" stroke-width="0.7"/>
<circle cx="585.34" cy="441.4" r="2.4" fill="#7a2680" stroke="#5a0c5e" stroke-width="0.7"/>
<circle cx="586.49" cy="443" r="2.4" fill="#7a2680" stroke="#5a0c5e" stroke-width="0.7"/>
<circle cx="582.56" cy="446" r="2.4" fill="#7a2680" stroke="#5a0c5e" stroke-width="0.7"/>
<circle cx="582.28" cy="448" r="2.4" fill="#7a2680" stroke="#5a0c5e" stroke-width="0.7"/>
<circle cx="582.43" cy="450.6" r="2.4" fill="#7a2680" stroke="#5a0c5e" stroke-width="0.7"/>
<circle cx="583.41" cy="454.5" r="2.4" fill="#7a2680" stroke="#5a0c5e" stroke-width="0.7"/>
<circle cx="597.79" cy="428.4" r="2.4" fill="#f08e96" stroke="#ea6e78" stroke-width="0.7"/>
<circle cx="600.7" cy="430.7" r="2.4" fill="#f08e96" stroke="#ea6e78" stroke-width="0.7"/>
<circle cx="601.46" cy="433" r="2.4" fill="#f08e96" stroke="#ea6e78" stroke-width="0.7"/>
<circle cx="601.79" cy="435.3" r="2.4" fill="#f08e96" stroke="#ea6e78" stroke-width="0.7"/>
<circle cx="599.79" cy="437.6" r="2.4" fill="#f08e96" stroke="#ea6e78" stroke-width="0.7"/>
<circle cx="600.82" cy="440.7" r="2.4" fill="#f08e96" stroke="#ea6e78" stroke-width="0.7"/>
<circle cx="609.05" cy="425.3" r="2.4" fill="#7a2680" stroke="#5a0c5e" stroke-width="0.7"/>
<circle cx="610.75" cy="428.4" r="2.4" fill="#7a2680" stroke="#5a0c5e" stroke-width="0.7"/>
<circle cx="609.43" cy="432" r="2.4" fill="#7a2680" stroke="#5a0c5e" stroke-width="0.7"/>
<circle cx="612" cy="435.3" r="2.4" fill="#7a2680" stroke="#5a0c5e" stroke-width="0.7"/>
<circle cx="612.48" cy="437" r="2.4" fill="#7a2680" stroke="#5a0c5e" stroke-width="0.7"/>
<circle cx="610.79" cy="439.9" r="2.4" fill="#7a2680" stroke="#5a0c5e" stroke-width="0.7"/>
<circle cx="611.59" cy="443" r="2.4" fill="#7a2680" stroke="#5a0c5e" stroke-width="0.7"/>
<circle cx="609.19" cy="446" r="2.4" fill="#7a2680" stroke="#5a0c5e" stroke-width="0.7"/>
<circle cx="610.17" cy="449" r="2.4" fill="#7a2680" stroke="#5a0c5e" stroke-width="0.7"/>
<circle cx="612.73" cy="452.2" r="2.4" fill="#7a2680" stroke="#5a0c5e" stroke-width="0.7"/>
<circle cx="613.38" cy="453.7" r="2.4" fill="#7a2680" stroke="#5a0c5e" stroke-width="0.7"/>
<circle cx="627.89" cy="437.7" r="2.4" fill="#f08e96" stroke="#ea6e78" stroke-width="0.7"/>
<circle cx="629.45" cy="443.8" r="2.4" fill="#f08e96" stroke="#ea6e78" stroke-width="0.7"/>
<circle cx="629.16" cy="446.9" r="2.4" fill="#f08e96" stroke="#ea6e78" stroke-width="0.7"/>
<circle cx="628.72" cy="449.2" r="2.4" fill="#f08e96" stroke="#ea6e78" stroke-width="0.7"/>
<circle cx="625.95" cy="452.2" r="2.4" fill="#f08e96" stroke="#ea6e78" stroke-width="0.7"/>
<circle cx="625.56" cy="454.6" r="2.4" fill="#f08e96" stroke="#ea6e78" stroke-width="0.7"/>
<circle cx="626.93" cy="456.9" r="2.4" fill="#f08e96" stroke="#ea6e78" stroke-width="0.7"/>
<circle cx="629.24" cy="458.4" r="2.4" fill="#f08e96" stroke="#ea6e78" stroke-width="0.7"/>
<circle cx="640.2" cy="448.4" r="2.4" fill="#7a2680" stroke="#5a0c5e" stroke-width="0.7"/>
<circle cx="639.36" cy="450" r="2.4" fill="#7a2680" stroke="#5a0c5e" stroke-width="0.7"/>
<circle cx="639.28" cy="453" r="2.4" fill="#7a2680" stroke="#5a0c5e" stroke-width="0.7"/>
<circle cx="639.92" cy="456.1" r="2.4" fill="#7a2680" stroke="#5a0c5e" stroke-width="0.7"/>
<circle cx="639.32" cy="459.2" r="2.4" fill="#7a2680" stroke="#5a0c5e" stroke-width="0.7"/>
<circle cx="638.82" cy="462.2" r="2.4" fill="#7a2680" stroke="#5a0c5e" stroke-width="0.7"/>
<circle cx="637.83" cy="465.3" r="2.4" fill="#7a2680" stroke="#5a0c5e" stroke-width="0.7"/>
<circle cx="639.71" cy="468.4" r="2.4" fill="#7a2680" stroke="#5a0c5e" stroke-width="0.7"/>
<circle cx="652.71" cy="455.3" r="2.4" fill="#f08e96" stroke="#ea6e78" stroke-width="0.7"/>
<circle cx="652.83" cy="460.7" r="2.4" fill="#f08e96" stroke="#ea6e78" stroke-width="0.7"/>
<circle cx="653.49" cy="467.6" r="2.4" fill="#f08e96" stroke="#ea6e78" stroke-width="0.7"/>
<circle cx="654.58" cy="471.4" r="2.4" fill="#f08e96" stroke="#ea6e78" stroke-width="0.7"/>
<circle cx="656.28" cy="474.5" r="2.4" fill="#f08e96" stroke="#ea6e78" stroke-width="0.7"/>
<circle cx="652.19" cy="477.6" r="2.4" fill="#f08e96" stroke="#ea6e78" stroke-width="0.7"/>
<circle cx="656.33" cy="480.6" r="2.4" fill="#f08e96" stroke="#ea6e78" stroke-width="0.7"/>
<circle cx="652.77" cy="482.9" r="2.4" fill="#f08e96" stroke="#ea6e78" stroke-width="0.7"/>
<circle cx="666.04" cy="464.5" r="2.4" fill="#7a2680" stroke="#5a0c5e" stroke-width="0.7"/>
<circle cx="665.85" cy="469.9" r="2.4" fill="#7a2680" stroke="#5a0c5e" stroke-width="0.7"/>
<circle cx="665.79" cy="472" r="2.4" fill="#7a2680" stroke="#5a0c5e" stroke-width="0.7"/>
<circle cx="666.59" cy="474.5" r="2.4" fill="#7a2680" stroke="#5a0c5e" stroke-width="0.7"/>
<circle cx="663.85" cy="477.6" r="2.4" fill="#7a2680" stroke="#5a0c5e" stroke-width="0.7"/>
<circle cx="663.59" cy="480.6" r="2.4" fill="#7a2680" stroke="#5a0c5e" stroke-width="0.7"/>
<circle cx="665.9" cy="483.7" r="2.4" fill="#7a2680" stroke="#5a0c5e" stroke-width="0.7"/>
<circle cx="663.79" cy="485.5" r="2.4" fill="#7a2680" stroke="#5a0c5e" stroke-width="0.7"/>
<circle cx="667.79" cy="487.5" r="2.4" fill="#7a2680" stroke="#5a0c5e" stroke-width="0.7"/>
<circle cx="664.57" cy="490.6" r="2.4" fill="#7a2680" stroke="#5a0c5e" stroke-width="0.7"/>
<line x1="572.7" y1="415.3" x2="572.7" y2="421.7" stroke="#f0787f" stroke-width="0.9"/>
<line x1="570.45" y1="415.3" x2="574.95" y2="415.3" stroke="#f0787f" stroke-width="0.9"/>
<line x1="570.45" y1="421.7" x2="574.95" y2="421.7" stroke="#f0787f" stroke-width="0.9"/>
<line x1="584.1" y1="430.8" x2="584.1" y2="437.2" stroke="#5c0c5e" stroke-width="0.9"/>
<line x1="581.85" y1="430.8" x2="586.35" y2="430.8" stroke="#5c0c5e" stroke-width="0.9"/>
<line x1="581.85" y1="437.2" x2="586.35" y2="437.2" stroke="#5c0c5e" stroke-width="0.9"/>
<line x1="599.6" y1="425.3" x2="599.6" y2="431.7" stroke="#f0787f" stroke-width="0.9"/>
<line x1="597.35" y1="425.3" x2="601.85" y2="425.3" stroke="#f0787f" stroke-width="0.9"/>
<line x1="597.35" y1="431.7" x2="601.85" y2="431.7" stroke="#f0787f" stroke-width="0.9"/>
<line x1="611" y1="431.3" x2="611" y2="437.7" stroke="#5c0c5e" stroke-width="0.9"/>
<line x1="608.75" y1="431.3" x2="613.25" y2="431.3" stroke="#5c0c5e" stroke-width="0.9"/>
<line x1="608.75" y1="437.7" x2="613.25" y2="437.7" stroke="#5c0c5e" stroke-width="0.9"/>
<line x1="627.3" y1="447.8" x2="627.3" y2="454.2" stroke="#f0787f" stroke-width="0.9"/>
<line x1="625.05" y1="447.8" x2="629.55" y2="447.8" stroke="#f0787f" stroke-width="0.9"/>
<line x1="625.05" y1="454.2" x2="629.55" y2="454.2" stroke="#f0787f" stroke-width="0.9"/>
<line x1="638.7" y1="446.8" x2="638.7" y2="453.2" stroke="#5c0c5e" stroke-width="0.9"/>
<line x1="636.45" y1="446.8" x2="640.95" y2="446.8" stroke="#5c0c5e" stroke-width="0.9"/>
<line x1="636.45" y1="453.2" x2="640.95" y2="453.2" stroke="#5c0c5e" stroke-width="0.9"/>
<line x1="654" y1="464.8" x2="654" y2="471.2" stroke="#f0787f" stroke-width="0.9"/>
<line x1="651.75" y1="464.8" x2="656.25" y2="464.8" stroke="#f0787f" stroke-width="0.9"/>
<line x1="651.75" y1="471.2" x2="656.25" y2="471.2" stroke="#f0787f" stroke-width="0.9"/>
<line x1="665.4" y1="471.3" x2="665.4" y2="477.7" stroke="#5c0c5e" stroke-width="0.9"/>
<line x1="663.15" y1="471.3" x2="667.65" y2="471.3" stroke="#5c0c5e" stroke-width="0.9"/>
<line x1="663.15" y1="477.7" x2="667.65" y2="477.7" stroke="#5c0c5e" stroke-width="0.9"/>
<line x1="578.4" y1="502.2" x2="578.4" y2="506.6" stroke="#000" stroke-width="1.3"/>
<text x="578.4" y="517.5" font-size="10.5" text-anchor="middle" font-weight="bold">δ</text>
<line x1="605.3" y1="502.2" x2="605.3" y2="506.6" stroke="#000" stroke-width="1.3"/>
<text x="605.3" y="517.5" font-size="10.5" text-anchor="middle" font-weight="bold">θ</text>
<line x1="633" y1="502.2" x2="633" y2="506.6" stroke="#000" stroke-width="1.3"/>
<text x="633" y="517.5" font-size="10.5" text-anchor="middle" font-weight="bold">α</text>
<line x1="659.7" y1="502.2" x2="659.7" y2="506.6" stroke="#000" stroke-width="1.3"/>
<text x="659.7" y="517.5" font-size="10.5" text-anchor="middle" font-weight="bold">β</text>
<circle cx="581" cy="421.5" r="2.4" fill="#7a2680" stroke="#5a0c5e" stroke-width="0.7"/>
<circle cx="584.3" cy="421.5" r="2.4" fill="#7a2680" stroke="#5a0c5e" stroke-width="0.7"/>
<circle cx="587.6" cy="421.5" r="2.4" fill="#7a2680" stroke="#5a0c5e" stroke-width="0.7"/>
<path d="M572.2 399.8 L572.2 394 L583.6 394 L583.6 399.8" stroke="#000" stroke-width="1.6" fill="none"/>
<path d="M578.4 390.3L578.4 386.9M578.4 390.3L581.63 389.25M578.4 390.3L580.4 393.05M578.4 390.3L576.4 393.05M578.4 390.3L575.17 389.25" stroke="#000" stroke-width="1.45" fill="none" stroke-linecap="butt"/>
<path d="M599.1 420.3 L599.1 414.7 L611.4 414.7 L611.4 420.3" stroke="#000" stroke-width="1.6" fill="none"/>
<path d="M605.3 411L605.3 407.6M605.3 411L608.53 409.95M605.3 411L607.3 413.75M605.3 411L603.3 413.75M605.3 411L602.07 409.95" stroke="#000" stroke-width="1.45" fill="none" stroke-linecap="butt"/>
<circle cx="620.1" cy="384.7" r="3.2" fill="#f08e96" stroke="#ea6e78" stroke-width="0.7"/>
<circle cx="620.1" cy="395.5" r="3.2" fill="#7a2680" stroke="#5a0c5e" stroke-width="0.7"/>
<text x="633.4" y="388.4" font-size="10" font-weight="bold" textLength="33.6" lengthAdjust="spacingAndGlyphs">KO-Veh</text>
<text x="633.4" y="399.2" font-size="10" font-weight="bold" textLength="32.6" lengthAdjust="spacingAndGlyphs">KO-350</text>
<text x="540.2" y="439" font-size="10" font-weight="bold" text-anchor="middle" transform="rotate(-90 540.2 439)" textLength="55" lengthAdjust="spacingAndGlyphs" style="white-space:pre">Power  (V<tspan font-size="7.5" dy="-4.2">2</tspan><tspan dy="4.2">)</tspan></text>
<text x="189.6" y="378" font-size="18" font-weight="bold">h</text>
<rect x="235" y="451.4" width="32.4" height="51.6" fill="#f9dfe2" stroke="#f0787f" stroke-width="1.7"/>
<rect x="276.5" y="470.4" width="32.3" height="32.6" fill="#bd8bc2" stroke="#5c0c5e" stroke-width="1.7"/>
<line x1="251.3" y1="443.5" x2="251.3" y2="457.3" stroke="#f0787f" stroke-width="1"/>
<line x1="242.8" y1="443.5" x2="259.8" y2="443.5" stroke="#f0787f" stroke-width="1"/>
<line x1="242.8" y1="457.3" x2="259.8" y2="457.3" stroke="#f0787f" stroke-width="1"/>
<line x1="292.6" y1="466.5" x2="292.6" y2="473.9" stroke="#5c0c5e" stroke-width="1"/>
<line x1="284.1" y1="466.5" x2="301.1" y2="466.5" stroke="#5c0c5e" stroke-width="1"/>
<line x1="284.1" y1="473.9" x2="301.1" y2="473.9" stroke="#5c0c5e" stroke-width="1"/>
<circle cx="251.2" cy="412.2" r="2.75" fill="#f08e96" stroke="#ea6e78" stroke-width="0.8"/>
<circle cx="251.2" cy="422.6" r="2.75" fill="#f08e96" stroke="#ea6e78" stroke-width="0.8"/>
<circle cx="251.2" cy="433.8" r="2.75" fill="#f08e96" stroke="#ea6e78" stroke-width="0.8"/>
<circle cx="251.2" cy="442.2" r="2.75" fill="#f08e96" stroke="#ea6e78" stroke-width="0.8"/>
<circle cx="251.2" cy="449.6" r="2.75" fill="#f08e96" stroke="#ea6e78" stroke-width="0.8"/>
<circle cx="251.2" cy="460.2" r="2.75" fill="#f08e96" stroke="#ea6e78" stroke-width="0.8"/>
<circle cx="261.3" cy="466.5" r="2.75" fill="#f08e96" stroke="#ea6e78" stroke-width="0.8"/>
<circle cx="251.2" cy="471.1" r="2.75" fill="#f08e96" stroke="#ea6e78" stroke-width="0.8"/>
<circle cx="241.5" cy="473.9" r="2.75" fill="#f08e96" stroke="#ea6e78" stroke-width="0.8"/>
<circle cx="261.3" cy="473.5" r="2.75" fill="#f08e96" stroke="#ea6e78" stroke-width="0.8"/>
<circle cx="282.6" cy="449.2" r="2.75" fill="#8c3a8e" stroke="#640f66" stroke-width="0.8"/>
<circle cx="292.6" cy="453.2" r="2.75" fill="#8c3a8e" stroke="#640f66" stroke-width="0.8"/>
<circle cx="302.7" cy="451.3" r="2.75" fill="#8c3a8e" stroke="#640f66" stroke-width="0.8"/>
<circle cx="292.6" cy="461.2" r="2.75" fill="#8c3a8e" stroke="#640f66" stroke-width="0.8"/>
<circle cx="292.6" cy="469.7" r="2.75" fill="#8c3a8e" stroke="#640f66" stroke-width="0.8"/>
<circle cx="302.7" cy="469.7" r="2.75" fill="#8c3a8e" stroke="#640f66" stroke-width="0.8"/>
<circle cx="282.6" cy="472.8" r="2.75" fill="#8c3a8e" stroke="#640f66" stroke-width="0.8"/>
<circle cx="292.6" cy="476.4" r="2.75" fill="#8c3a8e" stroke="#640f66" stroke-width="0.8"/>
<circle cx="302.7" cy="475.6" r="2.75" fill="#8c3a8e" stroke="#640f66" stroke-width="0.8"/>
<circle cx="292.6" cy="484.4" r="2.75" fill="#8c3a8e" stroke="#640f66" stroke-width="0.8"/>
<circle cx="282.6" cy="488.7" r="2.75" fill="#8c3a8e" stroke="#640f66" stroke-width="0.8"/>
<circle cx="302.7" cy="487.6" r="2.75" fill="#8c3a8e" stroke="#640f66" stroke-width="0.8"/>
<line x1="230.6" y1="379.5" x2="230.6" y2="503.6" stroke="#000" stroke-width="1.3"/>
<line x1="225.4" y1="503" x2="230.6" y2="503" stroke="#000" stroke-width="1.3"/>
<text x="223.4" y="506.5" font-size="9.8" text-anchor="end" font-weight="bold">0.0</text>
<line x1="225.4" y1="478.42" x2="230.6" y2="478.42" stroke="#000" stroke-width="1.3"/>
<text x="223.4" y="481.92" font-size="9.8" text-anchor="end" font-weight="bold">0.2</text>
<line x1="225.4" y1="453.84" x2="230.6" y2="453.84" stroke="#000" stroke-width="1.3"/>
<text x="223.4" y="457.34" font-size="9.8" text-anchor="end" font-weight="bold">0.4</text>
<line x1="225.4" y1="429.26" x2="230.6" y2="429.26" stroke="#000" stroke-width="1.3"/>
<text x="223.4" y="432.76" font-size="9.8" text-anchor="end" font-weight="bold">0.6</text>
<line x1="225.4" y1="404.68" x2="230.6" y2="404.68" stroke="#000" stroke-width="1.3"/>
<text x="223.4" y="408.18" font-size="9.8" text-anchor="end" font-weight="bold">0.8</text>
<line x1="225.4" y1="380.1" x2="230.6" y2="380.1" stroke="#000" stroke-width="1.3"/>
<text x="223.4" y="383.6" font-size="9.8" text-anchor="end" font-weight="bold">1.0</text>
<line x1="230.6" y1="503" x2="313.5" y2="503" stroke="#000" stroke-width="1.3"/>
<line x1="251.3" y1="503" x2="251.3" y2="507.8" stroke="#000" stroke-width="1.3"/>
<line x1="292.6" y1="503" x2="292.6" y2="507.8" stroke="#000" stroke-width="1.3"/>
<path d="M251.3 401.8 L251.3 396.3 L292.6 396.3 L292.6 437.6" stroke="#000" stroke-width="1.7" fill="none"/>
<path d="M272.1 390.6L272.1 387.2M272.1 390.6L275.33 389.55M272.1 390.6L274.1 393.35M272.1 390.6L270.1 393.35M272.1 390.6L268.87 389.55" stroke="#000" stroke-width="1.45" fill="none" stroke-linecap="butt"/>
<text x="251.8" y="519.2" font-size="10" text-anchor="middle" font-weight="bold" textLength="37" lengthAdjust="spacingAndGlyphs">KO-Veh</text>
<text x="292.9" y="519.2" font-size="10" text-anchor="middle" font-weight="bold" textLength="35.5" lengthAdjust="spacingAndGlyphs">KO-350</text>
<text x="204.4" y="439.5" font-size="10.2" font-weight="bold" text-anchor="middle" transform="rotate(-90 204.4 439.5)" textLength="88.6" lengthAdjust="spacingAndGlyphs" style="white-space:pre">Total Power  (µV<tspan font-size="6.6" dy="-4">2</tspan><tspan dy="4">)</tspan></text>
<text x="365.6" y="377" font-size="18" font-weight="bold">i</text>
<rect x="420" y="404.2" width="32.4" height="44.2" fill="#bd8bc2" stroke="#5c0c5e" stroke-width="1.7"/>
<line x1="435.8" y1="440.4" x2="435.8" y2="459.5" stroke="#5c0c5e" stroke-width="1"/>
<line x1="427.3" y1="440.4" x2="444.3" y2="440.4" stroke="#5c0c5e" stroke-width="1"/>
<line x1="427.3" y1="459.5" x2="444.3" y2="459.5" stroke="#5c0c5e" stroke-width="1"/>
<circle cx="435.8" cy="400.2" r="2.75" fill="#8c3a8e" stroke="#640f66" stroke-width="0.8"/>
<circle cx="430.6" cy="410.1" r="2.75" fill="#8c3a8e" stroke="#640f66" stroke-width="0.8"/>
<circle cx="440.5" cy="406.4" r="2.75" fill="#8c3a8e" stroke="#640f66" stroke-width="0.8"/>
<circle cx="435.8" cy="428.6" r="2.75" fill="#8c3a8e" stroke="#640f66" stroke-width="0.8"/>
<circle cx="430.6" cy="449.6" r="2.75" fill="#8c3a8e" stroke="#640f66" stroke-width="0.8"/>
<circle cx="440.5" cy="449.6" r="2.75" fill="#8c3a8e" stroke="#640f66" stroke-width="0.8"/>
<circle cx="435.8" cy="456.4" r="2.75" fill="#8c3a8e" stroke="#640f66" stroke-width="0.8"/>
<circle cx="430.6" cy="462.9" r="2.75" fill="#8c3a8e" stroke="#640f66" stroke-width="0.8"/>
<circle cx="440.5" cy="464.5" r="2.75" fill="#8c3a8e" stroke="#640f66" stroke-width="0.8"/>
<circle cx="435.8" cy="483" r="2.75" fill="#8c3a8e" stroke="#640f66" stroke-width="0.8"/>
<circle cx="430.6" cy="492.9" r="2.75" fill="#8c3a8e" stroke="#640f66" stroke-width="0.8"/>
<circle cx="440.5" cy="491.4" r="2.75" fill="#8c3a8e" stroke="#640f66" stroke-width="0.8"/>
<line x1="415.2" y1="378.8" x2="415.2" y2="504" stroke="#000" stroke-width="1.3"/>
<line x1="410" y1="379.4" x2="415.2" y2="379.4" stroke="#000" stroke-width="1.3"/>
<text x="408" y="382.9" font-size="9.8" text-anchor="end" font-weight="bold">20</text>
<line x1="410" y1="404.2" x2="415.2" y2="404.2" stroke="#000" stroke-width="1.3"/>
<text x="408" y="407.7" font-size="9.8" text-anchor="end" font-weight="bold">0</text>
<line x1="410" y1="429" x2="415.2" y2="429" stroke="#000" stroke-width="1.3"/>
<text x="408" y="432.5" font-size="9.8" text-anchor="end" font-weight="bold">-20</text>
<line x1="410" y1="453.8" x2="415.2" y2="453.8" stroke="#000" stroke-width="1.3"/>
<text x="408" y="457.3" font-size="9.8" text-anchor="end" font-weight="bold">-40</text>
<line x1="410" y1="478.6" x2="415.2" y2="478.6" stroke="#000" stroke-width="1.3"/>
<text x="408" y="482.1" font-size="9.8" text-anchor="end" font-weight="bold">-60</text>
<line x1="410" y1="503.4" x2="415.2" y2="503.4" stroke="#000" stroke-width="1.3"/>
<text x="408" y="506.9" font-size="9.8" text-anchor="end" font-weight="bold">-80</text>
<line x1="415.2" y1="404.2" x2="457.6" y2="404.2" stroke="#000" stroke-width="1.3"/>
<line x1="415.2" y1="503.4" x2="457.6" y2="503.4" stroke="#000" stroke-width="1.3"/>
<line x1="435.8" y1="503.4" x2="435.8" y2="508.2" stroke="#000" stroke-width="1.3"/>
<line x1="420.2" y1="393.6" x2="450.7" y2="393.6" stroke="#000" stroke-width="1.8"/>
<path d="M436.2 388.7L436.2 385.3M436.2 388.7L439.43 387.65M436.2 388.7L438.2 391.45M436.2 388.7L434.2 391.45M436.2 388.7L432.97 387.65" stroke="#000" stroke-width="1.45" fill="none" stroke-linecap="butt"/>
<text x="435.9" y="519.2" font-size="10" text-anchor="middle" font-weight="bold" textLength="37" lengthAdjust="spacingAndGlyphs">KO-350</text>
<text x="374.6" y="439.8" font-size="10.2" font-weight="bold" text-anchor="middle" transform="rotate(-90 374.6 439.8)" textLength="103.6" lengthAdjust="spacingAndGlyphs">% Decrease in Power</text>
<text x="386.6" y="440.3" font-size="10.2" font-weight="bold" text-anchor="middle" transform="rotate(-90 386.6 440.3)" textLength="114.5" lengthAdjust="spacingAndGlyphs">(Normalized to KO-Veh)</text></svg>
</body></html>
